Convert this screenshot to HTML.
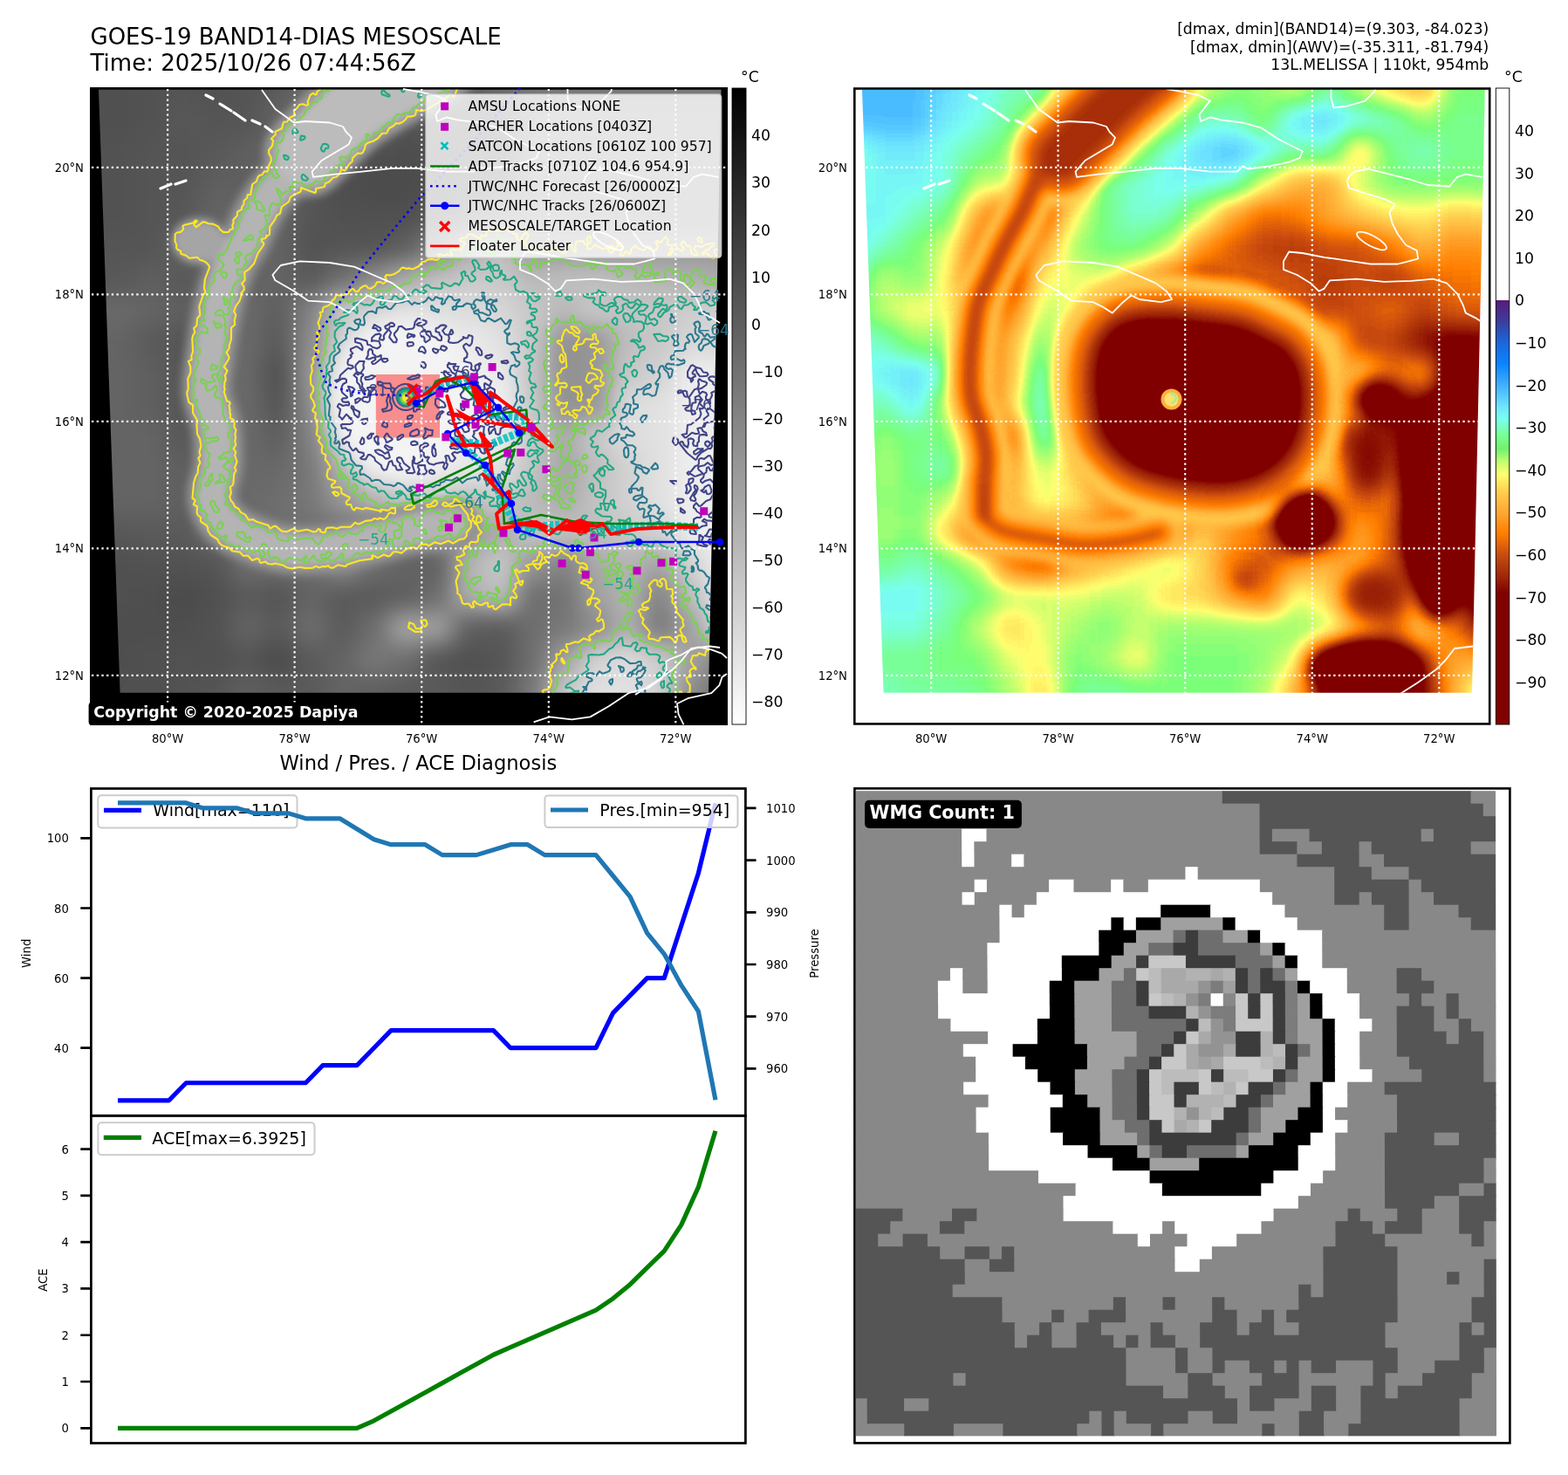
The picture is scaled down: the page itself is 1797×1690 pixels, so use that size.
<!DOCTYPE html><html><head><meta charset="utf-8"><style>html,body{margin:0;padding:0;background:#fff;overflow:hidden}svg{display:block}text{font-family:'DejaVu Sans', 'Liberation Sans', sans-serif}</style></head><body>
<svg xmlns="http://www.w3.org/2000/svg" width="1797" height="1690" viewBox="0 0 1797 1690">
<rect width="1797" height="1690" fill="#fff"/>
<defs><linearGradient id="gGray" x1="0" y1="0" x2="0" y2="1"><stop offset="0" stop-color="#000"/><stop offset="1" stop-color="#fff"/></linearGradient><linearGradient id="gAWV" x1="0" y1="0" x2="0" y2="1"><stop offset="0.0000" stop-color="#ffffff"/><stop offset="0.3333" stop-color="#ffffff"/><stop offset="0.3333" stop-color="#5a1a78"/><stop offset="0.3667" stop-color="#3b3d9e"/><stop offset="0.4000" stop-color="#1b66dc"/><stop offset="0.4333" stop-color="#0a84ff"/><stop offset="0.4667" stop-color="#3fb0ff"/><stop offset="0.5000" stop-color="#6ee4ff"/><stop offset="0.5200" stop-color="#78fff0"/><stop offset="0.5467" stop-color="#78ff90"/><stop offset="0.5667" stop-color="#70f070"/><stop offset="0.5867" stop-color="#c0ff70"/><stop offset="0.6067" stop-color="#ffff70"/><stop offset="0.6333" stop-color="#ffd050"/><stop offset="0.6667" stop-color="#ffa830"/><stop offset="0.7000" stop-color="#ff7e00"/><stop offset="0.7333" stop-color="#c84c10"/><stop offset="0.7667" stop-color="#a02808"/><stop offset="0.7933" stop-color="#800000"/><stop offset="1.0000" stop-color="#800000"/></linearGradient><clipPath id="clipL"><polygon points="113,102.8 826.5,102.8 812,793.8 137.6,793.8"/></clipPath><clipPath id="clipR"><polygon points="988,102.8 1701.8,102.8 1687,793.8 1012.6,793.8"/></clipPath><clipPath id="clipAxL"><rect x="103" y="100" width="731" height="731"/></clipPath><clipPath id="clipW"><rect x="980.7" y="905.6" width="734.3" height="740"/></clipPath><filter id="fL13" x="20" y="20" width="880" height="860" filterUnits="userSpaceOnUse" color-interpolation-filters="sRGB"><feGaussianBlur stdDeviation="13"/></filter><filter id="fL4" x="20" y="20" width="880" height="860" filterUnits="userSpaceOnUse" color-interpolation-filters="sRGB"><feGaussianBlur stdDeviation="5"/></filter><filter id="fL10" x="20" y="20" width="880" height="860" filterUnits="userSpaceOnUse" color-interpolation-filters="sRGB"><feGaussianBlur stdDeviation="12"/></filter><g id="imgL"><g filter="url(#fL13)"><rect x="3.0" y="2.7" width="117.0" height="117.0" fill="rgb(80,80,80)"/><rect x="119.4" y="2.7" width="37.0" height="117.0" fill="rgb(80,80,80)"/><rect x="155.8" y="2.7" width="37.0" height="117.0" fill="rgb(82,82,82)"/><rect x="192.1" y="2.7" width="37.0" height="117.0" fill="rgb(85,85,85)"/><rect x="228.5" y="2.7" width="37.0" height="117.0" fill="rgb(82,82,82)"/><rect x="264.9" y="2.7" width="37.0" height="117.0" fill="rgb(85,85,85)"/><rect x="301.2" y="2.7" width="37.0" height="117.0" fill="rgb(90,90,90)"/><rect x="337.6" y="2.7" width="37.0" height="117.0" fill="rgb(110,110,110)"/><rect x="374.0" y="2.7" width="37.0" height="117.0" fill="rgb(110,110,110)"/><rect x="410.4" y="2.7" width="37.0" height="117.0" fill="rgb(110,110,110)"/><rect x="446.8" y="2.7" width="37.0" height="117.0" fill="rgb(110,110,110)"/><rect x="483.1" y="2.7" width="37.0" height="117.0" fill="rgb(120,120,120)"/><rect x="519.5" y="2.7" width="37.0" height="117.0" fill="rgb(100,100,100)"/><rect x="555.9" y="2.7" width="37.0" height="117.0" fill="rgb(110,110,110)"/><rect x="592.2" y="2.7" width="37.0" height="117.0" fill="rgb(120,120,120)"/><rect x="628.6" y="2.7" width="37.0" height="117.0" fill="rgb(120,120,120)"/><rect x="665.0" y="2.7" width="37.0" height="117.0" fill="rgb(120,120,120)"/><rect x="701.4" y="2.7" width="37.0" height="117.0" fill="rgb(120,120,120)"/><rect x="737.8" y="2.7" width="37.0" height="117.0" fill="rgb(120,120,120)"/><rect x="774.1" y="2.7" width="37.0" height="117.0" fill="rgb(120,120,120)"/><rect x="810.5" y="2.7" width="117.0" height="117.0" fill="rgb(120,120,120)"/><rect x="3.0" y="119.1" width="117.0" height="37.0" fill="rgb(80,80,80)"/><rect x="119.4" y="119.1" width="37.0" height="37.0" fill="rgb(80,80,80)"/><rect x="155.8" y="119.1" width="37.0" height="37.0" fill="rgb(82,82,82)"/><rect x="192.1" y="119.1" width="37.0" height="37.0" fill="rgb(88,88,88)"/><rect x="228.5" y="119.1" width="37.0" height="37.0" fill="rgb(85,85,85)"/><rect x="264.9" y="119.1" width="37.0" height="37.0" fill="rgb(85,85,85)"/><rect x="301.2" y="119.1" width="37.0" height="37.0" fill="rgb(100,100,100)"/><rect x="337.6" y="119.1" width="37.0" height="37.0" fill="rgb(105,105,105)"/><rect x="374.0" y="119.1" width="37.0" height="37.0" fill="rgb(105,105,105)"/><rect x="410.4" y="119.1" width="37.0" height="37.0" fill="rgb(105,105,105)"/><rect x="446.8" y="119.1" width="37.0" height="37.0" fill="rgb(85,85,85)"/><rect x="483.1" y="119.1" width="37.0" height="37.0" fill="rgb(90,90,90)"/><rect x="519.5" y="119.1" width="37.0" height="37.0" fill="rgb(90,90,90)"/><rect x="555.9" y="119.1" width="37.0" height="37.0" fill="rgb(90,90,90)"/><rect x="592.2" y="119.1" width="37.0" height="37.0" fill="rgb(130,130,130)"/><rect x="628.6" y="119.1" width="37.0" height="37.0" fill="rgb(130,130,130)"/><rect x="665.0" y="119.1" width="37.0" height="37.0" fill="rgb(130,130,130)"/><rect x="701.4" y="119.1" width="37.0" height="37.0" fill="rgb(130,130,130)"/><rect x="737.8" y="119.1" width="37.0" height="37.0" fill="rgb(130,130,130)"/><rect x="774.1" y="119.1" width="37.0" height="37.0" fill="rgb(130,130,130)"/><rect x="810.5" y="119.1" width="117.0" height="37.0" fill="rgb(130,130,130)"/><rect x="3.0" y="155.4" width="117.0" height="37.0" fill="rgb(82,82,82)"/><rect x="119.4" y="155.4" width="37.0" height="37.0" fill="rgb(82,82,82)"/><rect x="155.8" y="155.4" width="37.0" height="37.0" fill="rgb(85,85,85)"/><rect x="192.1" y="155.4" width="37.0" height="37.0" fill="rgb(85,85,85)"/><rect x="228.5" y="155.4" width="37.0" height="37.0" fill="rgb(88,88,88)"/><rect x="264.9" y="155.4" width="37.0" height="37.0" fill="rgb(95,95,95)"/><rect x="301.2" y="155.4" width="37.0" height="37.0" fill="rgb(100,100,100)"/><rect x="337.6" y="155.4" width="37.0" height="37.0" fill="rgb(100,100,100)"/><rect x="374.0" y="155.4" width="37.0" height="37.0" fill="rgb(95,95,95)"/><rect x="410.4" y="155.4" width="37.0" height="37.0" fill="rgb(80,80,80)"/><rect x="446.8" y="155.4" width="37.0" height="37.0" fill="rgb(78,78,78)"/><rect x="483.1" y="155.4" width="37.0" height="37.0" fill="rgb(80,80,80)"/><rect x="519.5" y="155.4" width="37.0" height="37.0" fill="rgb(85,85,85)"/><rect x="555.9" y="155.4" width="37.0" height="37.0" fill="rgb(85,85,85)"/><rect x="592.2" y="155.4" width="37.0" height="37.0" fill="rgb(130,130,130)"/><rect x="628.6" y="155.4" width="37.0" height="37.0" fill="rgb(130,130,130)"/><rect x="665.0" y="155.4" width="37.0" height="37.0" fill="rgb(130,130,130)"/><rect x="701.4" y="155.4" width="37.0" height="37.0" fill="rgb(130,130,130)"/><rect x="737.8" y="155.4" width="37.0" height="37.0" fill="rgb(130,130,130)"/><rect x="774.1" y="155.4" width="37.0" height="37.0" fill="rgb(130,130,130)"/><rect x="810.5" y="155.4" width="117.0" height="37.0" fill="rgb(130,130,130)"/><rect x="3.0" y="191.8" width="117.0" height="37.0" fill="rgb(82,82,82)"/><rect x="119.4" y="191.8" width="37.0" height="37.0" fill="rgb(82,82,82)"/><rect x="155.8" y="191.8" width="37.0" height="37.0" fill="rgb(85,85,85)"/><rect x="192.1" y="191.8" width="37.0" height="37.0" fill="rgb(85,85,85)"/><rect x="228.5" y="191.8" width="37.0" height="37.0" fill="rgb(95,95,95)"/><rect x="264.9" y="191.8" width="37.0" height="37.0" fill="rgb(95,95,95)"/><rect x="301.2" y="191.8" width="37.0" height="37.0" fill="rgb(95,95,95)"/><rect x="337.6" y="191.8" width="37.0" height="37.0" fill="rgb(85,85,85)"/><rect x="374.0" y="191.8" width="37.0" height="37.0" fill="rgb(78,78,78)"/><rect x="410.4" y="191.8" width="37.0" height="37.0" fill="rgb(75,75,75)"/><rect x="446.8" y="191.8" width="37.0" height="37.0" fill="rgb(75,75,75)"/><rect x="483.1" y="191.8" width="37.0" height="37.0" fill="rgb(80,80,80)"/><rect x="519.5" y="191.8" width="37.0" height="37.0" fill="rgb(85,85,85)"/><rect x="555.9" y="191.8" width="37.0" height="37.0" fill="rgb(90,90,90)"/><rect x="592.2" y="191.8" width="37.0" height="37.0" fill="rgb(130,130,130)"/><rect x="628.6" y="191.8" width="37.0" height="37.0" fill="rgb(130,130,130)"/><rect x="665.0" y="191.8" width="37.0" height="37.0" fill="rgb(130,130,130)"/><rect x="701.4" y="191.8" width="37.0" height="37.0" fill="rgb(130,130,130)"/><rect x="737.8" y="191.8" width="37.0" height="37.0" fill="rgb(130,130,130)"/><rect x="774.1" y="191.8" width="37.0" height="37.0" fill="rgb(130,130,130)"/><rect x="810.5" y="191.8" width="117.0" height="37.0" fill="rgb(130,130,130)"/><rect x="3.0" y="228.2" width="117.0" height="37.0" fill="rgb(82,82,82)"/><rect x="119.4" y="228.2" width="37.0" height="37.0" fill="rgb(82,82,82)"/><rect x="155.8" y="228.2" width="37.0" height="37.0" fill="rgb(85,85,85)"/><rect x="192.1" y="228.2" width="37.0" height="37.0" fill="rgb(88,88,88)"/><rect x="228.5" y="228.2" width="37.0" height="37.0" fill="rgb(100,100,100)"/><rect x="264.9" y="228.2" width="37.0" height="37.0" fill="rgb(100,100,100)"/><rect x="301.2" y="228.2" width="37.0" height="37.0" fill="rgb(100,100,100)"/><rect x="337.6" y="228.2" width="37.0" height="37.0" fill="rgb(85,85,85)"/><rect x="374.0" y="228.2" width="37.0" height="37.0" fill="rgb(80,80,80)"/><rect x="410.4" y="228.2" width="37.0" height="37.0" fill="rgb(80,80,80)"/><rect x="446.8" y="228.2" width="37.0" height="37.0" fill="rgb(80,80,80)"/><rect x="483.1" y="228.2" width="37.0" height="37.0" fill="rgb(85,85,85)"/><rect x="519.5" y="228.2" width="37.0" height="37.0" fill="rgb(100,100,100)"/><rect x="555.9" y="228.2" width="37.0" height="37.0" fill="rgb(120,120,120)"/><rect x="592.2" y="228.2" width="37.0" height="37.0" fill="rgb(130,130,130)"/><rect x="628.6" y="228.2" width="37.0" height="37.0" fill="rgb(130,130,130)"/><rect x="665.0" y="228.2" width="37.0" height="37.0" fill="rgb(130,130,130)"/><rect x="701.4" y="228.2" width="37.0" height="37.0" fill="rgb(130,130,130)"/><rect x="737.8" y="228.2" width="37.0" height="37.0" fill="rgb(130,130,130)"/><rect x="774.1" y="228.2" width="37.0" height="37.0" fill="rgb(130,130,130)"/><rect x="810.5" y="228.2" width="117.0" height="37.0" fill="rgb(130,130,130)"/><rect x="3.0" y="264.6" width="117.0" height="37.0" fill="rgb(85,85,85)"/><rect x="119.4" y="264.6" width="37.0" height="37.0" fill="rgb(85,85,85)"/><rect x="155.8" y="264.6" width="37.0" height="37.0" fill="rgb(85,85,85)"/><rect x="192.1" y="264.6" width="37.0" height="37.0" fill="rgb(100,100,100)"/><rect x="228.5" y="264.6" width="37.0" height="37.0" fill="rgb(100,100,100)"/><rect x="264.9" y="264.6" width="37.0" height="37.0" fill="rgb(100,100,100)"/><rect x="301.2" y="264.6" width="37.0" height="37.0" fill="rgb(100,100,100)"/><rect x="337.6" y="264.6" width="37.0" height="37.0" fill="rgb(82,82,82)"/><rect x="374.0" y="264.6" width="37.0" height="37.0" fill="rgb(85,85,85)"/><rect x="410.4" y="264.6" width="37.0" height="37.0" fill="rgb(85,85,85)"/><rect x="446.8" y="264.6" width="37.0" height="37.0" fill="rgb(95,95,95)"/><rect x="483.1" y="264.6" width="37.0" height="37.0" fill="rgb(130,130,130)"/><rect x="519.5" y="264.6" width="37.0" height="37.0" fill="rgb(170,170,170)"/><rect x="555.9" y="264.6" width="37.0" height="37.0" fill="rgb(190,190,190)"/><rect x="592.2" y="264.6" width="37.0" height="37.0" fill="rgb(150,150,150)"/><rect x="628.6" y="264.6" width="37.0" height="37.0" fill="rgb(150,150,150)"/><rect x="665.0" y="264.6" width="37.0" height="37.0" fill="rgb(150,150,150)"/><rect x="701.4" y="264.6" width="37.0" height="37.0" fill="rgb(150,150,150)"/><rect x="737.8" y="264.6" width="37.0" height="37.0" fill="rgb(150,150,150)"/><rect x="774.1" y="264.6" width="37.0" height="37.0" fill="rgb(150,150,150)"/><rect x="810.5" y="264.6" width="117.0" height="37.0" fill="rgb(150,150,150)"/><rect x="3.0" y="300.9" width="117.0" height="37.0" fill="rgb(88,88,88)"/><rect x="119.4" y="300.9" width="37.0" height="37.0" fill="rgb(88,88,88)"/><rect x="155.8" y="300.9" width="37.0" height="37.0" fill="rgb(95,95,95)"/><rect x="192.1" y="300.9" width="37.0" height="37.0" fill="rgb(88,88,88)"/><rect x="228.5" y="300.9" width="37.0" height="37.0" fill="rgb(100,100,100)"/><rect x="264.9" y="300.9" width="37.0" height="37.0" fill="rgb(100,100,100)"/><rect x="301.2" y="300.9" width="37.0" height="37.0" fill="rgb(100,100,100)"/><rect x="337.6" y="300.9" width="37.0" height="37.0" fill="rgb(90,90,90)"/><rect x="374.0" y="300.9" width="37.0" height="37.0" fill="rgb(110,110,110)"/><rect x="410.4" y="300.9" width="37.0" height="37.0" fill="rgb(140,140,140)"/><rect x="446.8" y="300.9" width="37.0" height="37.0" fill="rgb(170,170,170)"/><rect x="483.1" y="300.9" width="37.0" height="37.0" fill="rgb(190,190,190)"/><rect x="519.5" y="300.9" width="37.0" height="37.0" fill="rgb(200,200,200)"/><rect x="555.9" y="300.9" width="37.0" height="37.0" fill="rgb(200,200,200)"/><rect x="592.2" y="300.9" width="37.0" height="37.0" fill="rgb(185,185,185)"/><rect x="628.6" y="300.9" width="37.0" height="37.0" fill="rgb(190,190,190)"/><rect x="665.0" y="300.9" width="37.0" height="37.0" fill="rgb(190,190,190)"/><rect x="701.4" y="300.9" width="37.0" height="37.0" fill="rgb(185,185,185)"/><rect x="737.8" y="300.9" width="37.0" height="37.0" fill="rgb(180,180,180)"/><rect x="774.1" y="300.9" width="37.0" height="37.0" fill="rgb(175,175,175)"/><rect x="810.5" y="300.9" width="117.0" height="37.0" fill="rgb(170,170,170)"/><rect x="3.0" y="337.3" width="117.0" height="37.0" fill="rgb(105,105,105)"/><rect x="119.4" y="337.3" width="37.0" height="37.0" fill="rgb(105,105,105)"/><rect x="155.8" y="337.3" width="37.0" height="37.0" fill="rgb(100,100,100)"/><rect x="192.1" y="337.3" width="37.0" height="37.0" fill="rgb(95,95,95)"/><rect x="228.5" y="337.3" width="37.0" height="37.0" fill="rgb(105,105,105)"/><rect x="264.9" y="337.3" width="37.0" height="37.0" fill="rgb(105,105,105)"/><rect x="301.2" y="337.3" width="37.0" height="37.0" fill="rgb(95,95,95)"/><rect x="337.6" y="337.3" width="37.0" height="37.0" fill="rgb(130,130,130)"/><rect x="374.0" y="337.3" width="37.0" height="37.0" fill="rgb(200,200,200)"/><rect x="410.4" y="337.3" width="37.0" height="37.0" fill="rgb(215,215,215)"/><rect x="446.8" y="337.3" width="37.0" height="37.0" fill="rgb(225,225,225)"/><rect x="483.1" y="337.3" width="37.0" height="37.0" fill="rgb(225,225,225)"/><rect x="519.5" y="337.3" width="37.0" height="37.0" fill="rgb(220,220,220)"/><rect x="555.9" y="337.3" width="37.0" height="37.0" fill="rgb(215,215,215)"/><rect x="592.2" y="337.3" width="37.0" height="37.0" fill="rgb(200,200,200)"/><rect x="628.6" y="337.3" width="37.0" height="37.0" fill="rgb(185,185,185)"/><rect x="665.0" y="337.3" width="37.0" height="37.0" fill="rgb(200,200,200)"/><rect x="701.4" y="337.3" width="37.0" height="37.0" fill="rgb(195,195,195)"/><rect x="737.8" y="337.3" width="37.0" height="37.0" fill="rgb(200,200,200)"/><rect x="774.1" y="337.3" width="37.0" height="37.0" fill="rgb(205,205,205)"/><rect x="810.5" y="337.3" width="117.0" height="37.0" fill="rgb(210,210,210)"/><rect x="3.0" y="373.7" width="117.0" height="37.0" fill="rgb(100,100,100)"/><rect x="119.4" y="373.7" width="37.0" height="37.0" fill="rgb(100,100,100)"/><rect x="155.8" y="373.7" width="37.0" height="37.0" fill="rgb(90,90,90)"/><rect x="192.1" y="373.7" width="37.0" height="37.0" fill="rgb(85,85,85)"/><rect x="228.5" y="373.7" width="37.0" height="37.0" fill="rgb(105,105,105)"/><rect x="264.9" y="373.7" width="37.0" height="37.0" fill="rgb(105,105,105)"/><rect x="301.2" y="373.7" width="37.0" height="37.0" fill="rgb(90,90,90)"/><rect x="337.6" y="373.7" width="37.0" height="37.0" fill="rgb(140,140,140)"/><rect x="374.0" y="373.7" width="37.0" height="37.0" fill="rgb(210,210,210)"/><rect x="410.4" y="373.7" width="37.0" height="37.0" fill="rgb(235,235,235)"/><rect x="446.8" y="373.7" width="37.0" height="37.0" fill="rgb(240,240,240)"/><rect x="483.1" y="373.7" width="37.0" height="37.0" fill="rgb(240,240,240)"/><rect x="519.5" y="373.7" width="37.0" height="37.0" fill="rgb(235,235,235)"/><rect x="555.9" y="373.7" width="37.0" height="37.0" fill="rgb(225,225,225)"/><rect x="592.2" y="373.7" width="37.0" height="37.0" fill="rgb(200,200,200)"/><rect x="628.6" y="373.7" width="37.0" height="37.0" fill="rgb(145,145,145)"/><rect x="665.0" y="373.7" width="37.0" height="37.0" fill="rgb(150,150,150)"/><rect x="701.4" y="373.7" width="37.0" height="37.0" fill="rgb(190,190,190)"/><rect x="737.8" y="373.7" width="37.0" height="37.0" fill="rgb(200,200,200)"/><rect x="774.1" y="373.7" width="37.0" height="37.0" fill="rgb(215,215,215)"/><rect x="810.5" y="373.7" width="117.0" height="37.0" fill="rgb(215,215,215)"/><rect x="3.0" y="410.1" width="117.0" height="37.0" fill="rgb(100,100,100)"/><rect x="119.4" y="410.1" width="37.0" height="37.0" fill="rgb(100,100,100)"/><rect x="155.8" y="410.1" width="37.0" height="37.0" fill="rgb(95,95,95)"/><rect x="192.1" y="410.1" width="37.0" height="37.0" fill="rgb(85,85,85)"/><rect x="228.5" y="410.1" width="37.0" height="37.0" fill="rgb(105,105,105)"/><rect x="264.9" y="410.1" width="37.0" height="37.0" fill="rgb(105,105,105)"/><rect x="301.2" y="410.1" width="37.0" height="37.0" fill="rgb(80,80,80)"/><rect x="337.6" y="410.1" width="37.0" height="37.0" fill="rgb(150,150,150)"/><rect x="374.0" y="410.1" width="37.0" height="37.0" fill="rgb(215,215,215)"/><rect x="410.4" y="410.1" width="37.0" height="37.0" fill="rgb(240,240,240)"/><rect x="446.8" y="410.1" width="37.0" height="37.0" fill="rgb(240,240,240)"/><rect x="483.1" y="410.1" width="37.0" height="37.0" fill="rgb(245,245,245)"/><rect x="519.5" y="410.1" width="37.0" height="37.0" fill="rgb(240,240,240)"/><rect x="555.9" y="410.1" width="37.0" height="37.0" fill="rgb(235,235,235)"/><rect x="592.2" y="410.1" width="37.0" height="37.0" fill="rgb(195,195,195)"/><rect x="628.6" y="410.1" width="37.0" height="37.0" fill="rgb(145,145,145)"/><rect x="665.0" y="410.1" width="37.0" height="37.0" fill="rgb(150,150,150)"/><rect x="701.4" y="410.1" width="37.0" height="37.0" fill="rgb(200,200,200)"/><rect x="737.8" y="410.1" width="37.0" height="37.0" fill="rgb(210,210,210)"/><rect x="774.1" y="410.1" width="37.0" height="37.0" fill="rgb(238,238,238)"/><rect x="810.5" y="410.1" width="117.0" height="37.0" fill="rgb(238,238,238)"/><rect x="3.0" y="446.4" width="117.0" height="37.0" fill="rgb(100,100,100)"/><rect x="119.4" y="446.4" width="37.0" height="37.0" fill="rgb(100,100,100)"/><rect x="155.8" y="446.4" width="37.0" height="37.0" fill="rgb(95,95,95)"/><rect x="192.1" y="446.4" width="37.0" height="37.0" fill="rgb(85,85,85)"/><rect x="228.5" y="446.4" width="37.0" height="37.0" fill="rgb(105,105,105)"/><rect x="264.9" y="446.4" width="37.0" height="37.0" fill="rgb(105,105,105)"/><rect x="301.2" y="446.4" width="37.0" height="37.0" fill="rgb(85,85,85)"/><rect x="337.6" y="446.4" width="37.0" height="37.0" fill="rgb(140,140,140)"/><rect x="374.0" y="446.4" width="37.0" height="37.0" fill="rgb(215,215,215)"/><rect x="410.4" y="446.4" width="37.0" height="37.0" fill="rgb(240,240,240)"/><rect x="446.8" y="446.4" width="37.0" height="37.0" fill="rgb(240,240,240)"/><rect x="483.1" y="446.4" width="37.0" height="37.0" fill="rgb(240,240,240)"/><rect x="519.5" y="446.4" width="37.0" height="37.0" fill="rgb(240,240,240)"/><rect x="555.9" y="446.4" width="37.0" height="37.0" fill="rgb(240,240,240)"/><rect x="592.2" y="446.4" width="37.0" height="37.0" fill="rgb(200,200,200)"/><rect x="628.6" y="446.4" width="37.0" height="37.0" fill="rgb(145,145,145)"/><rect x="665.0" y="446.4" width="37.0" height="37.0" fill="rgb(150,150,150)"/><rect x="701.4" y="446.4" width="37.0" height="37.0" fill="rgb(220,220,220)"/><rect x="737.8" y="446.4" width="37.0" height="37.0" fill="rgb(225,225,225)"/><rect x="774.1" y="446.4" width="37.0" height="37.0" fill="rgb(238,238,238)"/><rect x="810.5" y="446.4" width="117.0" height="37.0" fill="rgb(238,238,238)"/><rect x="3.0" y="482.8" width="117.0" height="37.0" fill="rgb(100,100,100)"/><rect x="119.4" y="482.8" width="37.0" height="37.0" fill="rgb(100,100,100)"/><rect x="155.8" y="482.8" width="37.0" height="37.0" fill="rgb(100,100,100)"/><rect x="192.1" y="482.8" width="37.0" height="37.0" fill="rgb(88,88,88)"/><rect x="228.5" y="482.8" width="37.0" height="37.0" fill="rgb(105,105,105)"/><rect x="264.9" y="482.8" width="37.0" height="37.0" fill="rgb(105,105,105)"/><rect x="301.2" y="482.8" width="37.0" height="37.0" fill="rgb(95,95,95)"/><rect x="337.6" y="482.8" width="37.0" height="37.0" fill="rgb(130,130,130)"/><rect x="374.0" y="482.8" width="37.0" height="37.0" fill="rgb(210,210,210)"/><rect x="410.4" y="482.8" width="37.0" height="37.0" fill="rgb(235,235,235)"/><rect x="446.8" y="482.8" width="37.0" height="37.0" fill="rgb(240,240,240)"/><rect x="483.1" y="482.8" width="37.0" height="37.0" fill="rgb(240,240,240)"/><rect x="519.5" y="482.8" width="37.0" height="37.0" fill="rgb(240,240,240)"/><rect x="555.9" y="482.8" width="37.0" height="37.0" fill="rgb(235,235,235)"/><rect x="592.2" y="482.8" width="37.0" height="37.0" fill="rgb(200,200,200)"/><rect x="628.6" y="482.8" width="37.0" height="37.0" fill="rgb(170,170,170)"/><rect x="665.0" y="482.8" width="37.0" height="37.0" fill="rgb(200,200,200)"/><rect x="701.4" y="482.8" width="37.0" height="37.0" fill="rgb(220,220,220)"/><rect x="737.8" y="482.8" width="37.0" height="37.0" fill="rgb(225,225,225)"/><rect x="774.1" y="482.8" width="37.0" height="37.0" fill="rgb(238,238,238)"/><rect x="810.5" y="482.8" width="117.0" height="37.0" fill="rgb(238,238,238)"/><rect x="3.0" y="519.2" width="117.0" height="37.0" fill="rgb(100,100,100)"/><rect x="119.4" y="519.2" width="37.0" height="37.0" fill="rgb(100,100,100)"/><rect x="155.8" y="519.2" width="37.0" height="37.0" fill="rgb(100,100,100)"/><rect x="192.1" y="519.2" width="37.0" height="37.0" fill="rgb(95,95,95)"/><rect x="228.5" y="519.2" width="37.0" height="37.0" fill="rgb(105,105,105)"/><rect x="264.9" y="519.2" width="37.0" height="37.0" fill="rgb(105,105,105)"/><rect x="301.2" y="519.2" width="37.0" height="37.0" fill="rgb(105,105,105)"/><rect x="337.6" y="519.2" width="37.0" height="37.0" fill="rgb(120,120,120)"/><rect x="374.0" y="519.2" width="37.0" height="37.0" fill="rgb(180,180,180)"/><rect x="410.4" y="519.2" width="37.0" height="37.0" fill="rgb(225,225,225)"/><rect x="446.8" y="519.2" width="37.0" height="37.0" fill="rgb(235,235,235)"/><rect x="483.1" y="519.2" width="37.0" height="37.0" fill="rgb(235,235,235)"/><rect x="519.5" y="519.2" width="37.0" height="37.0" fill="rgb(230,230,230)"/><rect x="555.9" y="519.2" width="37.0" height="37.0" fill="rgb(225,225,225)"/><rect x="592.2" y="519.2" width="37.0" height="37.0" fill="rgb(195,195,195)"/><rect x="628.6" y="519.2" width="37.0" height="37.0" fill="rgb(165,165,165)"/><rect x="665.0" y="519.2" width="37.0" height="37.0" fill="rgb(190,190,190)"/><rect x="701.4" y="519.2" width="37.0" height="37.0" fill="rgb(210,210,210)"/><rect x="737.8" y="519.2" width="37.0" height="37.0" fill="rgb(225,225,225)"/><rect x="774.1" y="519.2" width="37.0" height="37.0" fill="rgb(238,238,238)"/><rect x="810.5" y="519.2" width="117.0" height="37.0" fill="rgb(238,238,238)"/><rect x="3.0" y="555.6" width="117.0" height="37.0" fill="rgb(100,100,100)"/><rect x="119.4" y="555.6" width="37.0" height="37.0" fill="rgb(100,100,100)"/><rect x="155.8" y="555.6" width="37.0" height="37.0" fill="rgb(100,100,100)"/><rect x="192.1" y="555.6" width="37.0" height="37.0" fill="rgb(95,95,95)"/><rect x="228.5" y="555.6" width="37.0" height="37.0" fill="rgb(105,105,105)"/><rect x="264.9" y="555.6" width="37.0" height="37.0" fill="rgb(105,105,105)"/><rect x="301.2" y="555.6" width="37.0" height="37.0" fill="rgb(110,110,110)"/><rect x="337.6" y="555.6" width="37.0" height="37.0" fill="rgb(120,120,120)"/><rect x="374.0" y="555.6" width="37.0" height="37.0" fill="rgb(150,150,150)"/><rect x="410.4" y="555.6" width="37.0" height="37.0" fill="rgb(180,180,180)"/><rect x="446.8" y="555.6" width="37.0" height="37.0" fill="rgb(200,200,200)"/><rect x="483.1" y="555.6" width="37.0" height="37.0" fill="rgb(200,200,200)"/><rect x="519.5" y="555.6" width="37.0" height="37.0" fill="rgb(190,190,190)"/><rect x="555.9" y="555.6" width="37.0" height="37.0" fill="rgb(200,200,200)"/><rect x="592.2" y="555.6" width="37.0" height="37.0" fill="rgb(185,185,185)"/><rect x="628.6" y="555.6" width="37.0" height="37.0" fill="rgb(170,170,170)"/><rect x="665.0" y="555.6" width="37.0" height="37.0" fill="rgb(195,195,195)"/><rect x="701.4" y="555.6" width="37.0" height="37.0" fill="rgb(210,210,210)"/><rect x="737.8" y="555.6" width="37.0" height="37.0" fill="rgb(225,225,225)"/><rect x="774.1" y="555.6" width="37.0" height="37.0" fill="rgb(238,238,238)"/><rect x="810.5" y="555.6" width="117.0" height="37.0" fill="rgb(238,238,238)"/><rect x="3.0" y="592.0" width="117.0" height="37.0" fill="rgb(88,88,88)"/><rect x="119.4" y="592.0" width="37.0" height="37.0" fill="rgb(88,88,88)"/><rect x="155.8" y="592.0" width="37.0" height="37.0" fill="rgb(90,90,90)"/><rect x="192.1" y="592.0" width="37.0" height="37.0" fill="rgb(90,90,90)"/><rect x="228.5" y="592.0" width="37.0" height="37.0" fill="rgb(110,110,110)"/><rect x="264.9" y="592.0" width="37.0" height="37.0" fill="rgb(110,110,110)"/><rect x="301.2" y="592.0" width="37.0" height="37.0" fill="rgb(110,110,110)"/><rect x="337.6" y="592.0" width="37.0" height="37.0" fill="rgb(110,110,110)"/><rect x="374.0" y="592.0" width="37.0" height="37.0" fill="rgb(110,110,110)"/><rect x="410.4" y="592.0" width="37.0" height="37.0" fill="rgb(110,110,110)"/><rect x="446.8" y="592.0" width="37.0" height="37.0" fill="rgb(110,110,110)"/><rect x="483.1" y="592.0" width="37.0" height="37.0" fill="rgb(150,150,150)"/><rect x="519.5" y="592.0" width="37.0" height="37.0" fill="rgb(150,150,150)"/><rect x="555.9" y="592.0" width="37.0" height="37.0" fill="rgb(170,170,170)"/><rect x="592.2" y="592.0" width="37.0" height="37.0" fill="rgb(200,200,200)"/><rect x="628.6" y="592.0" width="37.0" height="37.0" fill="rgb(195,195,195)"/><rect x="665.0" y="592.0" width="37.0" height="37.0" fill="rgb(190,190,190)"/><rect x="701.4" y="592.0" width="37.0" height="37.0" fill="rgb(200,200,200)"/><rect x="737.8" y="592.0" width="37.0" height="37.0" fill="rgb(210,210,210)"/><rect x="774.1" y="592.0" width="37.0" height="37.0" fill="rgb(238,238,238)"/><rect x="810.5" y="592.0" width="117.0" height="37.0" fill="rgb(238,238,238)"/><rect x="3.0" y="628.3" width="117.0" height="37.0" fill="rgb(80,80,80)"/><rect x="119.4" y="628.3" width="37.0" height="37.0" fill="rgb(80,80,80)"/><rect x="155.8" y="628.3" width="37.0" height="37.0" fill="rgb(82,82,82)"/><rect x="192.1" y="628.3" width="37.0" height="37.0" fill="rgb(82,82,82)"/><rect x="228.5" y="628.3" width="37.0" height="37.0" fill="rgb(85,85,85)"/><rect x="264.9" y="628.3" width="37.0" height="37.0" fill="rgb(110,110,110)"/><rect x="301.2" y="628.3" width="37.0" height="37.0" fill="rgb(110,110,110)"/><rect x="337.6" y="628.3" width="37.0" height="37.0" fill="rgb(110,110,110)"/><rect x="374.0" y="628.3" width="37.0" height="37.0" fill="rgb(140,140,140)"/><rect x="410.4" y="628.3" width="37.0" height="37.0" fill="rgb(110,110,110)"/><rect x="446.8" y="628.3" width="37.0" height="37.0" fill="rgb(100,100,100)"/><rect x="483.1" y="628.3" width="37.0" height="37.0" fill="rgb(95,95,95)"/><rect x="519.5" y="628.3" width="37.0" height="37.0" fill="rgb(180,180,180)"/><rect x="555.9" y="628.3" width="37.0" height="37.0" fill="rgb(200,200,200)"/><rect x="592.2" y="628.3" width="37.0" height="37.0" fill="rgb(150,150,150)"/><rect x="628.6" y="628.3" width="37.0" height="37.0" fill="rgb(130,130,130)"/><rect x="665.0" y="628.3" width="37.0" height="37.0" fill="rgb(170,170,170)"/><rect x="701.4" y="628.3" width="37.0" height="37.0" fill="rgb(180,180,180)"/><rect x="737.8" y="628.3" width="37.0" height="37.0" fill="rgb(165,165,165)"/><rect x="774.1" y="628.3" width="37.0" height="37.0" fill="rgb(210,210,210)"/><rect x="810.5" y="628.3" width="117.0" height="37.0" fill="rgb(240,240,240)"/><rect x="3.0" y="664.7" width="117.0" height="37.0" fill="rgb(80,80,80)"/><rect x="119.4" y="664.7" width="37.0" height="37.0" fill="rgb(80,80,80)"/><rect x="155.8" y="664.7" width="37.0" height="37.0" fill="rgb(78,78,78)"/><rect x="192.1" y="664.7" width="37.0" height="37.0" fill="rgb(75,75,75)"/><rect x="228.5" y="664.7" width="37.0" height="37.0" fill="rgb(80,80,80)"/><rect x="264.9" y="664.7" width="37.0" height="37.0" fill="rgb(90,90,90)"/><rect x="301.2" y="664.7" width="37.0" height="37.0" fill="rgb(85,85,85)"/><rect x="337.6" y="664.7" width="37.0" height="37.0" fill="rgb(100,100,100)"/><rect x="374.0" y="664.7" width="37.0" height="37.0" fill="rgb(90,90,90)"/><rect x="410.4" y="664.7" width="37.0" height="37.0" fill="rgb(90,90,90)"/><rect x="446.8" y="664.7" width="37.0" height="37.0" fill="rgb(95,95,95)"/><rect x="483.1" y="664.7" width="37.0" height="37.0" fill="rgb(110,110,110)"/><rect x="519.5" y="664.7" width="37.0" height="37.0" fill="rgb(175,175,175)"/><rect x="555.9" y="664.7" width="37.0" height="37.0" fill="rgb(190,190,190)"/><rect x="592.2" y="664.7" width="37.0" height="37.0" fill="rgb(110,110,110)"/><rect x="628.6" y="664.7" width="37.0" height="37.0" fill="rgb(115,115,115)"/><rect x="665.0" y="664.7" width="37.0" height="37.0" fill="rgb(160,160,160)"/><rect x="701.4" y="664.7" width="37.0" height="37.0" fill="rgb(180,180,180)"/><rect x="737.8" y="664.7" width="37.0" height="37.0" fill="rgb(130,130,130)"/><rect x="774.1" y="664.7" width="37.0" height="37.0" fill="rgb(190,190,190)"/><rect x="810.5" y="664.7" width="117.0" height="37.0" fill="rgb(235,235,235)"/><rect x="3.0" y="701.1" width="117.0" height="37.0" fill="rgb(78,78,78)"/><rect x="119.4" y="701.1" width="37.0" height="37.0" fill="rgb(78,78,78)"/><rect x="155.8" y="701.1" width="37.0" height="37.0" fill="rgb(78,78,78)"/><rect x="192.1" y="701.1" width="37.0" height="37.0" fill="rgb(78,78,78)"/><rect x="228.5" y="701.1" width="37.0" height="37.0" fill="rgb(82,82,82)"/><rect x="264.9" y="701.1" width="37.0" height="37.0" fill="rgb(100,100,100)"/><rect x="301.2" y="701.1" width="37.0" height="37.0" fill="rgb(90,90,90)"/><rect x="337.6" y="701.1" width="37.0" height="37.0" fill="rgb(110,110,110)"/><rect x="374.0" y="701.1" width="37.0" height="37.0" fill="rgb(90,90,90)"/><rect x="410.4" y="701.1" width="37.0" height="37.0" fill="rgb(110,110,110)"/><rect x="446.8" y="701.1" width="37.0" height="37.0" fill="rgb(165,165,165)"/><rect x="483.1" y="701.1" width="37.0" height="37.0" fill="rgb(160,160,160)"/><rect x="519.5" y="701.1" width="37.0" height="37.0" fill="rgb(95,95,95)"/><rect x="555.9" y="701.1" width="37.0" height="37.0" fill="rgb(90,90,90)"/><rect x="592.2" y="701.1" width="37.0" height="37.0" fill="rgb(110,110,110)"/><rect x="628.6" y="701.1" width="37.0" height="37.0" fill="rgb(120,120,120)"/><rect x="665.0" y="701.1" width="37.0" height="37.0" fill="rgb(140,140,140)"/><rect x="701.4" y="701.1" width="37.0" height="37.0" fill="rgb(175,175,175)"/><rect x="737.8" y="701.1" width="37.0" height="37.0" fill="rgb(120,120,120)"/><rect x="774.1" y="701.1" width="37.0" height="37.0" fill="rgb(160,160,160)"/><rect x="810.5" y="701.1" width="117.0" height="37.0" fill="rgb(225,225,225)"/><rect x="3.0" y="737.5" width="117.0" height="37.0" fill="rgb(78,78,78)"/><rect x="119.4" y="737.5" width="37.0" height="37.0" fill="rgb(78,78,78)"/><rect x="155.8" y="737.5" width="37.0" height="37.0" fill="rgb(80,80,80)"/><rect x="192.1" y="737.5" width="37.0" height="37.0" fill="rgb(82,82,82)"/><rect x="228.5" y="737.5" width="37.0" height="37.0" fill="rgb(80,80,80)"/><rect x="264.9" y="737.5" width="37.0" height="37.0" fill="rgb(85,85,85)"/><rect x="301.2" y="737.5" width="37.0" height="37.0" fill="rgb(75,75,75)"/><rect x="337.6" y="737.5" width="37.0" height="37.0" fill="rgb(90,90,90)"/><rect x="374.0" y="737.5" width="37.0" height="37.0" fill="rgb(100,100,100)"/><rect x="410.4" y="737.5" width="37.0" height="37.0" fill="rgb(120,120,120)"/><rect x="446.8" y="737.5" width="37.0" height="37.0" fill="rgb(110,110,110)"/><rect x="483.1" y="737.5" width="37.0" height="37.0" fill="rgb(85,85,85)"/><rect x="519.5" y="737.5" width="37.0" height="37.0" fill="rgb(80,80,80)"/><rect x="555.9" y="737.5" width="37.0" height="37.0" fill="rgb(85,85,85)"/><rect x="592.2" y="737.5" width="37.0" height="37.0" fill="rgb(110,110,110)"/><rect x="628.6" y="737.5" width="37.0" height="37.0" fill="rgb(160,160,160)"/><rect x="665.0" y="737.5" width="37.0" height="37.0" fill="rgb(210,210,210)"/><rect x="701.4" y="737.5" width="37.0" height="37.0" fill="rgb(220,220,220)"/><rect x="737.8" y="737.5" width="37.0" height="37.0" fill="rgb(205,205,205)"/><rect x="774.1" y="737.5" width="37.0" height="37.0" fill="rgb(160,160,160)"/><rect x="810.5" y="737.5" width="117.0" height="37.0" fill="rgb(130,130,130)"/><rect x="3.0" y="773.8" width="117.0" height="37.0" fill="rgb(80,80,80)"/><rect x="119.4" y="773.8" width="37.0" height="37.0" fill="rgb(80,80,80)"/><rect x="155.8" y="773.8" width="37.0" height="37.0" fill="rgb(80,80,80)"/><rect x="192.1" y="773.8" width="37.0" height="37.0" fill="rgb(82,82,82)"/><rect x="228.5" y="773.8" width="37.0" height="37.0" fill="rgb(85,85,85)"/><rect x="264.9" y="773.8" width="37.0" height="37.0" fill="rgb(95,95,95)"/><rect x="301.2" y="773.8" width="37.0" height="37.0" fill="rgb(90,90,90)"/><rect x="337.6" y="773.8" width="37.0" height="37.0" fill="rgb(90,90,90)"/><rect x="374.0" y="773.8" width="37.0" height="37.0" fill="rgb(100,100,100)"/><rect x="410.4" y="773.8" width="37.0" height="37.0" fill="rgb(95,95,95)"/><rect x="446.8" y="773.8" width="37.0" height="37.0" fill="rgb(90,90,90)"/><rect x="483.1" y="773.8" width="37.0" height="37.0" fill="rgb(90,90,90)"/><rect x="519.5" y="773.8" width="37.0" height="37.0" fill="rgb(85,85,85)"/><rect x="555.9" y="773.8" width="37.0" height="37.0" fill="rgb(90,90,90)"/><rect x="592.2" y="773.8" width="37.0" height="37.0" fill="rgb(120,120,120)"/><rect x="628.6" y="773.8" width="37.0" height="37.0" fill="rgb(200,200,200)"/><rect x="665.0" y="773.8" width="37.0" height="37.0" fill="rgb(225,225,225)"/><rect x="701.4" y="773.8" width="37.0" height="37.0" fill="rgb(225,225,225)"/><rect x="737.8" y="773.8" width="37.0" height="37.0" fill="rgb(210,210,210)"/><rect x="774.1" y="773.8" width="37.0" height="37.0" fill="rgb(140,140,140)"/><rect x="810.5" y="773.8" width="117.0" height="37.0" fill="rgb(110,110,110)"/><rect x="3.0" y="810.2" width="117.0" height="117.0" fill="rgb(80,80,80)"/><rect x="119.4" y="810.2" width="37.0" height="117.0" fill="rgb(80,80,80)"/><rect x="155.8" y="810.2" width="37.0" height="117.0" fill="rgb(80,80,80)"/><rect x="192.1" y="810.2" width="37.0" height="117.0" fill="rgb(82,82,82)"/><rect x="228.5" y="810.2" width="37.0" height="117.0" fill="rgb(85,85,85)"/><rect x="264.9" y="810.2" width="37.0" height="117.0" fill="rgb(95,95,95)"/><rect x="301.2" y="810.2" width="37.0" height="117.0" fill="rgb(90,90,90)"/><rect x="337.6" y="810.2" width="37.0" height="117.0" fill="rgb(90,90,90)"/><rect x="374.0" y="810.2" width="37.0" height="117.0" fill="rgb(100,100,100)"/><rect x="410.4" y="810.2" width="37.0" height="117.0" fill="rgb(95,95,95)"/><rect x="446.8" y="810.2" width="37.0" height="117.0" fill="rgb(90,90,90)"/><rect x="483.1" y="810.2" width="37.0" height="117.0" fill="rgb(90,90,90)"/><rect x="519.5" y="810.2" width="37.0" height="117.0" fill="rgb(85,85,85)"/><rect x="555.9" y="810.2" width="37.0" height="117.0" fill="rgb(90,90,90)"/><rect x="592.2" y="810.2" width="37.0" height="117.0" fill="rgb(120,120,120)"/><rect x="628.6" y="810.2" width="37.0" height="117.0" fill="rgb(200,200,200)"/><rect x="665.0" y="810.2" width="37.0" height="117.0" fill="rgb(225,225,225)"/><rect x="701.4" y="810.2" width="37.0" height="117.0" fill="rgb(225,225,225)"/><rect x="737.8" y="810.2" width="37.0" height="117.0" fill="rgb(210,210,210)"/><rect x="774.1" y="810.2" width="37.0" height="117.0" fill="rgb(140,140,140)"/><rect x="810.5" y="810.2" width="117.0" height="117.0" fill="rgb(110,110,110)"/></g><g filter="url(#fL4)" fill="none" stroke-linecap="round" stroke-linejoin="round"><path d="M455.0 85.0 C447.5 91.2 422.8 111.2 410.0 122.0 C397.2 132.8 387.7 141.0 378.0 150.0 C368.3 159.0 360.0 167.7 352.0 176.0 C344.0 184.3 337.3 191.8 330.0 200.0 C322.7 208.2 314.2 216.7 308.0 225.0 C301.8 233.3 297.3 241.7 293.0 250.0 C288.7 258.3 286.2 267.0 282.0 275.0 C277.8 283.0 272.3 288.8 268.0 298.0 C263.7 307.2 259.3 319.2 256.0 330.0 C252.7 340.8 250.5 350.3 248.0 363.0 C245.5 375.7 242.8 391.5 241.0 406.0 C239.2 420.5 235.8 436.3 237.0 450.0 C238.2 463.7 245.8 474.2 248.0 488.0 C250.2 501.8 250.8 519.0 250.0 533.0 C249.2 547.0 241.0 560.3 243.0 572.0 C245.0 583.7 252.5 594.7 262.0 603.0 C271.5 611.3 287.3 617.5 300.0 622.0 C312.7 626.5 324.7 629.0 338.0 630.0 C351.3 631.0 367.5 629.3 380.0 628.0 C392.5 626.7 397.3 625.5 413.0 622.0 C428.7 618.5 456.2 610.7 474.0 607.0 C491.8 603.3 512.3 601.2 520.0 600.0" stroke="rgb(140,140,140)" stroke-width="58"/><path d="M500.0 70.0 C492.5 74.2 470.0 86.3 455.0 95.0 C440.0 103.7 422.8 112.8 410.0 122.0 C397.2 131.2 387.7 141.0 378.0 150.0 C368.3 159.0 356.3 171.7 352.0 176.0" stroke="rgb(150,150,150)" stroke-width="100"/><path d="M455.0 85.0 C447.5 91.2 422.8 111.2 410.0 122.0 C397.2 132.8 387.7 141.0 378.0 150.0 C368.3 159.0 360.0 167.7 352.0 176.0 C344.0 184.3 337.3 191.8 330.0 200.0 C322.7 208.2 314.2 216.7 308.0 225.0 C301.8 233.3 297.3 241.7 293.0 250.0 C288.7 258.3 286.2 267.0 282.0 275.0 C277.8 283.0 272.3 288.8 268.0 298.0 C263.7 307.2 259.3 319.2 256.0 330.0 C252.7 340.8 250.5 350.3 248.0 363.0 C245.5 375.7 242.8 391.5 241.0 406.0 C239.2 420.5 235.8 436.3 237.0 450.0 C238.2 463.7 245.8 474.2 248.0 488.0 C250.2 501.8 250.8 519.0 250.0 533.0 C249.2 547.0 241.0 560.3 243.0 572.0 C245.0 583.7 252.5 594.7 262.0 603.0 C271.5 611.3 287.3 617.5 300.0 622.0 C312.7 626.5 324.7 629.0 338.0 630.0 C351.3 631.0 367.5 629.3 380.0 628.0 C392.5 626.7 397.3 625.5 413.0 622.0 C428.7 618.5 456.2 610.7 474.0 607.0 C491.8 603.3 512.3 601.2 520.0 600.0" stroke="rgb(180,180,180)" stroke-width="38"/><path d="M500.0 70.0 C492.5 74.2 470.0 86.3 455.0 95.0 C440.0 103.7 422.8 112.8 410.0 122.0 C397.2 131.2 387.7 141.0 378.0 150.0 C368.3 159.0 356.3 171.7 352.0 176.0" stroke="rgb(188,188,188)" stroke-width="75"/><ellipse cx="228" cy="276" rx="31" ry="26" fill="rgb(165,165,165)"/></g><g filter="url(#fL10)"><ellipse cx="458" cy="458" rx="82" ry="88" fill="rgb(243,243,243)"/></g></g><filter id="fAWVc" x="900" y="40" width="880" height="860" filterUnits="userSpaceOnUse" color-interpolation-filters="sRGB"><feComponentTransfer><feFuncR type="table" tableValues="0.502 0.502 0.502 0.502 0.502 0.502 0.502 0.502 0.502 0.502 0.502 0.502 0.502 0.502 0.502 0.502 0.502 0.502 0.502 0.502 0.502 0.502 0.502 0.502 0.502 0.502 0.502 0.502 0.502 0.502 0.502 0.502 0.502 0.502 0.502 0.502 0.502 0.502 0.502 0.502 0.502 0.502 0.502 0.502 0.502 0.502 0.502 0.502 0.502 0.502 0.502 0.502 0.502 0.507 0.526 0.544 0.563 0.581 0.600 0.618 0.638 0.659 0.679 0.700 0.721 0.742 0.762 0.783 0.804 0.827 0.850 0.873 0.896 0.919 0.942 0.965 0.988 1.000 1.000 1.000 1.000 1.000 1.000 1.000 1.000 1.000 1.000 1.000 1.000 1.000 1.000 1.000 1.000 1.000 1.000 1.000 1.000 1.000 1.000 1.000 1.000 0.965 0.915 0.865 0.815 0.765 0.722 0.682 0.643 0.604 0.565 0.525 0.486 0.478 0.478 0.478 0.478 0.478 0.478 0.478 0.478 0.478 0.478 0.473 0.464 0.454 0.445 0.436 0.421 0.399 0.377 0.355 0.334 0.312 0.290 0.269 0.247 0.223 0.198 0.174 0.149 0.125 0.100 0.076 0.051 0.043 0.051 0.059 0.067 0.075 0.082 0.090 0.098 0.106 0.121 0.135 0.150 0.165 0.180 0.194 0.209 0.224 0.239 0.253 0.267 0.281 0.296 0.310 0.324 0.339 0.353 1.000 1.000 1.000 1.000 1.000 1.000 1.000 1.000 1.000 1.000 1.000 1.000 1.000 1.000 1.000 1.000 1.000 1.000 1.000 1.000 1.000 1.000 1.000 1.000 1.000 1.000 1.000 1.000 1.000 1.000 1.000 1.000 1.000 1.000 1.000 1.000 1.000 1.000 1.000 1.000 1.000 1.000 1.000 1.000 1.000 1.000 1.000 1.000 1.000 1.000 1.000 1.000 1.000 1.000 1.000 1.000 1.000 1.000 1.000 1.000 1.000 1.000 1.000 1.000 1.000 1.000 1.000 1.000 1.000 1.000 1.000 1.000 1.000 1.000 1.000 1.000 1.000 1.000 1.000 1.000 1.000 1.000 1.000 1.000 1.000"/><feFuncG type="table" tableValues="0.000 0.000 0.000 0.000 0.000 0.000 0.000 0.000 0.000 0.000 0.000 0.000 0.000 0.000 0.000 0.000 0.000 0.000 0.000 0.000 0.000 0.000 0.000 0.000 0.000 0.000 0.000 0.000 0.000 0.000 0.000 0.000 0.000 0.000 0.000 0.000 0.000 0.000 0.000 0.000 0.000 0.000 0.000 0.000 0.000 0.000 0.000 0.000 0.000 0.000 0.000 0.000 0.000 0.007 0.030 0.053 0.076 0.099 0.122 0.145 0.166 0.183 0.201 0.218 0.236 0.253 0.271 0.288 0.306 0.328 0.350 0.372 0.394 0.417 0.439 0.461 0.483 0.504 0.523 0.543 0.562 0.581 0.601 0.620 0.639 0.659 0.678 0.698 0.717 0.736 0.756 0.775 0.794 0.814 0.837 0.862 0.888 0.914 0.940 0.966 0.992 1.000 1.000 1.000 1.000 1.000 1.000 1.000 1.000 1.000 1.000 1.000 1.000 1.000 1.000 1.000 1.000 1.000 1.000 1.000 1.000 1.000 1.000 0.988 0.967 0.946 0.925 0.904 0.882 0.858 0.834 0.810 0.786 0.762 0.738 0.714 0.690 0.670 0.650 0.629 0.609 0.589 0.568 0.548 0.528 0.511 0.497 0.483 0.469 0.455 0.442 0.428 0.414 0.400 0.381 0.362 0.343 0.324 0.305 0.287 0.268 0.249 0.231 0.215 0.199 0.183 0.167 0.150 0.134 0.118 0.102 1.000 1.000 1.000 1.000 1.000 1.000 1.000 1.000 1.000 1.000 1.000 1.000 1.000 1.000 1.000 1.000 1.000 1.000 1.000 1.000 1.000 1.000 1.000 1.000 1.000 1.000 1.000 1.000 1.000 1.000 1.000 1.000 1.000 1.000 1.000 1.000 1.000 1.000 1.000 1.000 1.000 1.000 1.000 1.000 1.000 1.000 1.000 1.000 1.000 1.000 1.000 1.000 1.000 1.000 1.000 1.000 1.000 1.000 1.000 1.000 1.000 1.000 1.000 1.000 1.000 1.000 1.000 1.000 1.000 1.000 1.000 1.000 1.000 1.000 1.000 1.000 1.000 1.000 1.000 1.000 1.000 1.000 1.000 1.000 1.000"/><feFuncB type="table" tableValues="0.000 0.000 0.000 0.000 0.000 0.000 0.000 0.000 0.000 0.000 0.000 0.000 0.000 0.000 0.000 0.000 0.000 0.000 0.000 0.000 0.000 0.000 0.000 0.000 0.000 0.000 0.000 0.000 0.000 0.000 0.000 0.000 0.000 0.000 0.000 0.000 0.000 0.000 0.000 0.000 0.000 0.000 0.000 0.000 0.000 0.000 0.000 0.000 0.000 0.000 0.000 0.000 0.000 0.001 0.006 0.011 0.015 0.020 0.024 0.029 0.033 0.036 0.038 0.041 0.044 0.047 0.049 0.052 0.055 0.048 0.042 0.036 0.029 0.023 0.016 0.010 0.003 0.011 0.033 0.055 0.078 0.100 0.122 0.144 0.166 0.188 0.204 0.220 0.235 0.251 0.267 0.282 0.298 0.314 0.330 0.348 0.365 0.382 0.399 0.417 0.434 0.438 0.437 0.435 0.434 0.432 0.436 0.442 0.449 0.456 0.463 0.470 0.477 0.511 0.552 0.593 0.633 0.674 0.721 0.771 0.821 0.871 0.921 0.948 0.960 0.971 0.983 0.994 1.000 1.000 1.000 1.000 1.000 1.000 1.000 1.000 1.000 1.000 1.000 1.000 1.000 1.000 1.000 1.000 1.000 0.992 0.976 0.960 0.943 0.927 0.911 0.895 0.879 0.863 0.834 0.806 0.777 0.748 0.720 0.691 0.663 0.634 0.611 0.593 0.576 0.558 0.541 0.523 0.506 0.488 0.471 1.000 1.000 1.000 1.000 1.000 1.000 1.000 1.000 1.000 1.000 1.000 1.000 1.000 1.000 1.000 1.000 1.000 1.000 1.000 1.000 1.000 1.000 1.000 1.000 1.000 1.000 1.000 1.000 1.000 1.000 1.000 1.000 1.000 1.000 1.000 1.000 1.000 1.000 1.000 1.000 1.000 1.000 1.000 1.000 1.000 1.000 1.000 1.000 1.000 1.000 1.000 1.000 1.000 1.000 1.000 1.000 1.000 1.000 1.000 1.000 1.000 1.000 1.000 1.000 1.000 1.000 1.000 1.000 1.000 1.000 1.000 1.000 1.000 1.000 1.000 1.000 1.000 1.000 1.000 1.000 1.000 1.000 1.000 1.000 1.000"/></feComponentTransfer></filter><filter id="fB14" x="900" y="40" width="880" height="860" filterUnits="userSpaceOnUse" color-interpolation-filters="sRGB"><feGaussianBlur stdDeviation="14"/></filter><filter id="fB10" x="900" y="40" width="880" height="860" filterUnits="userSpaceOnUse" color-interpolation-filters="sRGB"><feGaussianBlur stdDeviation="11"/></filter><filter id="fB5" x="900" y="40" width="880" height="860" filterUnits="userSpaceOnUse" color-interpolation-filters="sRGB"><feGaussianBlur stdDeviation="6"/></filter><g id="imgR"><g filter="url(#fAWVc)"><g filter="url(#fB14)"><rect x="878.0" y="2.7" width="117.0" height="117.0" fill="rgb(134,134,134)"/><rect x="994.4" y="2.7" width="37.0" height="117.0" fill="rgb(134,134,134)"/><rect x="1030.8" y="2.7" width="37.0" height="117.0" fill="rgb(134,134,134)"/><rect x="1067.1" y="2.7" width="37.0" height="117.0" fill="rgb(129,129,129)"/><rect x="1103.5" y="2.7" width="37.0" height="117.0" fill="rgb(124,124,124)"/><rect x="1139.9" y="2.7" width="37.0" height="117.0" fill="rgb(119,119,119)"/><rect x="1176.2" y="2.7" width="37.0" height="117.0" fill="rgb(119,119,119)"/><rect x="1212.6" y="2.7" width="37.0" height="117.0" fill="rgb(85,85,85)"/><rect x="1249.0" y="2.7" width="37.0" height="117.0" fill="rgb(65,65,65)"/><rect x="1285.4" y="2.7" width="37.0" height="117.0" fill="rgb(68,68,68)"/><rect x="1321.8" y="2.7" width="37.0" height="117.0" fill="rgb(82,82,82)"/><rect x="1358.1" y="2.7" width="37.0" height="117.0" fill="rgb(102,102,102)"/><rect x="1394.5" y="2.7" width="37.0" height="117.0" fill="rgb(110,110,110)"/><rect x="1430.9" y="2.7" width="37.0" height="117.0" fill="rgb(110,110,110)"/><rect x="1467.2" y="2.7" width="37.0" height="117.0" fill="rgb(102,102,102)"/><rect x="1503.6" y="2.7" width="37.0" height="117.0" fill="rgb(116,116,116)"/><rect x="1540.0" y="2.7" width="37.0" height="117.0" fill="rgb(105,105,105)"/><rect x="1576.4" y="2.7" width="37.0" height="117.0" fill="rgb(94,94,94)"/><rect x="1612.8" y="2.7" width="37.0" height="117.0" fill="rgb(88,88,88)"/><rect x="1649.1" y="2.7" width="37.0" height="117.0" fill="rgb(112,112,112)"/><rect x="1685.5" y="2.7" width="117.0" height="117.0" fill="rgb(112,112,112)"/><rect x="878.0" y="119.1" width="117.0" height="37.0" fill="rgb(134,134,134)"/><rect x="994.4" y="119.1" width="37.0" height="37.0" fill="rgb(134,134,134)"/><rect x="1030.8" y="119.1" width="37.0" height="37.0" fill="rgb(134,134,134)"/><rect x="1067.1" y="119.1" width="37.0" height="37.0" fill="rgb(126,126,126)"/><rect x="1103.5" y="119.1" width="37.0" height="37.0" fill="rgb(122,122,122)"/><rect x="1139.9" y="119.1" width="37.0" height="37.0" fill="rgb(116,116,116)"/><rect x="1176.2" y="119.1" width="37.0" height="37.0" fill="rgb(102,102,102)"/><rect x="1212.6" y="119.1" width="37.0" height="37.0" fill="rgb(60,60,60)"/><rect x="1249.0" y="119.1" width="37.0" height="37.0" fill="rgb(65,65,65)"/><rect x="1285.4" y="119.1" width="37.0" height="37.0" fill="rgb(85,85,85)"/><rect x="1321.8" y="119.1" width="37.0" height="37.0" fill="rgb(105,105,105)"/><rect x="1358.1" y="119.1" width="37.0" height="37.0" fill="rgb(119,119,119)"/><rect x="1394.5" y="119.1" width="37.0" height="37.0" fill="rgb(119,119,119)"/><rect x="1430.9" y="119.1" width="37.0" height="37.0" fill="rgb(110,110,110)"/><rect x="1467.2" y="119.1" width="37.0" height="37.0" fill="rgb(128,128,128)"/><rect x="1503.6" y="119.1" width="37.0" height="37.0" fill="rgb(129,129,129)"/><rect x="1540.0" y="119.1" width="37.0" height="37.0" fill="rgb(124,124,124)"/><rect x="1576.4" y="119.1" width="37.0" height="37.0" fill="rgb(119,119,119)"/><rect x="1612.8" y="119.1" width="37.0" height="37.0" fill="rgb(109,109,109)"/><rect x="1649.1" y="119.1" width="37.0" height="37.0" fill="rgb(114,114,114)"/><rect x="1685.5" y="119.1" width="117.0" height="37.0" fill="rgb(114,114,114)"/><rect x="878.0" y="155.4" width="117.0" height="37.0" fill="rgb(119,119,119)"/><rect x="994.4" y="155.4" width="37.0" height="37.0" fill="rgb(126,126,126)"/><rect x="1030.8" y="155.4" width="37.0" height="37.0" fill="rgb(126,126,126)"/><rect x="1067.1" y="155.4" width="37.0" height="37.0" fill="rgb(121,121,121)"/><rect x="1103.5" y="155.4" width="37.0" height="37.0" fill="rgb(116,116,116)"/><rect x="1139.9" y="155.4" width="37.0" height="37.0" fill="rgb(109,109,109)"/><rect x="1176.2" y="155.4" width="37.0" height="37.0" fill="rgb(76,76,76)"/><rect x="1212.6" y="155.4" width="37.0" height="37.0" fill="rgb(65,65,65)"/><rect x="1249.0" y="155.4" width="37.0" height="37.0" fill="rgb(82,82,82)"/><rect x="1285.4" y="155.4" width="37.0" height="37.0" fill="rgb(109,109,109)"/><rect x="1321.8" y="155.4" width="37.0" height="37.0" fill="rgb(122,122,122)"/><rect x="1358.1" y="155.4" width="37.0" height="37.0" fill="rgb(129,129,129)"/><rect x="1394.5" y="155.4" width="37.0" height="37.0" fill="rgb(133,133,133)"/><rect x="1430.9" y="155.4" width="37.0" height="37.0" fill="rgb(126,126,126)"/><rect x="1467.2" y="155.4" width="37.0" height="37.0" fill="rgb(116,116,116)"/><rect x="1503.6" y="155.4" width="37.0" height="37.0" fill="rgb(119,119,119)"/><rect x="1540.0" y="155.4" width="37.0" height="37.0" fill="rgb(94,94,94)"/><rect x="1576.4" y="155.4" width="37.0" height="37.0" fill="rgb(114,114,114)"/><rect x="1612.8" y="155.4" width="37.0" height="37.0" fill="rgb(119,119,119)"/><rect x="1649.1" y="155.4" width="37.0" height="37.0" fill="rgb(114,114,114)"/><rect x="1685.5" y="155.4" width="117.0" height="37.0" fill="rgb(114,114,114)"/><rect x="878.0" y="191.8" width="117.0" height="37.0" fill="rgb(122,122,122)"/><rect x="994.4" y="191.8" width="37.0" height="37.0" fill="rgb(124,124,124)"/><rect x="1030.8" y="191.8" width="37.0" height="37.0" fill="rgb(124,124,124)"/><rect x="1067.1" y="191.8" width="37.0" height="37.0" fill="rgb(122,122,122)"/><rect x="1103.5" y="191.8" width="37.0" height="37.0" fill="rgb(105,105,105)"/><rect x="1139.9" y="191.8" width="37.0" height="37.0" fill="rgb(105,105,105)"/><rect x="1176.2" y="191.8" width="37.0" height="37.0" fill="rgb(63,63,63)"/><rect x="1212.6" y="191.8" width="37.0" height="37.0" fill="rgb(85,85,85)"/><rect x="1249.0" y="191.8" width="37.0" height="37.0" fill="rgb(116,116,116)"/><rect x="1285.4" y="191.8" width="37.0" height="37.0" fill="rgb(121,121,121)"/><rect x="1321.8" y="191.8" width="37.0" height="37.0" fill="rgb(124,124,124)"/><rect x="1358.1" y="191.8" width="37.0" height="37.0" fill="rgb(124,124,124)"/><rect x="1394.5" y="191.8" width="37.0" height="37.0" fill="rgb(121,121,121)"/><rect x="1430.9" y="191.8" width="37.0" height="37.0" fill="rgb(102,102,102)"/><rect x="1467.2" y="191.8" width="37.0" height="37.0" fill="rgb(88,88,88)"/><rect x="1503.6" y="191.8" width="37.0" height="37.0" fill="rgb(85,85,85)"/><rect x="1540.0" y="191.8" width="37.0" height="37.0" fill="rgb(105,105,105)"/><rect x="1576.4" y="191.8" width="37.0" height="37.0" fill="rgb(112,112,112)"/><rect x="1612.8" y="191.8" width="37.0" height="37.0" fill="rgb(112,112,112)"/><rect x="1649.1" y="191.8" width="37.0" height="37.0" fill="rgb(112,112,112)"/><rect x="1685.5" y="191.8" width="117.0" height="37.0" fill="rgb(112,112,112)"/><rect x="878.0" y="228.2" width="117.0" height="37.0" fill="rgb(124,124,124)"/><rect x="994.4" y="228.2" width="37.0" height="37.0" fill="rgb(124,124,124)"/><rect x="1030.8" y="228.2" width="37.0" height="37.0" fill="rgb(119,119,119)"/><rect x="1067.1" y="228.2" width="37.0" height="37.0" fill="rgb(114,114,114)"/><rect x="1103.5" y="228.2" width="37.0" height="37.0" fill="rgb(85,85,85)"/><rect x="1139.9" y="228.2" width="37.0" height="37.0" fill="rgb(68,68,68)"/><rect x="1176.2" y="228.2" width="37.0" height="37.0" fill="rgb(68,68,68)"/><rect x="1212.6" y="228.2" width="37.0" height="37.0" fill="rgb(99,99,99)"/><rect x="1249.0" y="228.2" width="37.0" height="37.0" fill="rgb(114,114,114)"/><rect x="1285.4" y="228.2" width="37.0" height="37.0" fill="rgb(121,121,121)"/><rect x="1321.8" y="228.2" width="37.0" height="37.0" fill="rgb(119,119,119)"/><rect x="1358.1" y="228.2" width="37.0" height="37.0" fill="rgb(105,105,105)"/><rect x="1394.5" y="228.2" width="37.0" height="37.0" fill="rgb(85,85,85)"/><rect x="1430.9" y="228.2" width="37.0" height="37.0" fill="rgb(73,73,73)"/><rect x="1467.2" y="228.2" width="37.0" height="37.0" fill="rgb(76,76,76)"/><rect x="1503.6" y="228.2" width="37.0" height="37.0" fill="rgb(85,85,85)"/><rect x="1540.0" y="228.2" width="37.0" height="37.0" fill="rgb(92,92,92)"/><rect x="1576.4" y="228.2" width="37.0" height="37.0" fill="rgb(97,97,97)"/><rect x="1612.8" y="228.2" width="37.0" height="37.0" fill="rgb(99,99,99)"/><rect x="1649.1" y="228.2" width="37.0" height="37.0" fill="rgb(92,92,92)"/><rect x="1685.5" y="228.2" width="117.0" height="37.0" fill="rgb(95,95,95)"/><rect x="878.0" y="264.6" width="117.0" height="37.0" fill="rgb(126,126,126)"/><rect x="994.4" y="264.6" width="37.0" height="37.0" fill="rgb(119,119,119)"/><rect x="1030.8" y="264.6" width="37.0" height="37.0" fill="rgb(112,112,112)"/><rect x="1067.1" y="264.6" width="37.0" height="37.0" fill="rgb(102,102,102)"/><rect x="1103.5" y="264.6" width="37.0" height="37.0" fill="rgb(76,76,76)"/><rect x="1139.9" y="264.6" width="37.0" height="37.0" fill="rgb(65,65,65)"/><rect x="1176.2" y="264.6" width="37.0" height="37.0" fill="rgb(85,85,85)"/><rect x="1212.6" y="264.6" width="37.0" height="37.0" fill="rgb(107,107,107)"/><rect x="1249.0" y="264.6" width="37.0" height="37.0" fill="rgb(114,114,114)"/><rect x="1285.4" y="264.6" width="37.0" height="37.0" fill="rgb(114,114,114)"/><rect x="1321.8" y="264.6" width="37.0" height="37.0" fill="rgb(105,105,105)"/><rect x="1358.1" y="264.6" width="37.0" height="37.0" fill="rgb(82,82,82)"/><rect x="1394.5" y="264.6" width="37.0" height="37.0" fill="rgb(71,71,71)"/><rect x="1430.9" y="264.6" width="37.0" height="37.0" fill="rgb(65,65,65)"/><rect x="1467.2" y="264.6" width="37.0" height="37.0" fill="rgb(63,63,63)"/><rect x="1503.6" y="264.6" width="37.0" height="37.0" fill="rgb(68,68,68)"/><rect x="1540.0" y="264.6" width="37.0" height="37.0" fill="rgb(68,68,68)"/><rect x="1576.4" y="264.6" width="37.0" height="37.0" fill="rgb(76,76,76)"/><rect x="1612.8" y="264.6" width="37.0" height="37.0" fill="rgb(88,88,88)"/><rect x="1649.1" y="264.6" width="37.0" height="37.0" fill="rgb(80,80,80)"/><rect x="1685.5" y="264.6" width="117.0" height="37.0" fill="rgb(82,82,82)"/><rect x="878.0" y="300.9" width="117.0" height="37.0" fill="rgb(122,122,122)"/><rect x="994.4" y="300.9" width="37.0" height="37.0" fill="rgb(105,105,105)"/><rect x="1030.8" y="300.9" width="37.0" height="37.0" fill="rgb(112,112,112)"/><rect x="1067.1" y="300.9" width="37.0" height="37.0" fill="rgb(99,99,99)"/><rect x="1103.5" y="300.9" width="37.0" height="37.0" fill="rgb(71,71,71)"/><rect x="1139.9" y="300.9" width="37.0" height="37.0" fill="rgb(58,58,58)"/><rect x="1176.2" y="300.9" width="37.0" height="37.0" fill="rgb(99,99,99)"/><rect x="1212.6" y="300.9" width="37.0" height="37.0" fill="rgb(102,102,102)"/><rect x="1249.0" y="300.9" width="37.0" height="37.0" fill="rgb(102,102,102)"/><rect x="1285.4" y="300.9" width="37.0" height="37.0" fill="rgb(90,90,90)"/><rect x="1321.8" y="300.9" width="37.0" height="37.0" fill="rgb(75,75,75)"/><rect x="1358.1" y="300.9" width="37.0" height="37.0" fill="rgb(65,65,65)"/><rect x="1394.5" y="300.9" width="37.0" height="37.0" fill="rgb(71,71,71)"/><rect x="1430.9" y="300.9" width="37.0" height="37.0" fill="rgb(71,71,71)"/><rect x="1467.2" y="300.9" width="37.0" height="37.0" fill="rgb(68,68,68)"/><rect x="1503.6" y="300.9" width="37.0" height="37.0" fill="rgb(63,63,63)"/><rect x="1540.0" y="300.9" width="37.0" height="37.0" fill="rgb(68,68,68)"/><rect x="1576.4" y="300.9" width="37.0" height="37.0" fill="rgb(63,63,63)"/><rect x="1612.8" y="300.9" width="37.0" height="37.0" fill="rgb(71,71,71)"/><rect x="1649.1" y="300.9" width="37.0" height="37.0" fill="rgb(75,75,75)"/><rect x="1685.5" y="300.9" width="117.0" height="37.0" fill="rgb(76,76,76)"/><rect x="878.0" y="337.3" width="117.0" height="37.0" fill="rgb(116,116,116)"/><rect x="994.4" y="337.3" width="37.0" height="37.0" fill="rgb(105,105,105)"/><rect x="1030.8" y="337.3" width="37.0" height="37.0" fill="rgb(99,99,99)"/><rect x="1067.1" y="337.3" width="37.0" height="37.0" fill="rgb(102,102,102)"/><rect x="1103.5" y="337.3" width="37.0" height="37.0" fill="rgb(76,76,76)"/><rect x="1139.9" y="337.3" width="37.0" height="37.0" fill="rgb(76,76,76)"/><rect x="1176.2" y="337.3" width="37.0" height="37.0" fill="rgb(105,105,105)"/><rect x="1212.6" y="337.3" width="37.0" height="37.0" fill="rgb(102,102,102)"/><rect x="1249.0" y="337.3" width="37.0" height="37.0" fill="rgb(85,85,85)"/><rect x="1285.4" y="337.3" width="37.0" height="37.0" fill="rgb(73,73,73)"/><rect x="1321.8" y="337.3" width="37.0" height="37.0" fill="rgb(65,65,65)"/><rect x="1358.1" y="337.3" width="37.0" height="37.0" fill="rgb(60,60,60)"/><rect x="1394.5" y="337.3" width="37.0" height="37.0" fill="rgb(68,68,68)"/><rect x="1430.9" y="337.3" width="37.0" height="37.0" fill="rgb(71,71,71)"/><rect x="1467.2" y="337.3" width="37.0" height="37.0" fill="rgb(73,73,73)"/><rect x="1503.6" y="337.3" width="37.0" height="37.0" fill="rgb(65,65,65)"/><rect x="1540.0" y="337.3" width="37.0" height="37.0" fill="rgb(68,68,68)"/><rect x="1576.4" y="337.3" width="37.0" height="37.0" fill="rgb(73,73,73)"/><rect x="1612.8" y="337.3" width="37.0" height="37.0" fill="rgb(65,65,65)"/><rect x="1649.1" y="337.3" width="37.0" height="37.0" fill="rgb(71,71,71)"/><rect x="1685.5" y="337.3" width="117.0" height="37.0" fill="rgb(71,71,71)"/><rect x="878.0" y="373.7" width="117.0" height="37.0" fill="rgb(122,122,122)"/><rect x="994.4" y="373.7" width="37.0" height="37.0" fill="rgb(119,119,119)"/><rect x="1030.8" y="373.7" width="37.0" height="37.0" fill="rgb(109,109,109)"/><rect x="1067.1" y="373.7" width="37.0" height="37.0" fill="rgb(109,109,109)"/><rect x="1103.5" y="373.7" width="37.0" height="37.0" fill="rgb(71,71,71)"/><rect x="1139.9" y="373.7" width="37.0" height="37.0" fill="rgb(88,88,88)"/><rect x="1176.2" y="373.7" width="37.0" height="37.0" fill="rgb(112,112,112)"/><rect x="1212.6" y="373.7" width="37.0" height="37.0" fill="rgb(95,95,95)"/><rect x="1249.0" y="373.7" width="37.0" height="37.0" fill="rgb(71,71,71)"/><rect x="1285.4" y="373.7" width="37.0" height="37.0" fill="rgb(48,48,48)"/><rect x="1321.8" y="373.7" width="37.0" height="37.0" fill="rgb(42,42,42)"/><rect x="1358.1" y="373.7" width="37.0" height="37.0" fill="rgb(48,48,48)"/><rect x="1394.5" y="373.7" width="37.0" height="37.0" fill="rgb(54,54,54)"/><rect x="1430.9" y="373.7" width="37.0" height="37.0" fill="rgb(60,60,60)"/><rect x="1467.2" y="373.7" width="37.0" height="37.0" fill="rgb(68,68,68)"/><rect x="1503.6" y="373.7" width="37.0" height="37.0" fill="rgb(99,99,99)"/><rect x="1540.0" y="373.7" width="37.0" height="37.0" fill="rgb(65,65,65)"/><rect x="1576.4" y="373.7" width="37.0" height="37.0" fill="rgb(65,65,65)"/><rect x="1612.8" y="373.7" width="37.0" height="37.0" fill="rgb(54,54,54)"/><rect x="1649.1" y="373.7" width="37.0" height="37.0" fill="rgb(48,48,48)"/><rect x="1685.5" y="373.7" width="117.0" height="37.0" fill="rgb(51,51,51)"/><rect x="878.0" y="410.1" width="117.0" height="37.0" fill="rgb(119,119,119)"/><rect x="994.4" y="410.1" width="37.0" height="37.0" fill="rgb(126,126,126)"/><rect x="1030.8" y="410.1" width="37.0" height="37.0" fill="rgb(129,129,129)"/><rect x="1067.1" y="410.1" width="37.0" height="37.0" fill="rgb(119,119,119)"/><rect x="1103.5" y="410.1" width="37.0" height="37.0" fill="rgb(76,76,76)"/><rect x="1139.9" y="410.1" width="37.0" height="37.0" fill="rgb(88,88,88)"/><rect x="1176.2" y="410.1" width="37.0" height="37.0" fill="rgb(122,122,122)"/><rect x="1212.6" y="410.1" width="37.0" height="37.0" fill="rgb(90,90,90)"/><rect x="1249.0" y="410.1" width="37.0" height="37.0" fill="rgb(65,65,65)"/><rect x="1285.4" y="410.1" width="37.0" height="37.0" fill="rgb(34,34,34)"/><rect x="1321.8" y="410.1" width="37.0" height="37.0" fill="rgb(34,34,34)"/><rect x="1358.1" y="410.1" width="37.0" height="37.0" fill="rgb(34,34,34)"/><rect x="1394.5" y="410.1" width="37.0" height="37.0" fill="rgb(37,37,37)"/><rect x="1430.9" y="410.1" width="37.0" height="37.0" fill="rgb(51,51,51)"/><rect x="1467.2" y="410.1" width="37.0" height="37.0" fill="rgb(63,63,63)"/><rect x="1503.6" y="410.1" width="37.0" height="37.0" fill="rgb(82,82,82)"/><rect x="1540.0" y="410.1" width="37.0" height="37.0" fill="rgb(94,94,94)"/><rect x="1576.4" y="410.1" width="37.0" height="37.0" fill="rgb(75,75,75)"/><rect x="1612.8" y="410.1" width="37.0" height="37.0" fill="rgb(82,82,82)"/><rect x="1649.1" y="410.1" width="37.0" height="37.0" fill="rgb(37,37,37)"/><rect x="1685.5" y="410.1" width="117.0" height="37.0" fill="rgb(34,34,34)"/><rect x="878.0" y="446.4" width="117.0" height="37.0" fill="rgb(122,122,122)"/><rect x="994.4" y="446.4" width="37.0" height="37.0" fill="rgb(117,117,117)"/><rect x="1030.8" y="446.4" width="37.0" height="37.0" fill="rgb(126,126,126)"/><rect x="1067.1" y="446.4" width="37.0" height="37.0" fill="rgb(105,105,105)"/><rect x="1103.5" y="446.4" width="37.0" height="37.0" fill="rgb(65,65,65)"/><rect x="1139.9" y="446.4" width="37.0" height="37.0" fill="rgb(94,94,94)"/><rect x="1176.2" y="446.4" width="37.0" height="37.0" fill="rgb(124,124,124)"/><rect x="1212.6" y="446.4" width="37.0" height="37.0" fill="rgb(90,90,90)"/><rect x="1249.0" y="446.4" width="37.0" height="37.0" fill="rgb(58,58,58)"/><rect x="1285.4" y="446.4" width="37.0" height="37.0" fill="rgb(34,34,34)"/><rect x="1321.8" y="446.4" width="37.0" height="37.0" fill="rgb(42,42,42)"/><rect x="1358.1" y="446.4" width="37.0" height="37.0" fill="rgb(34,34,34)"/><rect x="1394.5" y="446.4" width="37.0" height="37.0" fill="rgb(34,34,34)"/><rect x="1430.9" y="446.4" width="37.0" height="37.0" fill="rgb(34,34,34)"/><rect x="1467.2" y="446.4" width="37.0" height="37.0" fill="rgb(58,58,58)"/><rect x="1503.6" y="446.4" width="37.0" height="37.0" fill="rgb(75,75,75)"/><rect x="1540.0" y="446.4" width="37.0" height="37.0" fill="rgb(94,94,94)"/><rect x="1576.4" y="446.4" width="37.0" height="37.0" fill="rgb(51,51,51)"/><rect x="1612.8" y="446.4" width="37.0" height="37.0" fill="rgb(48,48,48)"/><rect x="1649.1" y="446.4" width="37.0" height="37.0" fill="rgb(34,34,34)"/><rect x="1685.5" y="446.4" width="117.0" height="37.0" fill="rgb(34,34,34)"/><rect x="878.0" y="482.8" width="117.0" height="37.0" fill="rgb(119,119,119)"/><rect x="994.4" y="482.8" width="37.0" height="37.0" fill="rgb(109,109,109)"/><rect x="1030.8" y="482.8" width="37.0" height="37.0" fill="rgb(114,114,114)"/><rect x="1067.1" y="482.8" width="37.0" height="37.0" fill="rgb(112,112,112)"/><rect x="1103.5" y="482.8" width="37.0" height="37.0" fill="rgb(88,88,88)"/><rect x="1139.9" y="482.8" width="37.0" height="37.0" fill="rgb(71,71,71)"/><rect x="1176.2" y="482.8" width="37.0" height="37.0" fill="rgb(122,122,122)"/><rect x="1212.6" y="482.8" width="37.0" height="37.0" fill="rgb(94,94,94)"/><rect x="1249.0" y="482.8" width="37.0" height="37.0" fill="rgb(65,65,65)"/><rect x="1285.4" y="482.8" width="37.0" height="37.0" fill="rgb(34,34,34)"/><rect x="1321.8" y="482.8" width="37.0" height="37.0" fill="rgb(34,34,34)"/><rect x="1358.1" y="482.8" width="37.0" height="37.0" fill="rgb(34,34,34)"/><rect x="1394.5" y="482.8" width="37.0" height="37.0" fill="rgb(34,34,34)"/><rect x="1430.9" y="482.8" width="37.0" height="37.0" fill="rgb(48,48,48)"/><rect x="1467.2" y="482.8" width="37.0" height="37.0" fill="rgb(60,60,60)"/><rect x="1503.6" y="482.8" width="37.0" height="37.0" fill="rgb(71,71,71)"/><rect x="1540.0" y="482.8" width="37.0" height="37.0" fill="rgb(58,58,58)"/><rect x="1576.4" y="482.8" width="37.0" height="37.0" fill="rgb(58,58,58)"/><rect x="1612.8" y="482.8" width="37.0" height="37.0" fill="rgb(37,37,37)"/><rect x="1649.1" y="482.8" width="37.0" height="37.0" fill="rgb(34,34,34)"/><rect x="1685.5" y="482.8" width="117.0" height="37.0" fill="rgb(34,34,34)"/><rect x="878.0" y="519.2" width="117.0" height="37.0" fill="rgb(119,119,119)"/><rect x="994.4" y="519.2" width="37.0" height="37.0" fill="rgb(107,107,107)"/><rect x="1030.8" y="519.2" width="37.0" height="37.0" fill="rgb(114,114,114)"/><rect x="1067.1" y="519.2" width="37.0" height="37.0" fill="rgb(119,119,119)"/><rect x="1103.5" y="519.2" width="37.0" height="37.0" fill="rgb(95,95,95)"/><rect x="1139.9" y="519.2" width="37.0" height="37.0" fill="rgb(85,85,85)"/><rect x="1176.2" y="519.2" width="37.0" height="37.0" fill="rgb(105,105,105)"/><rect x="1212.6" y="519.2" width="37.0" height="37.0" fill="rgb(94,94,94)"/><rect x="1249.0" y="519.2" width="37.0" height="37.0" fill="rgb(75,75,75)"/><rect x="1285.4" y="519.2" width="37.0" height="37.0" fill="rgb(58,58,58)"/><rect x="1321.8" y="519.2" width="37.0" height="37.0" fill="rgb(42,42,42)"/><rect x="1358.1" y="519.2" width="37.0" height="37.0" fill="rgb(37,37,37)"/><rect x="1394.5" y="519.2" width="37.0" height="37.0" fill="rgb(48,48,48)"/><rect x="1430.9" y="519.2" width="37.0" height="37.0" fill="rgb(54,54,54)"/><rect x="1467.2" y="519.2" width="37.0" height="37.0" fill="rgb(82,82,82)"/><rect x="1503.6" y="519.2" width="37.0" height="37.0" fill="rgb(94,94,94)"/><rect x="1540.0" y="519.2" width="37.0" height="37.0" fill="rgb(61,61,61)"/><rect x="1576.4" y="519.2" width="37.0" height="37.0" fill="rgb(65,65,65)"/><rect x="1612.8" y="519.2" width="37.0" height="37.0" fill="rgb(41,41,41)"/><rect x="1649.1" y="519.2" width="37.0" height="37.0" fill="rgb(34,34,34)"/><rect x="1685.5" y="519.2" width="117.0" height="37.0" fill="rgb(34,34,34)"/><rect x="878.0" y="555.6" width="117.0" height="37.0" fill="rgb(119,119,119)"/><rect x="994.4" y="555.6" width="37.0" height="37.0" fill="rgb(109,109,109)"/><rect x="1030.8" y="555.6" width="37.0" height="37.0" fill="rgb(112,112,112)"/><rect x="1067.1" y="555.6" width="37.0" height="37.0" fill="rgb(105,105,105)"/><rect x="1103.5" y="555.6" width="37.0" height="37.0" fill="rgb(88,88,88)"/><rect x="1139.9" y="555.6" width="37.0" height="37.0" fill="rgb(88,88,88)"/><rect x="1176.2" y="555.6" width="37.0" height="37.0" fill="rgb(102,102,102)"/><rect x="1212.6" y="555.6" width="37.0" height="37.0" fill="rgb(97,97,97)"/><rect x="1249.0" y="555.6" width="37.0" height="37.0" fill="rgb(85,85,85)"/><rect x="1285.4" y="555.6" width="37.0" height="37.0" fill="rgb(73,73,73)"/><rect x="1321.8" y="555.6" width="37.0" height="37.0" fill="rgb(71,71,71)"/><rect x="1358.1" y="555.6" width="37.0" height="37.0" fill="rgb(68,68,68)"/><rect x="1394.5" y="555.6" width="37.0" height="37.0" fill="rgb(76,76,76)"/><rect x="1430.9" y="555.6" width="37.0" height="37.0" fill="rgb(71,71,71)"/><rect x="1467.2" y="555.6" width="37.0" height="37.0" fill="rgb(68,68,68)"/><rect x="1503.6" y="555.6" width="37.0" height="37.0" fill="rgb(85,85,85)"/><rect x="1540.0" y="555.6" width="37.0" height="37.0" fill="rgb(71,71,71)"/><rect x="1576.4" y="555.6" width="37.0" height="37.0" fill="rgb(75,75,75)"/><rect x="1612.8" y="555.6" width="37.0" height="37.0" fill="rgb(60,60,60)"/><rect x="1649.1" y="555.6" width="37.0" height="37.0" fill="rgb(37,37,37)"/><rect x="1685.5" y="555.6" width="117.0" height="37.0" fill="rgb(34,34,34)"/><rect x="878.0" y="592.0" width="117.0" height="37.0" fill="rgb(110,110,110)"/><rect x="994.4" y="592.0" width="37.0" height="37.0" fill="rgb(107,107,107)"/><rect x="1030.8" y="592.0" width="37.0" height="37.0" fill="rgb(112,112,112)"/><rect x="1067.1" y="592.0" width="37.0" height="37.0" fill="rgb(94,94,94)"/><rect x="1103.5" y="592.0" width="37.0" height="37.0" fill="rgb(71,71,71)"/><rect x="1139.9" y="592.0" width="37.0" height="37.0" fill="rgb(85,85,85)"/><rect x="1176.2" y="592.0" width="37.0" height="37.0" fill="rgb(82,82,82)"/><rect x="1212.6" y="592.0" width="37.0" height="37.0" fill="rgb(85,85,85)"/><rect x="1249.0" y="592.0" width="37.0" height="37.0" fill="rgb(76,76,76)"/><rect x="1285.4" y="592.0" width="37.0" height="37.0" fill="rgb(71,71,71)"/><rect x="1321.8" y="592.0" width="37.0" height="37.0" fill="rgb(76,76,76)"/><rect x="1358.1" y="592.0" width="37.0" height="37.0" fill="rgb(94,94,94)"/><rect x="1394.5" y="592.0" width="37.0" height="37.0" fill="rgb(82,82,82)"/><rect x="1430.9" y="592.0" width="37.0" height="37.0" fill="rgb(76,76,76)"/><rect x="1467.2" y="592.0" width="37.0" height="37.0" fill="rgb(42,42,42)"/><rect x="1503.6" y="592.0" width="37.0" height="37.0" fill="rgb(60,60,60)"/><rect x="1540.0" y="592.0" width="37.0" height="37.0" fill="rgb(85,85,85)"/><rect x="1576.4" y="592.0" width="37.0" height="37.0" fill="rgb(71,71,71)"/><rect x="1612.8" y="592.0" width="37.0" height="37.0" fill="rgb(54,54,54)"/><rect x="1649.1" y="592.0" width="37.0" height="37.0" fill="rgb(37,37,37)"/><rect x="1685.5" y="592.0" width="117.0" height="37.0" fill="rgb(34,34,34)"/><rect x="878.0" y="628.3" width="117.0" height="37.0" fill="rgb(116,116,116)"/><rect x="994.4" y="628.3" width="37.0" height="37.0" fill="rgb(114,114,114)"/><rect x="1030.8" y="628.3" width="37.0" height="37.0" fill="rgb(119,119,119)"/><rect x="1067.1" y="628.3" width="37.0" height="37.0" fill="rgb(114,114,114)"/><rect x="1103.5" y="628.3" width="37.0" height="37.0" fill="rgb(105,105,105)"/><rect x="1139.9" y="628.3" width="37.0" height="37.0" fill="rgb(76,76,76)"/><rect x="1176.2" y="628.3" width="37.0" height="37.0" fill="rgb(68,68,68)"/><rect x="1212.6" y="628.3" width="37.0" height="37.0" fill="rgb(85,85,85)"/><rect x="1249.0" y="628.3" width="37.0" height="37.0" fill="rgb(92,92,92)"/><rect x="1285.4" y="628.3" width="37.0" height="37.0" fill="rgb(99,99,99)"/><rect x="1321.8" y="628.3" width="37.0" height="37.0" fill="rgb(105,105,105)"/><rect x="1358.1" y="628.3" width="37.0" height="37.0" fill="rgb(95,95,95)"/><rect x="1394.5" y="628.3" width="37.0" height="37.0" fill="rgb(76,76,76)"/><rect x="1430.9" y="628.3" width="37.0" height="37.0" fill="rgb(68,68,68)"/><rect x="1467.2" y="628.3" width="37.0" height="37.0" fill="rgb(82,82,82)"/><rect x="1503.6" y="628.3" width="37.0" height="37.0" fill="rgb(88,88,88)"/><rect x="1540.0" y="628.3" width="37.0" height="37.0" fill="rgb(85,85,85)"/><rect x="1576.4" y="628.3" width="37.0" height="37.0" fill="rgb(68,68,68)"/><rect x="1612.8" y="628.3" width="37.0" height="37.0" fill="rgb(68,68,68)"/><rect x="1649.1" y="628.3" width="37.0" height="37.0" fill="rgb(41,41,41)"/><rect x="1685.5" y="628.3" width="117.0" height="37.0" fill="rgb(34,34,34)"/><rect x="878.0" y="664.7" width="117.0" height="37.0" fill="rgb(122,122,122)"/><rect x="994.4" y="664.7" width="37.0" height="37.0" fill="rgb(124,124,124)"/><rect x="1030.8" y="664.7" width="37.0" height="37.0" fill="rgb(124,124,124)"/><rect x="1067.1" y="664.7" width="37.0" height="37.0" fill="rgb(119,119,119)"/><rect x="1103.5" y="664.7" width="37.0" height="37.0" fill="rgb(114,114,114)"/><rect x="1139.9" y="664.7" width="37.0" height="37.0" fill="rgb(105,105,105)"/><rect x="1176.2" y="664.7" width="37.0" height="37.0" fill="rgb(105,105,105)"/><rect x="1212.6" y="664.7" width="37.0" height="37.0" fill="rgb(102,102,102)"/><rect x="1249.0" y="664.7" width="37.0" height="37.0" fill="rgb(105,105,105)"/><rect x="1285.4" y="664.7" width="37.0" height="37.0" fill="rgb(105,105,105)"/><rect x="1321.8" y="664.7" width="37.0" height="37.0" fill="rgb(95,95,95)"/><rect x="1358.1" y="664.7" width="37.0" height="37.0" fill="rgb(94,94,94)"/><rect x="1394.5" y="664.7" width="37.0" height="37.0" fill="rgb(85,85,85)"/><rect x="1430.9" y="664.7" width="37.0" height="37.0" fill="rgb(75,75,75)"/><rect x="1467.2" y="664.7" width="37.0" height="37.0" fill="rgb(102,102,102)"/><rect x="1503.6" y="664.7" width="37.0" height="37.0" fill="rgb(95,95,95)"/><rect x="1540.0" y="664.7" width="37.0" height="37.0" fill="rgb(68,68,68)"/><rect x="1576.4" y="664.7" width="37.0" height="37.0" fill="rgb(58,58,58)"/><rect x="1612.8" y="664.7" width="37.0" height="37.0" fill="rgb(88,88,88)"/><rect x="1649.1" y="664.7" width="37.0" height="37.0" fill="rgb(58,58,58)"/><rect x="1685.5" y="664.7" width="117.0" height="37.0" fill="rgb(41,41,41)"/><rect x="878.0" y="701.1" width="117.0" height="37.0" fill="rgb(122,122,122)"/><rect x="994.4" y="701.1" width="37.0" height="37.0" fill="rgb(121,121,121)"/><rect x="1030.8" y="701.1" width="37.0" height="37.0" fill="rgb(121,121,121)"/><rect x="1067.1" y="701.1" width="37.0" height="37.0" fill="rgb(116,116,116)"/><rect x="1103.5" y="701.1" width="37.0" height="37.0" fill="rgb(105,105,105)"/><rect x="1139.9" y="701.1" width="37.0" height="37.0" fill="rgb(94,94,94)"/><rect x="1176.2" y="701.1" width="37.0" height="37.0" fill="rgb(102,102,102)"/><rect x="1212.6" y="701.1" width="37.0" height="37.0" fill="rgb(107,107,107)"/><rect x="1249.0" y="701.1" width="37.0" height="37.0" fill="rgb(112,112,112)"/><rect x="1285.4" y="701.1" width="37.0" height="37.0" fill="rgb(105,105,105)"/><rect x="1321.8" y="701.1" width="37.0" height="37.0" fill="rgb(109,109,109)"/><rect x="1358.1" y="701.1" width="37.0" height="37.0" fill="rgb(109,109,109)"/><rect x="1394.5" y="701.1" width="37.0" height="37.0" fill="rgb(109,109,109)"/><rect x="1430.9" y="701.1" width="37.0" height="37.0" fill="rgb(109,109,109)"/><rect x="1467.2" y="701.1" width="37.0" height="37.0" fill="rgb(109,109,109)"/><rect x="1503.6" y="701.1" width="37.0" height="37.0" fill="rgb(105,105,105)"/><rect x="1540.0" y="701.1" width="37.0" height="37.0" fill="rgb(85,85,85)"/><rect x="1576.4" y="701.1" width="37.0" height="37.0" fill="rgb(71,71,71)"/><rect x="1612.8" y="701.1" width="37.0" height="37.0" fill="rgb(94,94,94)"/><rect x="1649.1" y="701.1" width="37.0" height="37.0" fill="rgb(76,76,76)"/><rect x="1685.5" y="701.1" width="117.0" height="37.0" fill="rgb(51,51,51)"/><rect x="878.0" y="737.5" width="117.0" height="37.0" fill="rgb(119,119,119)"/><rect x="994.4" y="737.5" width="37.0" height="37.0" fill="rgb(114,114,114)"/><rect x="1030.8" y="737.5" width="37.0" height="37.0" fill="rgb(114,114,114)"/><rect x="1067.1" y="737.5" width="37.0" height="37.0" fill="rgb(112,112,112)"/><rect x="1103.5" y="737.5" width="37.0" height="37.0" fill="rgb(112,112,112)"/><rect x="1139.9" y="737.5" width="37.0" height="37.0" fill="rgb(102,102,102)"/><rect x="1176.2" y="737.5" width="37.0" height="37.0" fill="rgb(99,99,99)"/><rect x="1212.6" y="737.5" width="37.0" height="37.0" fill="rgb(112,112,112)"/><rect x="1249.0" y="737.5" width="37.0" height="37.0" fill="rgb(107,107,107)"/><rect x="1285.4" y="737.5" width="37.0" height="37.0" fill="rgb(99,99,99)"/><rect x="1321.8" y="737.5" width="37.0" height="37.0" fill="rgb(112,112,112)"/><rect x="1358.1" y="737.5" width="37.0" height="37.0" fill="rgb(112,112,112)"/><rect x="1394.5" y="737.5" width="37.0" height="37.0" fill="rgb(112,112,112)"/><rect x="1430.9" y="737.5" width="37.0" height="37.0" fill="rgb(109,109,109)"/><rect x="1467.2" y="737.5" width="37.0" height="37.0" fill="rgb(102,102,102)"/><rect x="1503.6" y="737.5" width="37.0" height="37.0" fill="rgb(65,65,65)"/><rect x="1540.0" y="737.5" width="37.0" height="37.0" fill="rgb(48,48,48)"/><rect x="1576.4" y="737.5" width="37.0" height="37.0" fill="rgb(54,54,54)"/><rect x="1612.8" y="737.5" width="37.0" height="37.0" fill="rgb(68,68,68)"/><rect x="1649.1" y="737.5" width="37.0" height="37.0" fill="rgb(85,85,85)"/><rect x="1685.5" y="737.5" width="117.0" height="37.0" fill="rgb(85,85,85)"/><rect x="878.0" y="773.8" width="117.0" height="37.0" fill="rgb(119,119,119)"/><rect x="994.4" y="773.8" width="37.0" height="37.0" fill="rgb(119,119,119)"/><rect x="1030.8" y="773.8" width="37.0" height="37.0" fill="rgb(116,116,116)"/><rect x="1067.1" y="773.8" width="37.0" height="37.0" fill="rgb(116,116,116)"/><rect x="1103.5" y="773.8" width="37.0" height="37.0" fill="rgb(114,114,114)"/><rect x="1139.9" y="773.8" width="37.0" height="37.0" fill="rgb(107,107,107)"/><rect x="1176.2" y="773.8" width="37.0" height="37.0" fill="rgb(95,95,95)"/><rect x="1212.6" y="773.8" width="37.0" height="37.0" fill="rgb(114,114,114)"/><rect x="1249.0" y="773.8" width="37.0" height="37.0" fill="rgb(117,117,117)"/><rect x="1285.4" y="773.8" width="37.0" height="37.0" fill="rgb(114,114,114)"/><rect x="1321.8" y="773.8" width="37.0" height="37.0" fill="rgb(112,112,112)"/><rect x="1358.1" y="773.8" width="37.0" height="37.0" fill="rgb(112,112,112)"/><rect x="1394.5" y="773.8" width="37.0" height="37.0" fill="rgb(112,112,112)"/><rect x="1430.9" y="773.8" width="37.0" height="37.0" fill="rgb(107,107,107)"/><rect x="1467.2" y="773.8" width="37.0" height="37.0" fill="rgb(88,88,88)"/><rect x="1503.6" y="773.8" width="37.0" height="37.0" fill="rgb(48,48,48)"/><rect x="1540.0" y="773.8" width="37.0" height="37.0" fill="rgb(42,42,42)"/><rect x="1576.4" y="773.8" width="37.0" height="37.0" fill="rgb(41,41,41)"/><rect x="1612.8" y="773.8" width="37.0" height="37.0" fill="rgb(51,51,51)"/><rect x="1649.1" y="773.8" width="37.0" height="37.0" fill="rgb(88,88,88)"/><rect x="1685.5" y="773.8" width="117.0" height="37.0" fill="rgb(110,110,110)"/><rect x="878.0" y="810.2" width="117.0" height="117.0" fill="rgb(119,119,119)"/><rect x="994.4" y="810.2" width="37.0" height="117.0" fill="rgb(119,119,119)"/><rect x="1030.8" y="810.2" width="37.0" height="117.0" fill="rgb(116,116,116)"/><rect x="1067.1" y="810.2" width="37.0" height="117.0" fill="rgb(116,116,116)"/><rect x="1103.5" y="810.2" width="37.0" height="117.0" fill="rgb(114,114,114)"/><rect x="1139.9" y="810.2" width="37.0" height="117.0" fill="rgb(107,107,107)"/><rect x="1176.2" y="810.2" width="37.0" height="117.0" fill="rgb(95,95,95)"/><rect x="1212.6" y="810.2" width="37.0" height="117.0" fill="rgb(114,114,114)"/><rect x="1249.0" y="810.2" width="37.0" height="117.0" fill="rgb(117,117,117)"/><rect x="1285.4" y="810.2" width="37.0" height="117.0" fill="rgb(114,114,114)"/><rect x="1321.8" y="810.2" width="37.0" height="117.0" fill="rgb(112,112,112)"/><rect x="1358.1" y="810.2" width="37.0" height="117.0" fill="rgb(112,112,112)"/><rect x="1394.5" y="810.2" width="37.0" height="117.0" fill="rgb(112,112,112)"/><rect x="1430.9" y="810.2" width="37.0" height="117.0" fill="rgb(107,107,107)"/><rect x="1467.2" y="810.2" width="37.0" height="117.0" fill="rgb(88,88,88)"/><rect x="1503.6" y="810.2" width="37.0" height="117.0" fill="rgb(48,48,48)"/><rect x="1540.0" y="810.2" width="37.0" height="117.0" fill="rgb(42,42,42)"/><rect x="1576.4" y="810.2" width="37.0" height="117.0" fill="rgb(41,41,41)"/><rect x="1612.8" y="810.2" width="37.0" height="117.0" fill="rgb(51,51,51)"/><rect x="1649.1" y="810.2" width="37.0" height="117.0" fill="rgb(88,88,88)"/><rect x="1685.5" y="810.2" width="117.0" height="117.0" fill="rgb(110,110,110)"/></g><g filter="url(#fB5)" fill="none" stroke-linecap="round" stroke-linejoin="round"><path d="M1300.0 90.0 C1289.3 100.5 1253.3 136.0 1236.0 153.0 C1218.7 170.0 1206.7 177.2 1196.0 192.0 C1185.3 206.8 1179.2 227.8 1172.0 242.0 C1164.8 256.2 1159.0 265.2 1153.0 277.0 C1147.0 288.8 1141.3 301.2 1136.0 313.0 C1130.7 324.8 1124.5 336.2 1121.0 348.0 C1117.5 359.8 1116.5 372.0 1115.0 384.0 C1113.5 396.0 1112.3 408.2 1112.0 420.0 C1111.7 431.8 1111.0 443.3 1113.0 455.0 C1115.0 466.7 1121.2 478.8 1124.0 490.0 C1126.8 501.2 1129.3 510.7 1130.0 522.0 C1130.7 533.3 1128.3 546.7 1128.0 558.0 C1127.7 569.3 1128.0 584.7 1128.0 590.0" stroke="rgb(95,95,95)" stroke-width="54"/><path d="M1128.0 558.0 C1128.0 563.3 1124.3 581.7 1128.0 590.0 C1131.7 598.3 1138.0 603.3 1150.0 608.0 C1162.0 612.7 1185.0 615.3 1200.0 618.0 C1215.0 620.7 1225.0 623.7 1240.0 624.0 C1255.0 624.3 1275.0 622.3 1290.0 620.0 C1305.0 617.7 1323.3 611.7 1330.0 610.0" stroke="rgb(92,92,92)" stroke-width="50"/><path d="M1320.0 80.0 C1314.2 85.0 1296.7 99.2 1285.0 110.0 C1273.3 120.8 1261.7 133.3 1250.0 145.0 C1238.3 156.7 1220.8 174.2 1215.0 180.0" stroke="rgb(94,94,94)" stroke-width="110"/><path d="M1300.0 90.0 C1289.3 100.5 1253.3 136.0 1236.0 153.0 C1218.7 170.0 1206.7 177.2 1196.0 192.0 C1185.3 206.8 1179.2 227.8 1172.0 242.0 C1164.8 256.2 1159.0 265.2 1153.0 277.0 C1147.0 288.8 1141.3 301.2 1136.0 313.0 C1130.7 324.8 1124.5 336.2 1121.0 348.0 C1117.5 359.8 1116.5 372.0 1115.0 384.0 C1113.5 396.0 1112.3 408.2 1112.0 420.0 C1111.7 431.8 1111.0 443.3 1113.0 455.0 C1115.0 466.7 1121.2 478.8 1124.0 490.0 C1126.8 501.2 1129.3 510.7 1130.0 522.0 C1130.7 533.3 1128.3 546.7 1128.0 558.0 C1127.7 569.3 1128.0 584.7 1128.0 590.0" stroke="rgb(78,78,78)" stroke-width="34"/><path d="M1128.0 558.0 C1128.0 563.3 1124.3 581.7 1128.0 590.0 C1131.7 598.3 1138.0 603.3 1150.0 608.0 C1162.0 612.7 1185.0 615.3 1200.0 618.0 C1215.0 620.7 1225.0 623.7 1240.0 624.0 C1255.0 624.3 1275.0 622.3 1290.0 620.0 C1305.0 617.7 1323.3 611.7 1330.0 610.0" stroke="rgb(78,78,78)" stroke-width="30"/><path d="M1320.0 80.0 C1314.2 85.0 1296.7 99.2 1285.0 110.0 C1273.3 120.8 1261.7 133.3 1250.0 145.0 C1238.3 156.7 1220.8 174.2 1215.0 180.0" stroke="rgb(71,71,71)" stroke-width="85"/><path d="M1300.0 90.0 C1289.3 100.5 1253.3 136.0 1236.0 153.0 C1218.7 170.0 1206.7 177.2 1196.0 192.0 C1185.3 206.8 1179.2 227.8 1172.0 242.0 C1164.8 256.2 1159.0 265.2 1153.0 277.0 C1147.0 288.8 1141.3 301.2 1136.0 313.0 C1130.7 324.8 1124.5 336.2 1121.0 348.0 C1117.5 359.8 1116.5 372.0 1115.0 384.0 C1113.5 396.0 1112.3 408.2 1112.0 420.0 C1111.7 431.8 1111.0 443.3 1113.0 455.0 C1115.0 466.7 1121.2 478.8 1124.0 490.0 C1126.8 501.2 1129.3 510.7 1130.0 522.0 C1130.7 533.3 1128.3 546.7 1128.0 558.0 C1127.7 569.3 1128.0 584.7 1128.0 590.0" stroke="rgb(65,65,65)" stroke-width="16"/><path d="M1128.0 558.0 C1128.0 563.3 1124.3 581.7 1128.0 590.0 C1131.7 598.3 1138.0 603.3 1150.0 608.0 C1162.0 612.7 1185.0 615.3 1200.0 618.0 C1215.0 620.7 1225.0 623.7 1240.0 624.0 C1255.0 624.3 1275.0 622.3 1290.0 620.0 C1305.0 617.7 1323.3 611.7 1330.0 610.0" stroke="rgb(63,63,63)" stroke-width="7"/><path d="M1320.0 80.0 C1314.2 85.0 1296.7 99.2 1285.0 110.0 C1273.3 120.8 1261.7 133.3 1250.0 145.0 C1238.3 156.7 1220.8 174.2 1215.0 180.0" stroke="rgb(61,61,61)" stroke-width="50"/><path d="M1253.0 440.0 C1252.7 425.0 1254.3 410.8 1258.0 400.0 C1261.7 389.2 1268.0 381.0 1275.0 375.0 C1282.0 369.0 1289.2 366.2 1300.0 364.0 C1310.8 361.8 1326.7 361.7 1340.0 362.0 C1353.3 362.3 1366.7 364.3 1380.0 366.0 C1393.3 367.7 1408.0 368.7 1420.0 372.0 C1432.0 375.3 1442.8 381.3 1452.0 386.0 C1461.2 390.7 1468.7 393.5 1475.0 400.0 C1481.3 406.5 1486.8 415.0 1490.0 425.0 C1493.2 435.0 1494.5 447.5 1494.0 460.0 C1493.5 472.5 1491.0 488.7 1487.0 500.0 C1483.0 511.3 1477.8 520.0 1470.0 528.0 C1462.2 536.0 1451.7 543.3 1440.0 548.0 C1428.3 552.7 1413.3 555.2 1400.0 556.0 C1386.7 556.8 1371.7 554.5 1360.0 553.0 C1348.3 551.5 1340.0 549.8 1330.0 547.0 C1320.0 544.2 1309.2 541.3 1300.0 536.0 C1290.8 530.7 1281.7 522.7 1275.0 515.0 C1268.3 507.3 1263.7 502.5 1260.0 490.0 C1256.3 477.5 1253.3 455.0 1253.0 440.0Z" stroke="rgb(92,92,92)" stroke-width="96" fill="rgb(92,92,92)"/><path d="M1253.0 440.0 C1252.7 425.0 1254.3 410.8 1258.0 400.0 C1261.7 389.2 1268.0 381.0 1275.0 375.0 C1282.0 369.0 1289.2 366.2 1300.0 364.0 C1310.8 361.8 1326.7 361.7 1340.0 362.0 C1353.3 362.3 1366.7 364.3 1380.0 366.0 C1393.3 367.7 1408.0 368.7 1420.0 372.0 C1432.0 375.3 1442.8 381.3 1452.0 386.0 C1461.2 390.7 1468.7 393.5 1475.0 400.0 C1481.3 406.5 1486.8 415.0 1490.0 425.0 C1493.2 435.0 1494.5 447.5 1494.0 460.0 C1493.5 472.5 1491.0 488.7 1487.0 500.0 C1483.0 511.3 1477.8 520.0 1470.0 528.0 C1462.2 536.0 1451.7 543.3 1440.0 548.0 C1428.3 552.7 1413.3 555.2 1400.0 556.0 C1386.7 556.8 1371.7 554.5 1360.0 553.0 C1348.3 551.5 1340.0 549.8 1330.0 547.0 C1320.0 544.2 1309.2 541.3 1300.0 536.0 C1290.8 530.7 1281.7 522.7 1275.0 515.0 C1268.3 507.3 1263.7 502.5 1260.0 490.0 C1256.3 477.5 1253.3 455.0 1253.0 440.0Z" stroke="rgb(73,73,73)" stroke-width="56" fill="rgb(73,73,73)"/><path d="M1253.0 440.0 C1252.7 425.0 1254.3 410.8 1258.0 400.0 C1261.7 389.2 1268.0 381.0 1275.0 375.0 C1282.0 369.0 1289.2 366.2 1300.0 364.0 C1310.8 361.8 1326.7 361.7 1340.0 362.0 C1353.3 362.3 1366.7 364.3 1380.0 366.0 C1393.3 367.7 1408.0 368.7 1420.0 372.0 C1432.0 375.3 1442.8 381.3 1452.0 386.0 C1461.2 390.7 1468.7 393.5 1475.0 400.0 C1481.3 406.5 1486.8 415.0 1490.0 425.0 C1493.2 435.0 1494.5 447.5 1494.0 460.0 C1493.5 472.5 1491.0 488.7 1487.0 500.0 C1483.0 511.3 1477.8 520.0 1470.0 528.0 C1462.2 536.0 1451.7 543.3 1440.0 548.0 C1428.3 552.7 1413.3 555.2 1400.0 556.0 C1386.7 556.8 1371.7 554.5 1360.0 553.0 C1348.3 551.5 1340.0 549.8 1330.0 547.0 C1320.0 544.2 1309.2 541.3 1300.0 536.0 C1290.8 530.7 1281.7 522.7 1275.0 515.0 C1268.3 507.3 1263.7 502.5 1260.0 490.0 C1256.3 477.5 1253.3 455.0 1253.0 440.0Z" stroke="rgb(58,58,58)" stroke-width="18" fill="rgb(31,31,31)"/></g><g filter="url(#fB10)"><ellipse cx="1497" cy="594" rx="32" ry="30" fill="rgb(31,31,31)"/><ellipse cx="1577" cy="458" rx="26" ry="24" fill="rgb(41,41,41)"/><ellipse cx="1568" cy="525" rx="18" ry="38" fill="rgb(54,54,54)"/><ellipse cx="1572" cy="680" rx="28" ry="26" fill="rgb(58,58,58)"/><ellipse cx="1425" cy="665" rx="8" ry="8" fill="rgb(34,34,34)"/><ellipse cx="1648" cy="590" rx="38" ry="120" fill="rgb(34,34,34)"/><ellipse cx="1565" cy="765" rx="66" ry="28" fill="rgb(34,34,34)"/></g></g></g><g id="imgW"><rect x="975" y="900" width="745" height="750" fill="#fff"/><rect x="973.56" y="906.20" width="428.17" height="15.5" fill="#888888"/><rect x="1400.73" y="906.20" width="285.78" height="15.5" fill="#555555"/><rect x="1685.51" y="906.20" width="28.48" height="15.5" fill="#888888"/><rect x="973.69" y="920.70" width="470.82" height="15.5" fill="#888888"/><rect x="1443.51" y="920.70" width="257.27" height="15.5" fill="#555555"/><rect x="1699.78" y="920.70" width="14.24" height="15.5" fill="#888888"/><rect x="973.81" y="935.20" width="470.76" height="15.5" fill="#888888"/><rect x="1443.57" y="935.20" width="270.47" height="15.5" fill="#555555"/><rect x="973.93" y="949.70" width="129.10" height="15.5" fill="#888888"/><rect x="1102.03" y="949.70" width="29.47" height="15.5" fill="#ffffff"/><rect x="1130.50" y="949.70" width="314.13" height="15.5" fill="#888888"/><rect x="1443.63" y="949.70" width="15.23" height="15.5" fill="#555555"/><rect x="1457.86" y="949.70" width="43.70" height="15.5" fill="#888888"/><rect x="1500.56" y="949.70" width="129.10" height="15.5" fill="#555555"/><rect x="1628.66" y="949.70" width="15.23" height="15.5" fill="#888888"/><rect x="1642.89" y="949.70" width="71.17" height="15.5" fill="#555555"/><rect x="974.06" y="964.20" width="129.08" height="15.5" fill="#888888"/><rect x="1102.14" y="964.20" width="15.23" height="15.5" fill="#ffffff"/><rect x="1116.37" y="964.20" width="328.32" height="15.5" fill="#888888"/><rect x="1443.68" y="964.20" width="43.69" height="15.5" fill="#555555"/><rect x="1486.38" y="964.20" width="29.46" height="15.5" fill="#888888"/><rect x="1514.84" y="964.20" width="43.69" height="15.5" fill="#555555"/><rect x="1557.53" y="964.20" width="15.23" height="15.5" fill="#888888"/><rect x="1571.77" y="964.20" width="114.85" height="15.5" fill="#555555"/><rect x="1685.61" y="964.20" width="28.46" height="15.5" fill="#888888"/><rect x="974.18" y="978.70" width="129.06" height="15.5" fill="#888888"/><rect x="1102.24" y="978.70" width="15.23" height="15.5" fill="#ffffff"/><rect x="1116.47" y="978.70" width="43.69" height="15.5" fill="#888888"/><rect x="1159.16" y="978.70" width="15.23" height="15.5" fill="#ffffff"/><rect x="1173.39" y="978.70" width="314.04" height="15.5" fill="#888888"/><rect x="1486.43" y="978.70" width="72.15" height="15.5" fill="#555555"/><rect x="1557.58" y="978.70" width="29.46" height="15.5" fill="#888888"/><rect x="1586.04" y="978.70" width="128.06" height="15.5" fill="#555555"/><rect x="974.30" y="993.20" width="385.14" height="15.5" fill="#888888"/><rect x="1358.44" y="993.20" width="15.23" height="15.5" fill="#ffffff"/><rect x="1372.67" y="993.20" width="157.50" height="15.5" fill="#888888"/><rect x="1529.17" y="993.20" width="43.68" height="15.5" fill="#555555"/><rect x="1571.85" y="993.20" width="43.68" height="15.5" fill="#888888"/><rect x="1614.53" y="993.20" width="99.59" height="15.5" fill="#555555"/><rect x="974.43" y="1007.70" width="143.25" height="15.5" fill="#888888"/><rect x="1116.68" y="1007.70" width="15.23" height="15.5" fill="#ffffff"/><rect x="1130.90" y="1007.70" width="72.13" height="15.5" fill="#888888"/><rect x="1202.03" y="1007.70" width="29.45" height="15.5" fill="#ffffff"/><rect x="1230.48" y="1007.70" width="43.68" height="15.5" fill="#888888"/><rect x="1273.16" y="1007.70" width="15.23" height="15.5" fill="#ffffff"/><rect x="1287.38" y="1007.70" width="29.45" height="15.5" fill="#888888"/><rect x="1315.83" y="1007.70" width="129.03" height="15.5" fill="#ffffff"/><rect x="1443.86" y="1007.70" width="86.35" height="15.5" fill="#888888"/><rect x="1529.21" y="1007.70" width="86.35" height="15.5" fill="#555555"/><rect x="1614.56" y="1007.70" width="15.23" height="15.5" fill="#888888"/><rect x="1628.79" y="1007.70" width="85.35" height="15.5" fill="#555555"/><rect x="974.55" y="1022.20" width="129.01" height="15.5" fill="#888888"/><rect x="1102.56" y="1022.20" width="15.22" height="15.5" fill="#ffffff"/><rect x="1116.78" y="1022.20" width="72.12" height="15.5" fill="#888888"/><rect x="1187.90" y="1022.20" width="271.24" height="15.5" fill="#ffffff"/><rect x="1458.14" y="1022.20" width="72.12" height="15.5" fill="#888888"/><rect x="1529.26" y="1022.20" width="29.45" height="15.5" fill="#555555"/><rect x="1557.71" y="1022.20" width="15.22" height="15.5" fill="#888888"/><rect x="1571.93" y="1022.20" width="43.67" height="15.5" fill="#555555"/><rect x="1614.60" y="1022.20" width="29.45" height="15.5" fill="#888888"/><rect x="1643.05" y="1022.20" width="71.12" height="15.5" fill="#555555"/><rect x="974.67" y="1036.70" width="171.66" height="15.5" fill="#888888"/><rect x="1145.33" y="1036.70" width="15.22" height="15.5" fill="#ffffff"/><rect x="1159.55" y="1036.70" width="15.22" height="15.5" fill="#888888"/><rect x="1173.77" y="1036.70" width="157.44" height="15.5" fill="#ffffff"/><rect x="1330.21" y="1036.70" width="57.89" height="15.5" fill="#000000"/><rect x="1387.09" y="1036.70" width="86.33" height="15.5" fill="#ffffff"/><rect x="1472.42" y="1036.70" width="114.77" height="15.5" fill="#888888"/><rect x="1586.19" y="1036.70" width="29.44" height="15.5" fill="#555555"/><rect x="1614.64" y="1036.70" width="57.89" height="15.5" fill="#888888"/><rect x="1671.52" y="1036.70" width="42.66" height="15.5" fill="#555555"/><rect x="974.80" y="1051.20" width="171.63" height="15.5" fill="#888888"/><rect x="1145.43" y="1051.20" width="128.97" height="15.5" fill="#ffffff"/><rect x="1273.40" y="1051.20" width="15.22" height="15.5" fill="#000000"/><rect x="1287.62" y="1051.20" width="15.22" height="15.5" fill="#ffffff"/><rect x="1301.84" y="1051.20" width="29.44" height="15.5" fill="#000000"/><rect x="1330.28" y="1051.20" width="72.10" height="15.5" fill="#a0a0a0"/><rect x="1401.38" y="1051.20" width="15.22" height="15.5" fill="#000000"/><rect x="1415.60" y="1051.20" width="72.10" height="15.5" fill="#ffffff"/><rect x="1486.70" y="1051.20" width="100.54" height="15.5" fill="#888888"/><rect x="1586.23" y="1051.20" width="29.44" height="15.5" fill="#555555"/><rect x="1614.67" y="1051.20" width="72.10" height="15.5" fill="#888888"/><rect x="1685.77" y="1051.20" width="28.44" height="15.5" fill="#555555"/><rect x="974.92" y="1065.70" width="171.61" height="15.5" fill="#888888"/><rect x="1145.53" y="1065.70" width="114.74" height="15.5" fill="#ffffff"/><rect x="1259.27" y="1065.70" width="43.65" height="15.5" fill="#000000"/><rect x="1301.92" y="1065.70" width="43.65" height="15.5" fill="#a0a0a0"/><rect x="1344.57" y="1065.70" width="15.22" height="15.5" fill="#6e6e6e"/><rect x="1358.79" y="1065.70" width="15.22" height="15.5" fill="#3c3c3c"/><rect x="1373.01" y="1065.70" width="29.43" height="15.5" fill="#6e6e6e"/><rect x="1401.44" y="1065.70" width="29.43" height="15.5" fill="#a0a0a0"/><rect x="1429.88" y="1065.70" width="15.22" height="15.5" fill="#000000"/><rect x="1444.10" y="1065.70" width="72.09" height="15.5" fill="#ffffff"/><rect x="1515.18" y="1065.70" width="199.04" height="15.5" fill="#888888"/><rect x="975.04" y="1080.20" width="157.37" height="15.5" fill="#888888"/><rect x="1131.41" y="1080.20" width="128.94" height="15.5" fill="#ffffff"/><rect x="1259.35" y="1080.20" width="29.43" height="15.5" fill="#000000"/><rect x="1287.78" y="1080.20" width="29.43" height="15.5" fill="#a0a0a0"/><rect x="1316.22" y="1080.20" width="29.43" height="15.5" fill="#6e6e6e"/><rect x="1344.65" y="1080.20" width="29.43" height="15.5" fill="#3c3c3c"/><rect x="1373.08" y="1080.20" width="72.08" height="15.5" fill="#6e6e6e"/><rect x="1444.16" y="1080.20" width="15.22" height="15.5" fill="#a0a0a0"/><rect x="1458.37" y="1080.20" width="15.22" height="15.5" fill="#000000"/><rect x="1472.59" y="1080.20" width="43.65" height="15.5" fill="#ffffff"/><rect x="1515.23" y="1080.20" width="199.02" height="15.5" fill="#888888"/><rect x="975.17" y="1094.70" width="157.35" height="15.5" fill="#888888"/><rect x="1131.52" y="1094.70" width="86.28" height="15.5" fill="#ffffff"/><rect x="1216.80" y="1094.70" width="57.85" height="15.5" fill="#000000"/><rect x="1273.65" y="1094.70" width="29.43" height="15.5" fill="#a0a0a0"/><rect x="1302.08" y="1094.70" width="15.21" height="15.5" fill="#3c3c3c"/><rect x="1316.29" y="1094.70" width="43.64" height="15.5" fill="#c8c8c8"/><rect x="1358.93" y="1094.70" width="57.85" height="15.5" fill="#3c3c3c"/><rect x="1415.79" y="1094.70" width="43.64" height="15.5" fill="#6e6e6e"/><rect x="1458.43" y="1094.70" width="15.21" height="15.5" fill="#a0a0a0"/><rect x="1472.64" y="1094.70" width="15.21" height="15.5" fill="#000000"/><rect x="1486.85" y="1094.70" width="29.43" height="15.5" fill="#ffffff"/><rect x="1515.28" y="1094.70" width="198.99" height="15.5" fill="#888888"/><rect x="975.29" y="1109.20" width="114.69" height="15.5" fill="#888888"/><rect x="1088.98" y="1109.20" width="15.21" height="15.5" fill="#ffffff"/><rect x="1103.20" y="1109.20" width="29.42" height="15.5" fill="#888888"/><rect x="1131.62" y="1109.20" width="86.27" height="15.5" fill="#ffffff"/><rect x="1216.89" y="1109.20" width="43.63" height="15.5" fill="#000000"/><rect x="1259.52" y="1109.20" width="29.42" height="15.5" fill="#a0a0a0"/><rect x="1287.95" y="1109.20" width="15.21" height="15.5" fill="#6e6e6e"/><rect x="1302.16" y="1109.20" width="15.21" height="15.5" fill="#c8c8c8"/><rect x="1316.37" y="1109.20" width="15.21" height="15.5" fill="#bcbcbc"/><rect x="1330.58" y="1109.20" width="29.42" height="15.5" fill="#a9a9a9"/><rect x="1359.00" y="1109.20" width="29.42" height="15.5" fill="#b2b2b2"/><rect x="1387.43" y="1109.20" width="15.21" height="15.5" fill="#a9a9a9"/><rect x="1401.64" y="1109.20" width="15.21" height="15.5" fill="#b2b2b2"/><rect x="1415.85" y="1109.20" width="15.21" height="15.5" fill="#3c3c3c"/><rect x="1430.06" y="1109.20" width="15.21" height="15.5" fill="#6e6e6e"/><rect x="1444.27" y="1109.20" width="15.21" height="15.5" fill="#3c3c3c"/><rect x="1458.48" y="1109.20" width="15.21" height="15.5" fill="#6e6e6e"/><rect x="1472.70" y="1109.20" width="15.21" height="15.5" fill="#a0a0a0"/><rect x="1486.91" y="1109.20" width="57.85" height="15.5" fill="#ffffff"/><rect x="1543.75" y="1109.20" width="57.85" height="15.5" fill="#888888"/><rect x="1600.60" y="1109.20" width="29.42" height="15.5" fill="#555555"/><rect x="1629.02" y="1109.20" width="85.27" height="15.5" fill="#888888"/><rect x="975.41" y="1123.70" width="100.47" height="15.5" fill="#888888"/><rect x="1074.88" y="1123.70" width="29.42" height="15.5" fill="#ffffff"/><rect x="1103.30" y="1123.70" width="29.42" height="15.5" fill="#888888"/><rect x="1131.72" y="1123.70" width="72.05" height="15.5" fill="#ffffff"/><rect x="1202.77" y="1123.70" width="29.42" height="15.5" fill="#000000"/><rect x="1231.19" y="1123.70" width="43.63" height="15.5" fill="#a0a0a0"/><rect x="1273.82" y="1123.70" width="29.42" height="15.5" fill="#6e6e6e"/><rect x="1302.24" y="1123.70" width="15.21" height="15.5" fill="#3c3c3c"/><rect x="1316.45" y="1123.70" width="15.21" height="15.5" fill="#bcbcbc"/><rect x="1330.65" y="1123.70" width="43.63" height="15.5" fill="#a9a9a9"/><rect x="1373.28" y="1123.70" width="15.21" height="15.5" fill="#939393"/><rect x="1387.49" y="1123.70" width="15.21" height="15.5" fill="#7c7c7c"/><rect x="1401.70" y="1123.70" width="15.21" height="15.5" fill="#a0a0a0"/><rect x="1415.91" y="1123.70" width="15.21" height="15.5" fill="#3c3c3c"/><rect x="1430.12" y="1123.70" width="15.21" height="15.5" fill="#6e6e6e"/><rect x="1444.33" y="1123.70" width="29.42" height="15.5" fill="#3c3c3c"/><rect x="1472.75" y="1123.70" width="15.21" height="15.5" fill="#7c7c7c"/><rect x="1486.96" y="1123.70" width="15.21" height="15.5" fill="#000000"/><rect x="1501.17" y="1123.70" width="43.63" height="15.5" fill="#ffffff"/><rect x="1543.80" y="1123.70" width="57.84" height="15.5" fill="#888888"/><rect x="1600.64" y="1123.70" width="43.63" height="15.5" fill="#555555"/><rect x="1643.27" y="1123.70" width="71.05" height="15.5" fill="#888888"/><rect x="975.54" y="1138.20" width="100.45" height="15.5" fill="#888888"/><rect x="1074.99" y="1138.20" width="128.87" height="15.5" fill="#ffffff"/><rect x="1202.86" y="1138.20" width="29.42" height="15.5" fill="#000000"/><rect x="1231.28" y="1138.20" width="43.62" height="15.5" fill="#a0a0a0"/><rect x="1273.90" y="1138.20" width="29.42" height="15.5" fill="#6e6e6e"/><rect x="1302.31" y="1138.20" width="15.21" height="15.5" fill="#3c3c3c"/><rect x="1316.52" y="1138.20" width="15.21" height="15.5" fill="#c8c8c8"/><rect x="1330.73" y="1138.20" width="15.21" height="15.5" fill="#bcbcbc"/><rect x="1344.94" y="1138.20" width="15.21" height="15.5" fill="#b2b2b2"/><rect x="1359.14" y="1138.20" width="15.21" height="15.5" fill="#939393"/><rect x="1373.35" y="1138.20" width="15.21" height="15.5" fill="#7c7c7c"/><rect x="1387.56" y="1138.20" width="15.21" height="15.5" fill="#ffffff"/><rect x="1401.77" y="1138.20" width="15.21" height="15.5" fill="#888888"/><rect x="1415.98" y="1138.20" width="15.21" height="15.5" fill="#c8c8c8"/><rect x="1430.18" y="1138.20" width="15.21" height="15.5" fill="#3c3c3c"/><rect x="1444.39" y="1138.20" width="15.21" height="15.5" fill="#c8c8c8"/><rect x="1458.60" y="1138.20" width="15.21" height="15.5" fill="#3c3c3c"/><rect x="1472.81" y="1138.20" width="15.21" height="15.5" fill="#7c7c7c"/><rect x="1487.01" y="1138.20" width="15.21" height="15.5" fill="#a0a0a0"/><rect x="1501.22" y="1138.20" width="15.21" height="15.5" fill="#000000"/><rect x="1515.43" y="1138.20" width="43.62" height="15.5" fill="#ffffff"/><rect x="1558.05" y="1138.20" width="57.83" height="15.5" fill="#888888"/><rect x="1614.88" y="1138.20" width="15.21" height="15.5" fill="#555555"/><rect x="1629.09" y="1138.20" width="29.42" height="15.5" fill="#888888"/><rect x="1657.51" y="1138.20" width="15.21" height="15.5" fill="#555555"/><rect x="1671.71" y="1138.20" width="42.62" height="15.5" fill="#888888"/><rect x="975.66" y="1152.70" width="100.44" height="15.5" fill="#888888"/><rect x="1075.10" y="1152.70" width="128.85" height="15.5" fill="#ffffff"/><rect x="1202.95" y="1152.70" width="29.41" height="15.5" fill="#000000"/><rect x="1231.36" y="1152.70" width="43.62" height="15.5" fill="#a0a0a0"/><rect x="1273.98" y="1152.70" width="43.62" height="15.5" fill="#6e6e6e"/><rect x="1316.60" y="1152.70" width="43.62" height="15.5" fill="#3c3c3c"/><rect x="1359.22" y="1152.70" width="15.21" height="15.5" fill="#b2b2b2"/><rect x="1373.42" y="1152.70" width="15.21" height="15.5" fill="#939393"/><rect x="1387.63" y="1152.70" width="29.41" height="15.5" fill="#7c7c7c"/><rect x="1416.04" y="1152.70" width="15.21" height="15.5" fill="#c8c8c8"/><rect x="1430.24" y="1152.70" width="15.21" height="15.5" fill="#3c3c3c"/><rect x="1444.45" y="1152.70" width="15.21" height="15.5" fill="#c8c8c8"/><rect x="1458.66" y="1152.70" width="15.21" height="15.5" fill="#3c3c3c"/><rect x="1472.86" y="1152.70" width="15.21" height="15.5" fill="#7c7c7c"/><rect x="1487.07" y="1152.70" width="15.21" height="15.5" fill="#a0a0a0"/><rect x="1501.27" y="1152.70" width="15.21" height="15.5" fill="#000000"/><rect x="1515.48" y="1152.70" width="43.62" height="15.5" fill="#ffffff"/><rect x="1558.09" y="1152.70" width="43.62" height="15.5" fill="#888888"/><rect x="1600.71" y="1152.70" width="43.62" height="15.5" fill="#555555"/><rect x="1643.33" y="1152.70" width="15.21" height="15.5" fill="#888888"/><rect x="1657.53" y="1152.70" width="15.21" height="15.5" fill="#555555"/><rect x="1671.74" y="1152.70" width="42.62" height="15.5" fill="#888888"/><rect x="975.79" y="1167.20" width="114.63" height="15.5" fill="#888888"/><rect x="1089.42" y="1167.20" width="100.43" height="15.5" fill="#ffffff"/><rect x="1188.84" y="1167.20" width="43.61" height="15.5" fill="#000000"/><rect x="1231.45" y="1167.20" width="43.61" height="15.5" fill="#a0a0a0"/><rect x="1274.06" y="1167.20" width="86.22" height="15.5" fill="#6e6e6e"/><rect x="1359.29" y="1167.20" width="15.20" height="15.5" fill="#3c3c3c"/><rect x="1373.49" y="1167.20" width="15.20" height="15.5" fill="#bcbcbc"/><rect x="1387.69" y="1167.20" width="15.20" height="15.5" fill="#939393"/><rect x="1401.90" y="1167.20" width="15.20" height="15.5" fill="#7c7c7c"/><rect x="1416.10" y="1167.20" width="43.61" height="15.5" fill="#c8c8c8"/><rect x="1458.71" y="1167.20" width="15.20" height="15.5" fill="#3c3c3c"/><rect x="1472.92" y="1167.20" width="15.20" height="15.5" fill="#7c7c7c"/><rect x="1487.12" y="1167.20" width="29.41" height="15.5" fill="#a0a0a0"/><rect x="1515.53" y="1167.20" width="15.20" height="15.5" fill="#000000"/><rect x="1529.73" y="1167.20" width="43.61" height="15.5" fill="#ffffff"/><rect x="1572.34" y="1167.20" width="29.41" height="15.5" fill="#888888"/><rect x="1600.75" y="1167.20" width="43.61" height="15.5" fill="#555555"/><rect x="1643.36" y="1167.20" width="29.41" height="15.5" fill="#888888"/><rect x="1671.77" y="1167.20" width="15.20" height="15.5" fill="#555555"/><rect x="1685.97" y="1167.20" width="28.41" height="15.5" fill="#888888"/><rect x="975.91" y="1181.70" width="157.22" height="15.5" fill="#888888"/><rect x="1132.13" y="1181.70" width="57.81" height="15.5" fill="#ffffff"/><rect x="1188.94" y="1181.70" width="43.61" height="15.5" fill="#000000"/><rect x="1231.54" y="1181.70" width="72.01" height="15.5" fill="#a0a0a0"/><rect x="1302.55" y="1181.70" width="43.61" height="15.5" fill="#6e6e6e"/><rect x="1345.15" y="1181.70" width="15.20" height="15.5" fill="#3c3c3c"/><rect x="1359.36" y="1181.70" width="15.20" height="15.5" fill="#c8c8c8"/><rect x="1373.56" y="1181.70" width="15.20" height="15.5" fill="#a9a9a9"/><rect x="1387.76" y="1181.70" width="29.40" height="15.5" fill="#939393"/><rect x="1416.16" y="1181.70" width="29.40" height="15.5" fill="#3c3c3c"/><rect x="1444.57" y="1181.70" width="15.20" height="15.5" fill="#b2b2b2"/><rect x="1458.77" y="1181.70" width="15.20" height="15.5" fill="#3c3c3c"/><rect x="1472.97" y="1181.70" width="15.20" height="15.5" fill="#7c7c7c"/><rect x="1487.17" y="1181.70" width="29.40" height="15.5" fill="#a0a0a0"/><rect x="1515.58" y="1181.70" width="15.20" height="15.5" fill="#000000"/><rect x="1529.78" y="1181.70" width="29.40" height="15.5" fill="#ffffff"/><rect x="1558.18" y="1181.70" width="43.61" height="15.5" fill="#888888"/><rect x="1600.79" y="1181.70" width="57.81" height="15.5" fill="#555555"/><rect x="1657.59" y="1181.70" width="15.20" height="15.5" fill="#888888"/><rect x="1671.80" y="1181.70" width="29.40" height="15.5" fill="#555555"/><rect x="1700.20" y="1181.70" width="14.20" height="15.5" fill="#888888"/><rect x="976.03" y="1196.20" width="128.80" height="15.5" fill="#888888"/><rect x="1103.83" y="1196.20" width="57.80" height="15.5" fill="#ffffff"/><rect x="1160.63" y="1196.20" width="86.20" height="15.5" fill="#000000"/><rect x="1245.83" y="1196.20" width="57.80" height="15.5" fill="#a0a0a0"/><rect x="1302.63" y="1196.20" width="29.40" height="15.5" fill="#6e6e6e"/><rect x="1331.03" y="1196.20" width="15.20" height="15.5" fill="#3c3c3c"/><rect x="1345.23" y="1196.20" width="15.20" height="15.5" fill="#c8c8c8"/><rect x="1359.43" y="1196.20" width="15.20" height="15.5" fill="#a9a9a9"/><rect x="1373.63" y="1196.20" width="29.40" height="15.5" fill="#939393"/><rect x="1402.03" y="1196.20" width="15.20" height="15.5" fill="#a9a9a9"/><rect x="1416.23" y="1196.20" width="29.40" height="15.5" fill="#3c3c3c"/><rect x="1444.63" y="1196.20" width="15.20" height="15.5" fill="#b2b2b2"/><rect x="1458.83" y="1196.20" width="15.20" height="15.5" fill="#bcbcbc"/><rect x="1473.03" y="1196.20" width="15.20" height="15.5" fill="#3c3c3c"/><rect x="1487.23" y="1196.20" width="15.20" height="15.5" fill="#6e6e6e"/><rect x="1501.43" y="1196.20" width="15.20" height="15.5" fill="#a0a0a0"/><rect x="1515.62" y="1196.20" width="15.20" height="15.5" fill="#000000"/><rect x="1529.82" y="1196.20" width="29.40" height="15.5" fill="#ffffff"/><rect x="1558.22" y="1196.20" width="43.60" height="15.5" fill="#888888"/><rect x="1600.82" y="1196.20" width="100.40" height="15.5" fill="#555555"/><rect x="1700.22" y="1196.20" width="14.20" height="15.5" fill="#888888"/><rect x="976.16" y="1210.70" width="142.98" height="15.5" fill="#888888"/><rect x="1118.13" y="1210.70" width="57.79" height="15.5" fill="#ffffff"/><rect x="1174.93" y="1210.70" width="71.99" height="15.5" fill="#000000"/><rect x="1245.91" y="1210.70" width="43.59" height="15.5" fill="#a0a0a0"/><rect x="1288.51" y="1210.70" width="29.40" height="15.5" fill="#6e6e6e"/><rect x="1316.90" y="1210.70" width="15.20" height="15.5" fill="#3c3c3c"/><rect x="1331.10" y="1210.70" width="29.40" height="15.5" fill="#c8c8c8"/><rect x="1359.50" y="1210.70" width="15.20" height="15.5" fill="#a9a9a9"/><rect x="1373.70" y="1210.70" width="15.20" height="15.5" fill="#a0a0a0"/><rect x="1387.89" y="1210.70" width="15.20" height="15.5" fill="#a9a9a9"/><rect x="1402.09" y="1210.70" width="43.59" height="15.5" fill="#c8c8c8"/><rect x="1444.68" y="1210.70" width="15.20" height="15.5" fill="#bcbcbc"/><rect x="1458.88" y="1210.70" width="15.20" height="15.5" fill="#b2b2b2"/><rect x="1473.08" y="1210.70" width="15.20" height="15.5" fill="#3c3c3c"/><rect x="1487.28" y="1210.70" width="29.40" height="15.5" fill="#a0a0a0"/><rect x="1515.67" y="1210.70" width="15.20" height="15.5" fill="#000000"/><rect x="1529.87" y="1210.70" width="29.40" height="15.5" fill="#ffffff"/><rect x="1558.27" y="1210.70" width="57.79" height="15.5" fill="#888888"/><rect x="1615.06" y="1210.70" width="86.19" height="15.5" fill="#555555"/><rect x="1700.25" y="1210.70" width="14.20" height="15.5" fill="#888888"/><rect x="976.28" y="1225.20" width="142.96" height="15.5" fill="#888888"/><rect x="1118.24" y="1225.20" width="71.98" height="15.5" fill="#ffffff"/><rect x="1189.22" y="1225.20" width="43.59" height="15.5" fill="#000000"/><rect x="1231.81" y="1225.20" width="43.59" height="15.5" fill="#a0a0a0"/><rect x="1274.39" y="1225.20" width="29.39" height="15.5" fill="#6e6e6e"/><rect x="1302.78" y="1225.20" width="15.20" height="15.5" fill="#3c3c3c"/><rect x="1316.98" y="1225.20" width="15.20" height="15.5" fill="#c8c8c8"/><rect x="1331.18" y="1225.20" width="43.59" height="15.5" fill="#bcbcbc"/><rect x="1373.76" y="1225.20" width="15.20" height="15.5" fill="#c8c8c8"/><rect x="1387.96" y="1225.20" width="15.20" height="15.5" fill="#3c3c3c"/><rect x="1402.16" y="1225.20" width="29.39" height="15.5" fill="#bcbcbc"/><rect x="1430.55" y="1225.20" width="29.39" height="15.5" fill="#c8c8c8"/><rect x="1458.94" y="1225.20" width="15.20" height="15.5" fill="#3c3c3c"/><rect x="1473.14" y="1225.20" width="15.20" height="15.5" fill="#6e6e6e"/><rect x="1487.33" y="1225.20" width="29.39" height="15.5" fill="#a0a0a0"/><rect x="1515.72" y="1225.20" width="15.20" height="15.5" fill="#000000"/><rect x="1529.92" y="1225.20" width="43.59" height="15.5" fill="#ffffff"/><rect x="1572.51" y="1225.20" width="57.78" height="15.5" fill="#888888"/><rect x="1629.29" y="1225.20" width="71.98" height="15.5" fill="#555555"/><rect x="1700.27" y="1225.20" width="14.20" height="15.5" fill="#888888"/><rect x="976.40" y="1239.70" width="128.75" height="15.5" fill="#888888"/><rect x="1104.15" y="1239.70" width="100.36" height="15.5" fill="#ffffff"/><rect x="1203.51" y="1239.70" width="29.39" height="15.5" fill="#000000"/><rect x="1231.89" y="1239.70" width="43.58" height="15.5" fill="#a0a0a0"/><rect x="1274.48" y="1239.70" width="29.39" height="15.5" fill="#6e6e6e"/><rect x="1302.86" y="1239.70" width="15.19" height="15.5" fill="#3c3c3c"/><rect x="1317.06" y="1239.70" width="15.19" height="15.5" fill="#c8c8c8"/><rect x="1331.25" y="1239.70" width="15.19" height="15.5" fill="#bcbcbc"/><rect x="1345.44" y="1239.70" width="29.39" height="15.5" fill="#3c3c3c"/><rect x="1373.83" y="1239.70" width="15.19" height="15.5" fill="#c8c8c8"/><rect x="1388.03" y="1239.70" width="15.19" height="15.5" fill="#bcbcbc"/><rect x="1402.22" y="1239.70" width="15.19" height="15.5" fill="#b2b2b2"/><rect x="1416.41" y="1239.70" width="15.19" height="15.5" fill="#c8c8c8"/><rect x="1430.61" y="1239.70" width="29.39" height="15.5" fill="#3c3c3c"/><rect x="1459.00" y="1239.70" width="15.19" height="15.5" fill="#6e6e6e"/><rect x="1473.19" y="1239.70" width="29.39" height="15.5" fill="#a0a0a0"/><rect x="1501.58" y="1239.70" width="15.19" height="15.5" fill="#000000"/><rect x="1515.77" y="1239.70" width="29.39" height="15.5" fill="#ffffff"/><rect x="1544.16" y="1239.70" width="43.58" height="15.5" fill="#888888"/><rect x="1586.74" y="1239.70" width="127.75" height="15.5" fill="#555555"/><rect x="976.53" y="1254.20" width="157.11" height="15.5" fill="#888888"/><rect x="1132.64" y="1254.20" width="86.15" height="15.5" fill="#ffffff"/><rect x="1217.79" y="1254.20" width="29.38" height="15.5" fill="#000000"/><rect x="1246.17" y="1254.20" width="29.38" height="15.5" fill="#a0a0a0"/><rect x="1274.56" y="1254.20" width="29.38" height="15.5" fill="#6e6e6e"/><rect x="1302.94" y="1254.20" width="15.19" height="15.5" fill="#3c3c3c"/><rect x="1317.13" y="1254.20" width="29.38" height="15.5" fill="#c8c8c8"/><rect x="1345.52" y="1254.20" width="15.19" height="15.5" fill="#3c3c3c"/><rect x="1359.71" y="1254.20" width="43.58" height="15.5" fill="#b2b2b2"/><rect x="1402.29" y="1254.20" width="15.19" height="15.5" fill="#bcbcbc"/><rect x="1416.48" y="1254.20" width="29.38" height="15.5" fill="#3c3c3c"/><rect x="1444.86" y="1254.20" width="15.19" height="15.5" fill="#6e6e6e"/><rect x="1459.05" y="1254.20" width="43.58" height="15.5" fill="#a0a0a0"/><rect x="1501.63" y="1254.20" width="15.19" height="15.5" fill="#000000"/><rect x="1515.82" y="1254.20" width="29.38" height="15.5" fill="#ffffff"/><rect x="1544.20" y="1254.20" width="57.77" height="15.5" fill="#888888"/><rect x="1600.97" y="1254.20" width="113.54" height="15.5" fill="#555555"/><rect x="976.65" y="1268.70" width="142.90" height="15.5" fill="#888888"/><rect x="1118.55" y="1268.70" width="86.14" height="15.5" fill="#ffffff"/><rect x="1203.69" y="1268.70" width="57.76" height="15.5" fill="#000000"/><rect x="1260.45" y="1268.70" width="15.19" height="15.5" fill="#a0a0a0"/><rect x="1274.64" y="1268.70" width="29.38" height="15.5" fill="#6e6e6e"/><rect x="1303.02" y="1268.70" width="15.19" height="15.5" fill="#3c3c3c"/><rect x="1317.21" y="1268.70" width="29.38" height="15.5" fill="#c8c8c8"/><rect x="1345.59" y="1268.70" width="15.19" height="15.5" fill="#b2b2b2"/><rect x="1359.78" y="1268.70" width="15.19" height="15.5" fill="#939393"/><rect x="1373.97" y="1268.70" width="15.19" height="15.5" fill="#b2b2b2"/><rect x="1388.16" y="1268.70" width="15.19" height="15.5" fill="#bcbcbc"/><rect x="1402.35" y="1268.70" width="29.38" height="15.5" fill="#3c3c3c"/><rect x="1430.73" y="1268.70" width="15.19" height="15.5" fill="#6e6e6e"/><rect x="1444.92" y="1268.70" width="43.57" height="15.5" fill="#a0a0a0"/><rect x="1487.49" y="1268.70" width="29.38" height="15.5" fill="#000000"/><rect x="1515.87" y="1268.70" width="15.19" height="15.5" fill="#ffffff"/><rect x="1530.06" y="1268.70" width="71.95" height="15.5" fill="#888888"/><rect x="1601.01" y="1268.70" width="113.52" height="15.5" fill="#555555"/><rect x="976.77" y="1283.20" width="142.88" height="15.5" fill="#888888"/><rect x="1118.65" y="1283.20" width="86.13" height="15.5" fill="#ffffff"/><rect x="1203.78" y="1283.20" width="57.75" height="15.5" fill="#000000"/><rect x="1260.53" y="1283.20" width="29.38" height="15.5" fill="#a0a0a0"/><rect x="1288.91" y="1283.20" width="29.38" height="15.5" fill="#6e6e6e"/><rect x="1317.29" y="1283.20" width="15.19" height="15.5" fill="#3c3c3c"/><rect x="1331.47" y="1283.20" width="15.19" height="15.5" fill="#c8c8c8"/><rect x="1345.66" y="1283.20" width="15.19" height="15.5" fill="#a9a9a9"/><rect x="1359.85" y="1283.20" width="15.19" height="15.5" fill="#b2b2b2"/><rect x="1374.04" y="1283.20" width="15.19" height="15.5" fill="#c8c8c8"/><rect x="1388.23" y="1283.20" width="43.56" height="15.5" fill="#3c3c3c"/><rect x="1430.79" y="1283.20" width="15.19" height="15.5" fill="#6e6e6e"/><rect x="1444.98" y="1283.20" width="29.38" height="15.5" fill="#a0a0a0"/><rect x="1473.35" y="1283.20" width="43.56" height="15.5" fill="#000000"/><rect x="1515.92" y="1283.20" width="29.38" height="15.5" fill="#ffffff"/><rect x="1544.30" y="1283.20" width="57.75" height="15.5" fill="#888888"/><rect x="1601.05" y="1283.20" width="113.50" height="15.5" fill="#555555"/><rect x="976.90" y="1297.70" width="157.05" height="15.5" fill="#888888"/><rect x="1132.94" y="1297.70" width="86.12" height="15.5" fill="#ffffff"/><rect x="1218.06" y="1297.70" width="43.56" height="15.5" fill="#000000"/><rect x="1260.62" y="1297.70" width="43.56" height="15.5" fill="#a0a0a0"/><rect x="1303.18" y="1297.70" width="15.19" height="15.5" fill="#6e6e6e"/><rect x="1317.36" y="1297.70" width="100.30" height="15.5" fill="#3c3c3c"/><rect x="1416.67" y="1297.70" width="15.19" height="15.5" fill="#6e6e6e"/><rect x="1430.85" y="1297.70" width="29.37" height="15.5" fill="#a0a0a0"/><rect x="1459.22" y="1297.70" width="43.56" height="15.5" fill="#000000"/><rect x="1501.78" y="1297.70" width="29.37" height="15.5" fill="#ffffff"/><rect x="1530.15" y="1297.70" width="57.74" height="15.5" fill="#888888"/><rect x="1586.90" y="1297.70" width="57.74" height="15.5" fill="#555555"/><rect x="1643.64" y="1297.70" width="29.37" height="15.5" fill="#888888"/><rect x="1672.01" y="1297.70" width="42.56" height="15.5" fill="#555555"/><rect x="977.02" y="1312.20" width="157.03" height="15.5" fill="#888888"/><rect x="1133.05" y="1312.20" width="114.47" height="15.5" fill="#ffffff"/><rect x="1246.52" y="1312.20" width="57.74" height="15.5" fill="#000000"/><rect x="1303.26" y="1312.20" width="15.18" height="15.5" fill="#a0a0a0"/><rect x="1317.44" y="1312.20" width="15.18" height="15.5" fill="#6e6e6e"/><rect x="1331.62" y="1312.20" width="29.37" height="15.5" fill="#3c3c3c"/><rect x="1359.99" y="1312.20" width="57.74" height="15.5" fill="#6e6e6e"/><rect x="1416.73" y="1312.20" width="15.18" height="15.5" fill="#a0a0a0"/><rect x="1430.91" y="1312.20" width="57.74" height="15.5" fill="#000000"/><rect x="1487.65" y="1312.20" width="43.55" height="15.5" fill="#ffffff"/><rect x="1530.20" y="1312.20" width="57.74" height="15.5" fill="#888888"/><rect x="1586.94" y="1312.20" width="127.66" height="15.5" fill="#555555"/><rect x="977.14" y="1326.70" width="157.00" height="15.5" fill="#888888"/><rect x="1133.15" y="1326.70" width="142.82" height="15.5" fill="#ffffff"/><rect x="1274.97" y="1326.70" width="43.55" height="15.5" fill="#000000"/><rect x="1317.52" y="1326.70" width="57.73" height="15.5" fill="#a0a0a0"/><rect x="1374.24" y="1326.70" width="114.46" height="15.5" fill="#000000"/><rect x="1487.70" y="1326.70" width="43.55" height="15.5" fill="#ffffff"/><rect x="1530.25" y="1326.70" width="57.73" height="15.5" fill="#888888"/><rect x="1586.98" y="1326.70" width="114.46" height="15.5" fill="#555555"/><rect x="1700.43" y="1326.70" width="14.18" height="15.5" fill="#888888"/><rect x="977.27" y="1341.20" width="213.70" height="15.5" fill="#888888"/><rect x="1189.97" y="1341.20" width="128.62" height="15.5" fill="#ffffff"/><rect x="1317.59" y="1341.20" width="142.80" height="15.5" fill="#000000"/><rect x="1459.39" y="1341.20" width="57.72" height="15.5" fill="#ffffff"/><rect x="1516.12" y="1341.20" width="71.90" height="15.5" fill="#888888"/><rect x="1587.02" y="1341.20" width="114.44" height="15.5" fill="#555555"/><rect x="1700.46" y="1341.20" width="14.18" height="15.5" fill="#888888"/><rect x="977.39" y="1355.70" width="256.21" height="15.5" fill="#888888"/><rect x="1232.60" y="1355.70" width="100.25" height="15.5" fill="#ffffff"/><rect x="1331.85" y="1355.70" width="114.43" height="15.5" fill="#000000"/><rect x="1445.27" y="1355.70" width="57.71" height="15.5" fill="#ffffff"/><rect x="1501.99" y="1355.70" width="86.07" height="15.5" fill="#888888"/><rect x="1587.06" y="1355.70" width="86.07" height="15.5" fill="#555555"/><rect x="1672.12" y="1355.70" width="29.36" height="15.5" fill="#888888"/><rect x="1700.48" y="1355.70" width="14.18" height="15.5" fill="#555555"/><rect x="977.51" y="1370.20" width="242.00" height="15.5" fill="#888888"/><rect x="1218.51" y="1370.20" width="270.35" height="15.5" fill="#ffffff"/><rect x="1487.86" y="1370.20" width="100.23" height="15.5" fill="#888888"/><rect x="1587.09" y="1370.20" width="57.71" height="15.5" fill="#555555"/><rect x="1643.80" y="1370.20" width="29.35" height="15.5" fill="#888888"/><rect x="1672.15" y="1370.20" width="42.53" height="15.5" fill="#555555"/><rect x="977.64" y="1384.70" width="57.70" height="15.5" fill="#555555"/><rect x="1034.34" y="1384.70" width="57.70" height="15.5" fill="#888888"/><rect x="1091.03" y="1384.70" width="29.35" height="15.5" fill="#555555"/><rect x="1119.38" y="1384.70" width="100.22" height="15.5" fill="#888888"/><rect x="1218.60" y="1384.70" width="241.96" height="15.5" fill="#ffffff"/><rect x="1459.56" y="1384.70" width="86.05" height="15.5" fill="#888888"/><rect x="1544.61" y="1384.70" width="15.17" height="15.5" fill="#555555"/><rect x="1558.79" y="1384.70" width="43.52" height="15.5" fill="#888888"/><rect x="1601.31" y="1384.70" width="29.35" height="15.5" fill="#555555"/><rect x="1629.66" y="1384.70" width="43.52" height="15.5" fill="#888888"/><rect x="1672.18" y="1384.70" width="42.52" height="15.5" fill="#555555"/><rect x="977.76" y="1399.20" width="43.52" height="15.5" fill="#555555"/><rect x="1020.28" y="1399.20" width="57.69" height="15.5" fill="#888888"/><rect x="1076.97" y="1399.20" width="29.34" height="15.5" fill="#555555"/><rect x="1105.31" y="1399.20" width="171.07" height="15.5" fill="#888888"/><rect x="1275.38" y="1399.20" width="57.69" height="15.5" fill="#ffffff"/><rect x="1332.07" y="1399.20" width="15.17" height="15.5" fill="#888888"/><rect x="1346.24" y="1399.20" width="100.21" height="15.5" fill="#ffffff"/><rect x="1445.45" y="1399.20" width="86.03" height="15.5" fill="#888888"/><rect x="1530.48" y="1399.20" width="43.52" height="15.5" fill="#555555"/><rect x="1573.00" y="1399.20" width="15.17" height="15.5" fill="#888888"/><rect x="1587.17" y="1399.20" width="43.52" height="15.5" fill="#555555"/><rect x="1629.69" y="1399.20" width="43.52" height="15.5" fill="#888888"/><rect x="1672.21" y="1399.20" width="29.34" height="15.5" fill="#555555"/><rect x="1700.55" y="1399.20" width="14.17" height="15.5" fill="#888888"/><rect x="977.89" y="1413.70" width="29.34" height="15.5" fill="#555555"/><rect x="1006.23" y="1413.70" width="29.34" height="15.5" fill="#888888"/><rect x="1034.57" y="1413.70" width="29.34" height="15.5" fill="#555555"/><rect x="1062.91" y="1413.70" width="241.90" height="15.5" fill="#888888"/><rect x="1303.80" y="1413.70" width="15.17" height="15.5" fill="#ffffff"/><rect x="1317.97" y="1413.70" width="43.51" height="15.5" fill="#888888"/><rect x="1360.49" y="1413.70" width="57.68" height="15.5" fill="#ffffff"/><rect x="1417.17" y="1413.70" width="114.36" height="15.5" fill="#888888"/><rect x="1530.53" y="1413.70" width="57.68" height="15.5" fill="#555555"/><rect x="1587.21" y="1413.70" width="100.19" height="15.5" fill="#888888"/><rect x="1686.40" y="1413.70" width="15.17" height="15.5" fill="#555555"/><rect x="1700.58" y="1413.70" width="14.17" height="15.5" fill="#888888"/><rect x="978.01" y="1428.20" width="100.18" height="15.5" fill="#555555"/><rect x="1077.19" y="1428.20" width="29.34" height="15.5" fill="#888888"/><rect x="1105.52" y="1428.20" width="29.34" height="15.5" fill="#555555"/><rect x="1133.86" y="1428.20" width="15.17" height="15.5" fill="#888888"/><rect x="1148.03" y="1428.20" width="15.17" height="15.5" fill="#555555"/><rect x="1162.20" y="1428.20" width="185.19" height="15.5" fill="#888888"/><rect x="1346.39" y="1428.20" width="43.51" height="15.5" fill="#ffffff"/><rect x="1388.89" y="1428.20" width="128.52" height="15.5" fill="#888888"/><rect x="1516.41" y="1428.20" width="86.01" height="15.5" fill="#555555"/><rect x="1601.42" y="1428.20" width="113.35" height="15.5" fill="#888888"/><rect x="978.13" y="1442.70" width="128.50" height="15.5" fill="#555555"/><rect x="1105.63" y="1442.70" width="29.33" height="15.5" fill="#888888"/><rect x="1133.96" y="1442.70" width="29.33" height="15.5" fill="#555555"/><rect x="1162.30" y="1442.70" width="185.16" height="15.5" fill="#888888"/><rect x="1346.46" y="1442.70" width="29.33" height="15.5" fill="#ffffff"/><rect x="1374.79" y="1442.70" width="142.66" height="15.5" fill="#888888"/><rect x="1516.46" y="1442.70" width="86.00" height="15.5" fill="#555555"/><rect x="1601.46" y="1442.70" width="100.17" height="15.5" fill="#888888"/><rect x="1700.62" y="1442.70" width="14.17" height="15.5" fill="#555555"/><rect x="978.26" y="1457.20" width="128.48" height="15.5" fill="#555555"/><rect x="1105.74" y="1457.20" width="411.77" height="15.5" fill="#888888"/><rect x="1516.51" y="1457.20" width="85.99" height="15.5" fill="#555555"/><rect x="1601.49" y="1457.20" width="57.66" height="15.5" fill="#888888"/><rect x="1658.15" y="1457.20" width="15.16" height="15.5" fill="#555555"/><rect x="1672.32" y="1457.20" width="29.33" height="15.5" fill="#888888"/><rect x="1700.65" y="1457.20" width="14.16" height="15.5" fill="#555555"/><rect x="978.38" y="1471.70" width="114.30" height="15.5" fill="#555555"/><rect x="1091.68" y="1471.70" width="397.55" height="15.5" fill="#888888"/><rect x="1488.23" y="1471.70" width="15.16" height="15.5" fill="#555555"/><rect x="1502.39" y="1471.70" width="15.16" height="15.5" fill="#888888"/><rect x="1516.56" y="1471.70" width="85.98" height="15.5" fill="#555555"/><rect x="1601.53" y="1471.70" width="100.14" height="15.5" fill="#888888"/><rect x="1700.67" y="1471.70" width="14.16" height="15.5" fill="#555555"/><rect x="978.50" y="1486.20" width="170.93" height="15.5" fill="#555555"/><rect x="1148.43" y="1486.20" width="128.45" height="15.5" fill="#888888"/><rect x="1275.88" y="1486.20" width="15.16" height="15.5" fill="#555555"/><rect x="1290.04" y="1486.20" width="43.48" height="15.5" fill="#888888"/><rect x="1332.52" y="1486.20" width="15.16" height="15.5" fill="#555555"/><rect x="1346.68" y="1486.20" width="43.48" height="15.5" fill="#888888"/><rect x="1389.16" y="1486.20" width="15.16" height="15.5" fill="#555555"/><rect x="1403.32" y="1486.20" width="85.96" height="15.5" fill="#888888"/><rect x="1488.28" y="1486.20" width="114.28" height="15.5" fill="#555555"/><rect x="1601.57" y="1486.20" width="85.96" height="15.5" fill="#888888"/><rect x="1686.53" y="1486.20" width="28.32" height="15.5" fill="#555555"/><rect x="978.63" y="1500.70" width="170.90" height="15.5" fill="#555555"/><rect x="1148.53" y="1500.70" width="57.63" height="15.5" fill="#888888"/><rect x="1205.16" y="1500.70" width="15.16" height="15.5" fill="#555555"/><rect x="1219.32" y="1500.70" width="29.32" height="15.5" fill="#888888"/><rect x="1247.64" y="1500.70" width="43.48" height="15.5" fill="#555555"/><rect x="1290.12" y="1500.70" width="100.11" height="15.5" fill="#888888"/><rect x="1389.23" y="1500.70" width="29.32" height="15.5" fill="#555555"/><rect x="1417.54" y="1500.70" width="29.32" height="15.5" fill="#888888"/><rect x="1445.86" y="1500.70" width="15.16" height="15.5" fill="#555555"/><rect x="1460.02" y="1500.70" width="15.16" height="15.5" fill="#888888"/><rect x="1474.18" y="1500.70" width="128.43" height="15.5" fill="#555555"/><rect x="1601.61" y="1500.70" width="85.95" height="15.5" fill="#888888"/><rect x="1686.56" y="1500.70" width="28.32" height="15.5" fill="#555555"/><rect x="978.75" y="1515.20" width="185.04" height="15.5" fill="#555555"/><rect x="1162.79" y="1515.20" width="29.31" height="15.5" fill="#888888"/><rect x="1191.10" y="1515.20" width="15.16" height="15.5" fill="#555555"/><rect x="1205.26" y="1515.20" width="29.31" height="15.5" fill="#888888"/><rect x="1233.57" y="1515.20" width="29.31" height="15.5" fill="#555555"/><rect x="1261.88" y="1515.20" width="57.63" height="15.5" fill="#888888"/><rect x="1318.51" y="1515.20" width="15.16" height="15.5" fill="#555555"/><rect x="1332.67" y="1515.20" width="43.47" height="15.5" fill="#888888"/><rect x="1375.14" y="1515.20" width="43.47" height="15.5" fill="#555555"/><rect x="1417.61" y="1515.20" width="15.16" height="15.5" fill="#888888"/><rect x="1431.76" y="1515.20" width="29.31" height="15.5" fill="#555555"/><rect x="1460.08" y="1515.20" width="29.31" height="15.5" fill="#888888"/><rect x="1488.39" y="1515.20" width="100.10" height="15.5" fill="#555555"/><rect x="1587.49" y="1515.20" width="85.94" height="15.5" fill="#888888"/><rect x="1672.43" y="1515.20" width="15.16" height="15.5" fill="#555555"/><rect x="1686.58" y="1515.20" width="15.16" height="15.5" fill="#888888"/><rect x="1700.74" y="1515.20" width="14.16" height="15.5" fill="#555555"/><rect x="978.87" y="1529.70" width="185.01" height="15.5" fill="#555555"/><rect x="1162.88" y="1529.70" width="15.15" height="15.5" fill="#888888"/><rect x="1177.04" y="1529.70" width="29.31" height="15.5" fill="#555555"/><rect x="1205.35" y="1529.70" width="29.31" height="15.5" fill="#888888"/><rect x="1233.66" y="1529.70" width="43.46" height="15.5" fill="#555555"/><rect x="1276.12" y="1529.70" width="15.15" height="15.5" fill="#888888"/><rect x="1290.28" y="1529.70" width="15.15" height="15.5" fill="#555555"/><rect x="1304.43" y="1529.70" width="15.15" height="15.5" fill="#888888"/><rect x="1318.59" y="1529.70" width="29.31" height="15.5" fill="#555555"/><rect x="1346.90" y="1529.70" width="29.31" height="15.5" fill="#888888"/><rect x="1375.21" y="1529.70" width="213.32" height="15.5" fill="#555555"/><rect x="1587.53" y="1529.70" width="85.93" height="15.5" fill="#888888"/><rect x="1672.45" y="1529.70" width="42.46" height="15.5" fill="#555555"/><rect x="979.00" y="1544.20" width="312.36" height="15.5" fill="#555555"/><rect x="1290.36" y="1544.20" width="57.61" height="15.5" fill="#888888"/><rect x="1346.97" y="1544.20" width="15.15" height="15.5" fill="#555555"/><rect x="1361.12" y="1544.20" width="29.31" height="15.5" fill="#888888"/><rect x="1389.43" y="1544.20" width="213.29" height="15.5" fill="#555555"/><rect x="1601.72" y="1544.20" width="71.76" height="15.5" fill="#888888"/><rect x="1672.48" y="1544.20" width="29.31" height="15.5" fill="#555555"/><rect x="1700.79" y="1544.20" width="14.15" height="15.5" fill="#888888"/><rect x="979.12" y="1558.70" width="312.32" height="15.5" fill="#555555"/><rect x="1290.44" y="1558.70" width="57.60" height="15.5" fill="#888888"/><rect x="1347.04" y="1558.70" width="15.15" height="15.5" fill="#555555"/><rect x="1361.19" y="1558.70" width="29.30" height="15.5" fill="#888888"/><rect x="1389.49" y="1558.70" width="15.15" height="15.5" fill="#555555"/><rect x="1403.64" y="1558.70" width="29.30" height="15.5" fill="#888888"/><rect x="1431.95" y="1558.70" width="29.30" height="15.5" fill="#555555"/><rect x="1460.25" y="1558.70" width="15.15" height="15.5" fill="#888888"/><rect x="1474.40" y="1558.70" width="15.15" height="15.5" fill="#555555"/><rect x="1488.55" y="1558.70" width="15.15" height="15.5" fill="#888888"/><rect x="1502.70" y="1558.70" width="29.30" height="15.5" fill="#555555"/><rect x="1531.00" y="1558.70" width="43.45" height="15.5" fill="#888888"/><rect x="1573.45" y="1558.70" width="29.30" height="15.5" fill="#555555"/><rect x="1601.76" y="1558.70" width="43.45" height="15.5" fill="#888888"/><rect x="1644.21" y="1558.70" width="57.60" height="15.5" fill="#555555"/><rect x="1700.81" y="1558.70" width="14.15" height="15.5" fill="#888888"/><rect x="979.24" y="1573.20" width="114.19" height="15.5" fill="#555555"/><rect x="1092.43" y="1573.20" width="15.15" height="15.5" fill="#888888"/><rect x="1106.58" y="1573.20" width="184.93" height="15.5" fill="#555555"/><rect x="1290.52" y="1573.20" width="71.74" height="15.5" fill="#888888"/><rect x="1361.26" y="1573.20" width="29.30" height="15.5" fill="#555555"/><rect x="1389.56" y="1573.20" width="57.60" height="15.5" fill="#888888"/><rect x="1446.16" y="1573.20" width="43.45" height="15.5" fill="#555555"/><rect x="1488.60" y="1573.20" width="85.89" height="15.5" fill="#888888"/><rect x="1573.49" y="1573.20" width="15.15" height="15.5" fill="#555555"/><rect x="1587.64" y="1573.20" width="43.45" height="15.5" fill="#888888"/><rect x="1630.09" y="1573.20" width="57.60" height="15.5" fill="#555555"/><rect x="1686.69" y="1573.20" width="28.30" height="15.5" fill="#888888"/><rect x="979.37" y="1587.70" width="354.67" height="15.5" fill="#555555"/><rect x="1333.04" y="1587.70" width="29.29" height="15.5" fill="#888888"/><rect x="1361.33" y="1587.70" width="43.44" height="15.5" fill="#555555"/><rect x="1403.77" y="1587.70" width="29.29" height="15.5" fill="#888888"/><rect x="1432.07" y="1587.70" width="57.59" height="15.5" fill="#555555"/><rect x="1488.65" y="1587.70" width="15.15" height="15.5" fill="#888888"/><rect x="1502.80" y="1587.70" width="29.29" height="15.5" fill="#555555"/><rect x="1531.10" y="1587.70" width="29.29" height="15.5" fill="#888888"/><rect x="1559.39" y="1587.70" width="29.29" height="15.5" fill="#555555"/><rect x="1587.68" y="1587.70" width="15.15" height="15.5" fill="#888888"/><rect x="1601.83" y="1587.70" width="85.88" height="15.5" fill="#555555"/><rect x="1686.71" y="1587.70" width="28.29" height="15.5" fill="#888888"/><rect x="979.49" y="1602.20" width="15.14" height="15.5" fill="#888888"/><rect x="993.64" y="1602.20" width="43.43" height="15.5" fill="#555555"/><rect x="1036.07" y="1602.20" width="29.29" height="15.5" fill="#888888"/><rect x="1064.36" y="1602.20" width="354.62" height="15.5" fill="#555555"/><rect x="1417.98" y="1602.20" width="15.14" height="15.5" fill="#888888"/><rect x="1432.13" y="1602.20" width="29.29" height="15.5" fill="#555555"/><rect x="1460.42" y="1602.20" width="43.43" height="15.5" fill="#888888"/><rect x="1502.85" y="1602.20" width="29.29" height="15.5" fill="#555555"/><rect x="1531.14" y="1602.20" width="29.29" height="15.5" fill="#888888"/><rect x="1559.43" y="1602.20" width="114.16" height="15.5" fill="#555555"/><rect x="1672.59" y="1602.20" width="42.43" height="15.5" fill="#888888"/><rect x="979.61" y="1616.70" width="15.14" height="15.5" fill="#888888"/><rect x="993.76" y="1616.70" width="255.57" height="15.5" fill="#555555"/><rect x="1248.33" y="1616.70" width="15.14" height="15.5" fill="#888888"/><rect x="1262.47" y="1616.70" width="15.14" height="15.5" fill="#555555"/><rect x="1276.62" y="1616.70" width="15.14" height="15.5" fill="#888888"/><rect x="1290.76" y="1616.70" width="71.71" height="15.5" fill="#555555"/><rect x="1361.47" y="1616.70" width="29.29" height="15.5" fill="#888888"/><rect x="1389.76" y="1616.70" width="29.29" height="15.5" fill="#555555"/><rect x="1418.05" y="1616.70" width="71.71" height="15.5" fill="#888888"/><rect x="1488.76" y="1616.70" width="29.29" height="15.5" fill="#555555"/><rect x="1517.05" y="1616.70" width="43.43" height="15.5" fill="#888888"/><rect x="1559.48" y="1616.70" width="114.14" height="15.5" fill="#555555"/><rect x="1672.62" y="1616.70" width="42.43" height="15.5" fill="#888888"/><rect x="979.74" y="1631.20" width="57.56" height="14.5" fill="#888888"/><rect x="1036.30" y="1631.20" width="57.56" height="14.5" fill="#555555"/><rect x="1092.87" y="1631.20" width="57.56" height="14.5" fill="#888888"/><rect x="1149.43" y="1631.20" width="85.85" height="14.5" fill="#555555"/><rect x="1234.28" y="1631.20" width="29.28" height="14.5" fill="#888888"/><rect x="1262.56" y="1631.20" width="15.14" height="14.5" fill="#555555"/><rect x="1276.70" y="1631.20" width="43.42" height="14.5" fill="#888888"/><rect x="1319.12" y="1631.20" width="15.14" height="14.5" fill="#555555"/><rect x="1333.26" y="1631.20" width="114.13" height="14.5" fill="#888888"/><rect x="1446.39" y="1631.20" width="15.14" height="14.5" fill="#555555"/><rect x="1460.53" y="1631.20" width="29.28" height="14.5" fill="#888888"/><rect x="1488.81" y="1631.20" width="29.28" height="14.5" fill="#555555"/><rect x="1517.10" y="1631.20" width="29.28" height="14.5" fill="#888888"/><rect x="1545.38" y="1631.20" width="128.27" height="14.5" fill="#555555"/><rect x="1672.65" y="1631.20" width="42.42" height="14.5" fill="#888888"/></g></defs>
<text x="103.50" y="50.90" font-size="26" text-anchor="start" font-weight="normal" fill="#000" >GOES-19 BAND14-DIAS MESOSCALE</text>
<text x="103.50" y="80.90" font-size="26" text-anchor="start" font-weight="normal" fill="#000" >Time: 2025/10/26 07:44:56Z</text>
<text x="1706.30" y="38.60" font-size="17.3" text-anchor="end" font-weight="normal" fill="#000" >[dmax, dmin](BAND14)=(9.303, -84.023)</text>
<text x="1706.30" y="59.80" font-size="17.3" text-anchor="end" font-weight="normal" fill="#000" >[dmax, dmin](AWV)=(-35.311, -81.794)</text>
<text x="1706.30" y="80.30" font-size="17.3" text-anchor="end" font-weight="normal" fill="#000" >13L.MELISSA | 110kt, 954mb</text>
<rect x="103" y="100" width="731" height="731" fill="#000"/>
<g clip-path="url(#clipL)">
<use href="#imgL"/>
</g>
<rect x="430.8" y="429" width="73.2" height="72.5" fill="#ff0000" fill-opacity="0.42"/><g clip-path="url(#clipL)"><path d="M624.4 801.0 624.6 797.0 621.7 792.0 623.0 790.6 628.0 789.8 630.2 787.0 632.2 780.0 630.7 777.0 629.7 771.0 631.0 768.8 630.9 766.0 633.3 764.0 633.0 762.3 632.0 762.8 631.5 762.0 637.2 757.0 637.9 754.0 637.3 750.0 638.0 749.1 640.0 750.3 642.0 748.7 643.0 745.6 646.0 744.4 649.0 747.2 650.5 747.0 650.0 742.0 648.8 741.0 649.3 738.0 653.0 737.8 659.0 735.5 663.0 735.9 669.0 731.4 676.0 734.1 676.7 733.0 675.0 730.0 676.1 728.0 680.5 726.0 683.0 723.0 685.0 722.7 686.0 723.7 691.8 720.0 692.1 716.0 690.7 710.0 689.0 709.6 686.0 711.7 685.0 711.6 684.2 710.0 684.1 709.0 686.7 707.0 688.2 701.0 687.7 699.0 681.8 694.0 682.8 692.0 687.0 689.5 687.1 688.0 683.0 685.3 678.0 685.8 677.3 685.0 680.2 679.0 680.1 676.0 674.3 673.0 674.0 670.6 665.8 668.0 669.0 664.9 676.0 667.8 678.6 664.0 674.0 661.1 672.0 658.4 663.5 656.0 665.0 649.7 666.0 649.1 672.0 652.5 672.9 652.0 672.5 649.0 671.6 647.0 669.0 645.5 667.0 645.1 665.0 645.9 661.0 643.6 659.9 642.0 660.2 638.0 659.0 636.5 657.0 637.0 655.0 641.2 652.2 637.0 646.0 633.9 643.0 630.5 640.0 635.0 638.0 636.5 636.0 636.9 632.0 635.3 630.0 638.5 624.3 638.0 623.9 640.0 627.0 643.7 623.0 645.0 620.0 647.2 618.3 651.0 616.0 652.4 611.7 647.0 613.0 646.0 618.0 646.8 621.2 641.0 621.7 635.0 618.0 632.2 618.2 636.0 616.2 638.0 615.3 642.0 611.2 643.0 610.2 646.0 602.7 648.0 606.0 651.0 605.8 654.0 599.0 654.0 595.0 656.0 592.0 652.4 590.0 653.6 594.8 666.0 598.0 666.4 599.0 665.2 599.4 666.0 598.0 670.3 597.0 670.6 594.0 667.1 590.3 669.0 591.3 673.0 588.1 677.0 591.7 682.0 592.2 684.0 591.0 685.5 587.0 684.0 585.0 685.0 585.0 693.6 583.0 692.5 576.0 692.2 568.0 698.3 565.6 697.0 565.0 693.9 561.0 695.4 559.4 695.0 559.0 690.8 556.0 690.8 552.6 693.0 550.0 693.1 546.0 691.3 544.0 688.9 543.0 689.0 541.8 691.0 543.2 695.0 541.0 696.2 537.0 691.5 532.0 692.2 530.0 691.0 527.3 682.0 524.3 680.0 524.4 676.0 522.5 666.0 526.5 656.0 521.9 650.0 523.0 648.5 529.8 647.0 527.0 642.2 524.0 641.4 523.4 638.0 527.0 637.8 532.3 635.0 530.8 631.0 533.0 626.5 534.0 625.5 537.0 627.0 538.0 626.2 537.9 623.0 540.0 620.7 545.0 621.3 547.4 620.0 548.2 617.0 547.8 614.0 552.0 610.0 548.7 606.0 547.0 601.5 545.8 601.0 546.9 599.0 551.0 597.9 552.2 596.0 550.3 592.0 548.0 590.6 546.7 592.0 545.2 600.0 544.1 600.0 543.1 597.0 541.1 596.0 543.2 592.0 540.2 589.0 541.3 585.0 539.9 582.0 536.0 578.8 528.0 576.3 523.0 572.1 521.0 571.8 519.5 576.0 514.0 578.2 511.0 575.8 509.0 575.5 506.8 578.0 510.0 580.1 514.0 579.3 517.0 580.6 527.0 578.0 536.2 590.0 537.0 595.0 539.9 598.0 539.6 604.0 534.7 610.0 534.7 614.0 532.0 617.1 526.0 618.3 519.0 622.6 514.0 619.5 505.0 623.3 498.0 621.3 491.0 625.6 489.0 623.6 483.0 623.8 480.8 625.0 478.0 629.0 474.0 627.2 471.0 627.3 465.7 629.0 460.0 633.7 455.0 632.2 451.0 632.3 447.0 636.7 445.0 637.4 440.0 635.5 433.0 639.1 427.0 636.3 426.1 637.0 427.0 640.1 412.0 642.2 398.0 646.8 396.0 649.0 387.0 647.3 382.0 650.4 380.0 650.7 378.0 650.0 376.0 647.9 374.0 649.1 369.0 649.1 366.0 650.4 362.0 648.7 358.0 650.7 350.0 650.9 343.0 649.8 335.0 651.4 329.0 650.3 325.0 647.8 315.0 645.4 312.0 646.5 307.1 646.0 304.0 643.4 299.0 645.0 297.7 644.0 297.2 641.0 295.0 639.8 289.0 642.0 284.0 636.5 280.0 636.9 278.0 636.2 275.0 632.6 266.0 631.2 263.0 627.7 254.6 625.0 251.2 622.0 249.4 618.0 241.6 613.0 238.3 608.0 238.3 605.0 236.8 602.0 230.6 598.0 229.7 596.0 230.3 593.0 226.4 590.0 225.7 587.0 226.0 580.2 221.8 578.0 223.7 574.0 223.0 572.3 220.5 571.0 222.1 553.0 224.2 546.0 226.7 542.0 227.1 535.0 229.4 530.0 227.3 525.0 229.7 522.0 228.4 518.0 230.4 511.0 229.1 503.0 226.0 497.0 225.5 486.0 226.2 482.0 221.0 472.7 221.1 464.0 216.4 461.0 214.4 452.0 214.4 449.0 215.8 446.0 215.3 434.0 218.4 427.0 218.3 420.0 216.0 414.0 219.7 412.0 219.3 408.0 221.1 403.0 220.3 388.0 221.3 384.0 223.4 381.0 222.2 376.0 225.4 373.0 226.0 365.0 229.3 361.0 228.3 351.0 232.8 338.0 235.4 335.0 234.0 330.0 234.9 320.0 240.2 306.0 239.0 303.5 236.0 300.6 232.0 298.4 229.4 298.0 226.0 294.8 217.0 295.7 213.0 292.5 207.6 291.0 207.0 287.5 203.5 286.0 202.1 284.0 202.4 281.0 200.5 276.0 200.8 268.0 203.0 266.5 207.0 265.9 209.1 264.0 210.2 262.0 209.4 259.0 210.7 258.0 221.0 255.5 224.0 252.5 225.6 253.0 225.5 254.0 222.7 256.0 222.5 258.0 225.0 260.3 232.0 254.6 234.0 254.2 239.0 256.3 244.0 256.6 250.0 259.5 252.0 262.8 256.0 266.1 261.9 266.0 264.0 262.9 266.9 262.0 266.4 258.0 267.7 255.0 267.3 252.0 271.9 247.0 272.0 242.9 276.8 240.0 277.3 237.0 279.4 234.0 279.6 230.0 283.0 227.0 283.9 223.0 287.1 223.0 289.3 211.0 293.8 208.0 295.5 203.0 297.0 201.3 300.6 200.0 303.0 196.2 306.0 196.7 307.1 195.0 308.5 189.0 310.9 184.0 310.5 180.0 308.2 176.0 308.1 172.0 312.0 167.0 313.2 161.0 310.8 159.0 315.9 154.0 315.4 151.0 323.0 147.3 325.0 139.7 329.0 139.5 331.8 135.0 337.9 132.0 336.8 127.0 340.3 124.0 343.0 120.0 347.0 119.2 351.0 120.9 352.7 120.0 353.4 119.0 352.6 117.0 355.5 109.0 359.0 106.7 361.0 108.5 362.9 108.0 363.3 105.0 367.0 102.4 372.3 96.0M532.8 96.0 532.8 99.0 527.0 100.3 523.4 103.0 520.8 110.0 519.0 110.3 517.0 108.1 515.0 108.3 508.0 115.7 505.0 116.3 504.0 115.3 503.0 117.2 488.0 126.0 483.0 127.2 477.1 126.0 476.2 131.0 475.0 132.4 471.0 133.6 467.0 133.3 464.7 137.0 461.0 140.0 457.0 141.8 454.0 141.1 451.2 144.0 445.9 147.0 443.0 152.5 437.7 153.0 433.0 158.5 428.0 161.5 420.9 164.0 418.8 166.0 417.7 171.0 415.5 175.0 414.0 175.9 410.0 175.5 405.0 180.0 404.0 181.4 403.6 185.0 400.2 188.0 396.0 194.8 395.0 195.4 390.9 194.0 389.7 199.0 384.9 203.0 382.0 203.2 377.0 208.4 372.9 210.0 371.8 214.0 362.0 216.0 361.9 220.0 361.0 220.9 344.9 215.0 345.0 218.0 343.9 220.0 337.0 222.9 332.7 226.0 331.1 231.0 322.8 237.0 321.0 244.7 316.9 247.0 315.4 251.0 309.2 260.0 309.0 268.5 306.0 270.7 305.0 269.7 305.7 271.0 304.0 273.0 299.8 274.0 299.9 276.0 302.3 279.0 301.8 281.0 295.6 290.0 291.1 302.0 285.0 308.7 280.2 312.0 280.6 321.0 277.0 325.0 279.4 328.0 279.7 332.0 276.3 336.0 276.2 340.0 274.4 345.0 270.0 351.1 268.1 357.0 270.3 361.0 268.6 367.0 269.2 372.0 265.0 375.5 264.9 389.0 262.9 395.0 262.6 399.0 259.6 404.0 262.5 409.0 262.4 411.0 256.7 420.0 260.5 425.0 257.9 430.0 258.7 435.0 257.4 438.0 257.0 444.0 257.8 446.0 256.7 449.0 260.0 459.4 263.0 460.4 263.8 462.0 262.5 465.0 263.6 470.0 263.2 473.0 264.2 475.0 263.7 479.0 267.7 481.0 268.6 485.0 268.3 489.0 270.5 493.0 269.4 497.0 270.0 502.0 269.2 505.0 270.2 510.0 267.6 514.0 270.2 518.0 269.1 522.0 271.6 529.0 268.9 536.0 270.5 539.0 268.2 543.0 267.4 554.0 266.4 556.0 263.8 558.0 264.8 565.0 263.1 569.0 264.8 574.0 267.0 576.1 269.0 580.5 273.4 583.0 276.0 587.1 281.0 589.6 285.0 595.8 290.0 595.2 294.0 597.8 307.0 601.7 310.0 605.5 314.0 602.8 316.0 602.9 323.0 608.6 329.0 609.2 335.0 606.2 337.0 606.1 341.0 608.8 352.0 606.8 359.0 609.4 362.5 609.0 365.0 606.0 367.0 607.0 367.1 609.0 371.0 610.3 373.2 609.0 373.5 606.0 375.0 604.9 381.0 604.2 386.0 605.8 391.0 603.7 402.0 603.7 407.0 598.7 410.0 600.4 412.0 600.3 419.0 596.9 426.0 596.1 429.0 593.9 433.0 595.1 435.0 593.5 440.0 595.0 442.7 593.0 446.0 587.7 448.0 587.3 451.0 588.6 453.0 587.9 453.0 581.9 448.0 582.1 446.0 584.3 444.0 584.9 437.0 583.6 436.2 584.0 437.0 585.6 436.0 586.4 434.0 585.0 419.0 581.9 416.0 583.5 408.0 581.7 406.0 584.6 403.8 583.0 402.0 578.0 398.0 578.2 396.9 577.0 396.7 575.0 400.1 572.0 400.8 570.0 391.3 565.0 391.2 560.0 389.1 558.0 382.0 558.8 380.0 558.1 380.0 555.6 384.0 552.7 384.3 551.0 376.0 548.4 374.5 545.0 375.8 538.0 378.1 537.0 378.5 535.0 374.0 527.6 372.8 527.0 373.3 521.0 369.0 518.9 368.7 515.0 369.6 511.0 364.8 505.0 366.8 501.0 362.7 498.0 363.8 489.0 363.0 485.0 364.1 482.0 361.0 479.6 362.0 473.1 359.0 471.5 358.1 470.0 361.0 465.0 359.0 459.4 356.5 456.0 356.1 453.0 358.9 448.0 359.2 444.0 356.2 440.0 355.9 431.0 357.8 425.0 356.9 419.0 359.4 415.0 358.2 411.0 365.4 403.0 365.2 402.0 361.0 400.4 360.2 399.0 363.1 394.0 363.0 389.0 365.5 386.0 365.0 383.5 362.9 381.0 366.1 379.0 366.2 374.0 364.5 370.0 367.9 361.0 366.7 358.0 370.0 357.2 369.8 354.0 371.0 352.0 376.0 350.3 380.1 347.0 380.7 344.0 383.1 343.0 385.0 338.7 387.0 338.1 391.0 339.0 396.0 336.8 399.0 336.8 400.1 334.0 404.0 331.0 405.0 331.0 407.0 333.8 409.0 334.2 411.2 333.0 413.1 330.0 418.0 327.2 420.0 327.7 421.7 330.0 425.0 330.6 430.0 327.3 432.0 323.3 436.0 323.0 439.0 325.0 443.4 322.0 441.4 317.0 443.0 315.0 447.0 315.4 452.0 313.9 457.0 310.9 460.0 307.3 462.0 306.6 466.0 307.9 469.0 307.4 473.0 308.4 480.1 305.0 483.9 300.0 487.0 299.7 490.0 297.6 494.0 296.9 500.0 297.9 502.0 297.2 504.0 295.0 502.1 292.0 503.0 291.0 505.0 290.8 507.0 293.4 512.0 291.6 517.7 293.0 518.2 292.0 516.5 289.0 517.0 284.5 518.0 283.4 521.0 286.4 526.0 285.0 529.0 286.7 529.9 283.0 532.7 279.0 532.0 277.6 527.4 276.0 527.3 274.0 529.0 272.9 534.0 272.5 536.1 269.0 538.0 268.1 541.0 268.7 551.0 273.9 550.9 271.0 552.0 269.5 556.0 270.8 557.1 270.0 558.0 263.8 566.0 264.6 574.0 264.3 578.0 260.9 580.0 261.6 582.0 264.4 592.0 268.7 592.9 274.0 595.0 275.2 597.0 275.4 597.8 272.0 601.6 267.0 604.0 267.1 605.2 269.0 605.0 271.5 601.4 277.0 603.3 282.0 607.0 284.9 613.0 283.4 615.0 284.1 622.0 288.2 625.0 286.8 629.0 288.2 632.0 286.7 634.6 287.0 635.1 286.0 634.1 284.0 637.0 281.9 644.0 289.8 646.0 290.3 648.8 289.0 648.9 286.0 651.6 281.0 655.0 279.6 655.8 281.0 655.1 282.0 655.5 284.0 659.0 288.8 660.2 288.0 659.3 284.0 659.9 278.0 662.0 276.4 667.0 276.1 669.0 276.8 670.0 279.7 673.0 280.4 672.8 285.0 674.0 286.0 677.0 285.1 682.0 280.6 691.0 285.5 694.0 283.7 697.0 283.7 699.0 281.7 702.0 281.5 703.5 283.0 702.0 284.4 697.0 284.1 696.0 285.0 698.5 289.0 701.0 290.0 708.7 281.0 706.8 278.0 708.0 276.7 710.1 279.0 709.3 281.0 714.3 283.0 710.7 291.0 713.0 293.1 714.7 292.0 717.0 287.8 718.1 288.0 720.0 290.8 722.0 291.0 723.1 289.0 723.0 285.6 728.0 281.4 729.0 281.7 730.0 284.4 733.0 284.6 737.0 286.8 739.1 286.0 741.0 282.8 744.0 282.6 746.1 284.0 748.0 288.2 750.0 288.0 754.2 283.0 751.5 277.0 753.0 276.1 757.0 278.0 763.0 271.1 765.5 275.0 764.4 279.0 765.0 280.4 770.0 281.5 774.0 280.5 776.0 284.1 781.0 287.6 782.0 287.4 784.0 285.0 781.0 281.3 780.7 279.0 782.0 276.7 784.0 276.6 787.0 281.5 790.0 281.9 791.4 283.0 792.0 290.0 798.0 293.2 799.7 292.0 799.5 291.0 795.3 285.0 797.0 282.1 798.0 281.5 804.0 283.0 808.0 280.6 816.0 278.7 818.0 278.8 818.6 280.0 817.4 282.0 814.0 282.9 812.0 286.5 809.0 286.5 807.5 289.0 804.5 290.0 804.3 291.0 806.0 291.6 809.0 289.4 814.9 295.0 818.0 295.6 821.1 293.0 818.4 288.0 819.1 286.0 821.0 285.6 826.0 288.0 827.0 291.0 829.2 293.0 832.0 293.2 831.7 287.0 828.3 284.0 833.0 277.9 834.3 278.0 834.6 279.0 834.0 287.0 835.0 288.1M675.0 279.3 674.0 279.4 672.5 273.0 675.0 270.6 676.1 271.0 676.8 273.0 676.7 278.0 675.0 279.3M805.0 277.5 803.0 277.6 800.3 276.0 799.3 274.0 800.0 272.5 802.0 272.3 804.0 274.0 805.0 277.5M768.7 292.0 771.4 288.0 771.2 285.0 770.0 284.0 768.3 285.0 768.9 289.0 765.3 291.0 766.0 292.3 768.7 292.0M664.6 381.0 664.0 378.9 660.0 374.7 654.6 374.0 654.9 376.0 660.2 381.0 663.0 381.9 664.6 381.0M660.6 479.0 661.7 476.0 658.3 474.0 656.2 471.0 658.0 469.8 664.0 470.4 665.7 469.0 667.0 465.8 671.1 467.0 675.0 474.3 677.0 473.0 679.1 469.0 678.7 467.0 675.0 466.0 674.4 465.0 676.0 459.9 674.0 460.3 673.2 458.0 675.0 457.6 676.0 458.7 678.0 457.7 679.7 453.0 683.0 451.6 685.3 449.0 686.0 447.0 681.5 444.0 682.0 441.9 688.0 442.5 691.0 441.0 692.3 439.0 689.0 437.4 688.2 436.0 688.4 433.0 690.5 430.0 688.0 424.6 678.6 422.0 678.1 421.0 678.9 419.0 676.5 416.0 677.0 413.9 681.8 411.0 682.1 409.0 680.7 405.0 684.8 401.0 682.0 398.2 677.6 398.0 676.5 397.0 677.1 395.0 680.0 393.6 684.0 394.3 685.5 393.0 685.6 391.0 683.3 389.0 682.4 383.0 681.0 382.6 679.3 384.0 679.9 388.0 679.0 389.0 671.0 388.4 669.0 391.0 669.4 392.0 667.2 394.0 661.0 395.3 660.0 394.0 663.7 388.0 663.4 386.0 659.0 384.7 656.0 381.4 653.0 381.2 649.0 377.2 647.0 378.9 644.2 386.0 644.0 390.0 643.0 390.8 641.0 390.1 638.6 391.0 639.0 392.6 643.7 396.0 646.0 403.7 648.0 406.0 649.3 420.0 648.6 421.0 644.0 422.5 642.2 427.0 639.0 428.0 638.3 430.0 640.0 435.0 638.8 438.0 636.0 441.0 637.0 442.0 640.0 438.6 643.0 439.3 647.0 438.6 649.0 439.6 649.8 442.0 648.0 444.2 644.0 442.9 642.0 443.9 642.1 451.0 637.8 454.0 636.9 456.0 638.0 458.4 640.3 460.0 638.4 463.0 640.0 464.5 641.0 464.5 642.0 461.4 646.0 462.2 650.2 461.0 648.9 466.0 647.0 467.7 643.3 469.0 644.0 474.0 648.0 474.2 650.0 471.2 651.0 471.3 652.9 473.0 652.3 475.0 656.0 475.9 659.0 479.2 660.6 479.0M659.0 402.0 656.8 400.0 658.0 396.4 660.0 395.4 661.0 400.2 659.0 402.0M690.6 405.0 691.9 403.0 690.0 399.8 687.0 399.6 685.1 401.0 688.0 405.0 690.6 405.0M645.3 415.0 646.1 414.0 645.5 409.0 644.0 406.1 643.0 406.3 641.3 409.0 642.0 413.0 644.0 415.7 645.3 415.0M675.0 439.2 671.5 436.0 673.0 430.3 675.0 427.3 680.9 428.0 684.6 432.0 684.9 434.0 679.0 434.7 675.0 439.2M665.0 459.5 663.0 459.0 661.9 457.0 662.9 451.0 660.8 449.0 655.0 446.2 655.0 443.8 665.4 443.0 665.6 448.0 667.3 452.0 665.8 455.0 666.3 458.0 665.0 459.5M387.0 568.3 384.6 568.0 381.1 564.0 384.0 563.4 387.0 564.4 388.4 566.0 387.0 568.3M493.1 581.0 495.0 579.7 498.0 579.9 500.4 578.0 501.2 576.0 500.0 574.0 498.0 573.4 494.0 577.5 489.0 578.7 490.0 581.0 493.1 581.0M470.5 584.0 475.0 581.5 474.5 579.0 473.0 578.2 468.9 579.0 464.8 581.0 463.4 583.0 465.0 584.0 470.5 584.0M774.1 736.0 775.9 733.0 776.4 729.0 779.0 727.7 781.2 729.0 783.0 735.1 785.0 735.9 786.7 735.0 785.0 730.1 782.2 728.0 779.4 722.0 779.5 721.0 783.6 717.0 782.3 712.0 782.9 710.0 775.3 701.0 775.5 698.0 773.5 693.0 770.4 690.0 770.8 685.0 769.3 683.0 771.2 681.0 770.5 675.0 764.0 674.7 763.0 665.6 761.0 663.4 759.0 663.0 756.0 665.0 756.0 666.0 758.7 669.0 758.5 671.0 757.0 672.5 753.3 670.0 753.5 666.0 752.0 664.6 750.0 664.5 748.0 665.6 743.6 671.0 746.4 677.0 744.9 680.0 745.3 683.0 744.0 687.4 743.0 688.7 738.0 690.7 735.8 693.0 737.0 696.0 742.0 696.1 743.0 697.0 739.0 699.3 734.0 697.8 731.7 700.0 733.9 703.0 734.4 706.0 737.5 709.0 736.1 714.0 744.0 723.0 744.8 725.0 742.9 729.0 744.0 731.9 749.0 732.2 754.0 734.4 755.6 734.0 756.7 731.0 758.0 730.2 768.0 729.9 771.3 733.0 773.0 736.1 774.1 736.0M675.0 693.4 673.6 693.0 673.1 689.0 675.6 686.0 677.0 685.8 676.6 691.0 675.0 693.4M487.0 718.3 484.4 716.0 482.2 711.0 487.0 710.3 488.3 711.0 489.5 715.0 487.0 718.3M482.0 723.6 476.0 724.0 468.1 719.0 469.0 713.3 473.9 715.0 477.0 720.5 481.0 720.0 482.7 721.0 483.0 722.9 482.0 723.6M835.0 746.0 830.0 746.4 825.0 748.5 823.1 747.0 820.2 741.0 819.0 740.4 816.9 742.0 818.1 744.0 817.0 745.8 811.0 744.7 809.0 746.0 808.0 751.1 801.0 748.3 799.0 751.1 794.0 751.0 791.7 758.0 794.6 763.0 797.2 765.0 797.6 767.0 795.0 765.4 791.8 767.0 790.4 769.0 792.0 775.5 787.0 776.0 786.6 777.0 787.8 781.0 790.8 785.0 790.5 793.0 783.0 796.8 781.8 796.0 781.0 792.6 779.0 792.2 778.5 794.0 780.0 797.0 779.9 799.0 782.1 801.0M647.1 761.0 647.1 759.0 644.0 753.8 643.3 755.0 643.8 758.0 647.1 761.0" stroke="#fde725" stroke-width="2.1" fill="none" stroke-linejoin="round"/><path d="M525.5 96.0 524.0 97.5 517.4 100.0 514.0 103.2 510.0 103.8 506.0 106.5 503.0 107.0 499.0 112.3 495.0 112.2 490.0 108.6 488.0 108.8 487.4 114.0 486.0 116.3 480.0 119.2 477.0 122.2 473.0 123.7 470.4 129.0 464.0 129.3 460.0 132.0 457.0 130.6 455.0 131.3 451.5 135.0 449.4 140.0 444.8 140.0 442.0 143.5 438.1 146.0 437.5 149.0 428.7 153.0 426.0 157.2 424.0 156.5 422.0 154.1 420.0 153.8 419.4 156.0 421.1 160.0 420.2 161.0 413.5 164.0 411.1 168.0 403.2 172.0 402.1 177.0 397.0 180.8 392.0 179.4 389.7 180.0 390.0 183.0 394.6 188.0 386.0 190.1 383.0 195.8 379.0 196.9 377.0 200.7 373.0 202.0 372.0 204.0 372.3 206.0 371.1 207.0 367.0 208.5 362.0 207.3 359.0 210.3 353.0 213.0 349.0 212.5 346.0 209.5 342.0 209.9 337.0 208.1 335.7 210.0 337.0 214.3 334.0 213.7 332.0 214.0 331.5 215.0 333.5 218.0 333.2 219.0 327.0 219.6 323.0 223.0 321.0 219.0 318.0 216.1 317.0 216.5 318.7 222.0 321.1 225.0 322.3 232.0 320.0 234.1 317.0 234.8 313.0 232.8 311.0 233.6 309.0 239.0 309.0 246.9 307.0 247.2 305.0 246.0 303.4 247.0 306.7 257.0 303.0 261.6 297.9 265.0 299.8 268.0 295.9 275.0 294.4 280.0 295.4 284.0 293.0 284.8 291.7 287.0 287.0 291.0 284.0 291.4 282.2 293.0 281.0 296.0 283.2 301.0 280.0 303.1 279.0 307.4 277.0 309.2 274.0 308.2 271.5 309.0 272.0 314.3 276.8 316.0 277.3 317.0 273.2 322.0 270.0 324.0 269.7 326.0 267.8 327.0 265.6 335.0 263.7 337.0 265.0 338.9 268.0 338.9 268.3 341.0 267.0 340.8 266.0 339.2 263.2 344.0 264.0 347.0 263.6 351.0 261.6 353.0 263.2 356.0 262.9 358.0 261.0 360.5 257.0 359.9 254.3 356.0 252.0 355.1 249.0 356.2 246.9 359.0 247.4 361.0 255.0 361.6 256.6 363.0 258.6 370.0 256.7 373.0 259.2 374.0 257.2 382.0 260.5 387.0 256.8 396.0 256.3 407.0 254.1 410.0 254.0 413.0 253.0 414.0 254.0 416.0 252.2 424.0 248.6 429.0 245.0 428.5 243.3 430.0 243.0 432.0 246.2 436.0 245.9 437.0 239.0 438.4 231.0 434.0 229.9 435.0 231.2 439.0 236.5 440.0 235.9 446.0 237.0 447.5 242.0 446.8 247.0 441.8 248.6 443.0 248.5 447.0 245.6 453.0 248.0 455.4 253.0 456.5 255.0 459.1 255.7 461.0 254.9 467.0 255.9 471.0 255.7 476.0 259.0 482.6 263.2 486.0 263.9 494.0 261.8 496.0 261.4 500.0 262.0 501.2 264.3 502.0 265.8 508.0 264.2 513.0 264.3 517.0 261.0 518.7 257.0 518.3 254.5 522.0 250.5 524.0 251.3 526.0 253.0 526.3 259.0 523.7 261.0 527.7 262.0 527.9 265.0 525.5 266.8 526.0 266.0 528.8 263.0 530.1 260.0 529.5 256.1 534.0 256.8 536.0 263.5 540.0 263.6 543.0 265.1 546.0 260.2 551.0 261.1 553.0 260.0 562.0 257.6 566.0 260.0 572.0 257.7 578.0 263.4 579.0 263.6 583.0 275.0 590.3 276.1 592.0 275.3 595.0 280.0 596.3 285.2 601.0 288.0 604.9 291.0 603.3 299.0 602.8 304.8 607.0 307.0 609.8 310.0 610.0 314.0 608.3 317.0 612.0 318.0 617.4 329.0 620.2 330.0 620.3 330.8 619.0 330.0 615.3 341.0 618.5 345.0 617.3 358.0 616.5 362.0 622.2 365.0 623.9 369.2 619.0 369.6 616.0 371.0 614.0 373.0 613.8 375.6 615.0 374.5 614.0 376.0 612.3 380.7 612.0 385.0 608.7 387.5 609.0 388.3 613.0 391.0 614.6 393.0 614.5 400.0 609.0 402.0 611.3 409.5 612.0 412.0 608.9 416.0 608.0 415.9 604.0 422.0 601.0 427.0 601.5 432.0 603.4 435.0 601.8 437.0 601.9 436.2 605.0 433.7 608.0 436.0 609.6 440.9 609.0 442.6 603.0 442.4 599.0 444.0 596.5 446.0 595.6 450.0 598.7 455.0 599.7 459.2 604.0 457.0 607.4 452.8 608.0 451.6 609.0 452.0 615.8 457.0 617.7 461.0 612.0 460.1 609.0 461.1 598.0 460.4 596.0 461.2 594.0 467.0 591.1 469.0 591.1 475.3 595.0 475.1 601.0 479.0 602.9 481.0 602.8 482.5 601.0 480.2 596.0 484.5 592.0 486.5 587.0 490.6 585.0 495.0 584.4 498.0 586.5 507.0 589.1 509.5 588.0 511.0 584.8 516.0 585.0 520.0 588.3 523.0 587.2 525.5 591.0 525.1 595.0 526.0 596.0 529.0 592.5 533.0 594.9 534.0 599.0 533.3 604.0 528.7 607.0 527.0 611.6 523.5 614.0 521.0 617.4 518.0 617.2 516.4 612.0 515.0 611.3 507.0 614.5 501.0 614.4 497.0 617.7 486.0 620.5 483.2 620.0 480.0 616.7 477.0 616.9 473.9 618.0 474.4 622.0 473.0 623.5 471.0 624.0 469.0 623.2 467.8 621.0 465.0 619.4 463.5 621.0 464.5 624.0 463.8 625.0 460.0 627.4 452.0 628.7 449.7 623.0 450.0 618.2 446.0 617.9 446.6 622.0 442.5 628.0 435.0 633.2 433.6 633.0 434.0 631.8 424.0 633.0 419.0 632.5 415.0 635.1 413.0 635.1 410.0 633.5 408.0 633.8 406.0 635.7 404.9 639.0 397.7 643.0 396.0 642.8 393.3 640.0 392.8 639.0 394.1 636.0 392.0 634.1 389.6 636.0 390.0 638.1 386.0 639.4 383.0 642.5 378.0 642.2 376.0 640.1 373.0 640.0 374.0 638.7 376.0 639.0 379.8 635.0 379.9 634.0 377.0 632.0 374.6 633.0 373.0 636.2 369.0 634.9 367.6 636.0 369.0 639.8 373.0 640.0 373.5 641.0 371.0 643.7 362.0 641.4 360.0 636.7 359.0 636.3 357.0 639.6 354.4 641.0 354.0 644.3 349.0 645.0 348.3 643.0 351.5 638.0 351.0 636.7 344.0 642.7 337.0 638.6 334.0 639.9 331.0 639.2 325.0 643.9 320.8 643.0 319.0 640.0 316.0 638.2 314.0 638.4 312.0 639.9 310.1 639.0 307.4 635.0 307.5 630.0 305.4 625.0 303.0 623.1 301.0 623.1 299.3 626.0 299.5 629.0 304.1 635.0 303.0 637.7 301.0 637.9 298.5 637.0 297.8 633.0 295.0 629.6 292.0 632.7 290.0 633.2 287.0 629.3 283.0 630.5 276.0 627.3 274.0 625.5 269.0 627.1 265.0 623.2 260.7 623.0 259.0 621.2 258.1 618.0 260.2 614.0 258.0 613.2 256.0 615.2 253.0 615.7 249.3 613.0 246.1 607.0 242.8 605.0 241.6 599.0 238.0 597.4 235.9 595.0 235.7 593.0 237.6 592.0 237.9 590.0 236.0 588.9 234.0 584.8 231.0 585.1 229.8 584.0 230.4 579.0 228.0 576.0 227.5 571.0 225.0 567.1 225.6 563.0 229.5 560.0 230.3 555.0 228.3 552.0 228.4 550.0 229.4 548.0 234.2 544.0 234.8 539.0 233.8 536.0 238.0 535.3 239.5 534.0 239.8 532.0 238.2 529.0 238.8 525.0 240.7 522.0 240.3 520.0 238.0 518.2 234.7 513.0 234.3 508.0 235.0 507.3 236.0 508.4 244.0 505.4 249.0 505.3 250.3 503.0 249.0 500.9 242.0 502.1 235.0 501.9 234.0 501.0 233.1 494.0 234.5 492.0 239.0 491.0 239.0 490.0 237.0 488.0 232.6 486.0 232.4 481.0 229.3 479.0 228.8 473.0 224.3 463.0 226.0 458.0 222.0 458.1 220.8 457.0 222.7 450.0 220.8 443.0 224.7 435.0 222.0 431.0 221.8 429.0 227.7 415.0 224.3 409.0 228.5 406.0 229.4 401.0 229.0 399.6 226.0 399.0 225.3 398.0 225.2 393.0 223.6 389.0 230.0 380.1 238.0 382.0 237.7 377.0 234.0 372.8 231.0 373.6 229.7 372.0 229.6 370.0 231.0 367.2 234.0 367.7 235.0 367.0 233.0 365.0 233.3 362.0 235.3 358.0 233.8 355.0 235.3 352.0 233.6 348.0 236.0 340.8 239.7 339.0 238.2 333.0 239.7 327.0 245.7 322.0 245.2 314.0 248.4 311.0 252.6 310.0 256.4 304.0 255.0 301.0 250.9 298.0 249.9 292.0 254.0 292.0 256.6 291.0 261.6 284.0 261.1 282.0 265.0 275.0 265.2 272.0 269.3 268.0 268.8 265.0 272.6 262.0 273.6 259.0 273.5 253.0 277.0 251.0 277.0 246.0 282.0 238.7 285.0 239.1 285.7 238.0 284.2 231.0 286.0 229.4 290.0 229.2 292.3 226.0 291.6 222.0 295.4 216.0 297.2 210.0 300.1 207.0 301.2 204.0 306.0 201.5 310.0 197.8 312.8 199.0 313.0 202.4 315.0 203.9 317.3 204.0 320.0 202.0 317.0 198.2 316.5 195.0 312.6 191.0 313.1 187.0 317.2 181.0 317.5 176.0 319.2 173.0 315.8 167.0 315.9 165.0 323.0 161.7 325.4 156.0 324.2 152.0 326.7 150.0 327.8 147.0 332.7 142.0 340.3 140.0 344.0 135.2 348.3 132.0 350.8 126.0 354.8 124.0 358.6 117.0 363.7 117.0 364.9 114.0 369.0 112.3 369.3 107.0 371.0 103.3 372.0 102.9 376.0 104.4 377.6 103.0 377.0 98.1 378.6 96.0M303.4 241.0 299.0 232.4 296.0 230.7 292.0 230.5 294.4 236.0 294.2 239.0 295.0 240.3 302.0 241.9 303.4 241.0M835.0 736.4 831.0 735.5 825.0 739.7 820.0 736.4 815.0 736.4 809.0 732.2 805.0 732.4 805.7 728.0 804.0 726.3 799.7 725.0 800.0 721.0 798.4 714.0 793.2 712.0 793.0 706.9 789.0 699.5 785.9 697.0 786.3 694.0 784.4 694.0 784.1 696.0 783.0 696.3 779.7 694.0 783.0 688.8 785.0 687.7 789.0 689.3 790.9 688.0 790.0 684.7 786.0 686.7 784.0 684.9 779.0 683.5 786.2 679.0 785.2 673.0 784.0 671.8 779.0 673.1 777.0 672.6 775.0 667.8 773.0 667.0 768.9 663.0 768.1 661.0 771.3 657.0 771.1 654.0 769.0 650.7 765.0 652.7 763.0 652.3 763.8 649.0 763.2 640.0 758.0 641.2 754.8 639.0 753.0 636.3 749.0 638.8 747.8 638.0 746.7 635.0 748.3 633.0 748.0 632.2 746.5 634.0 744.0 634.6 742.0 631.9 740.0 632.0 739.6 638.0 734.2 641.0 734.6 648.0 732.0 651.5 728.0 650.5 725.0 648.2 721.0 648.6 718.0 650.0 719.0 652.0 724.0 652.8 727.0 652.0 728.2 654.0 722.4 658.0 723.0 659.4 724.0 658.5 726.4 662.0 724.2 664.0 723.8 675.0 726.3 675.0 729.0 672.4 730.0 669.2 731.5 670.0 731.2 672.0 733.0 674.2 733.6 677.0 729.6 680.0 727.0 680.6 725.0 679.8 723.0 677.4 721.0 677.5 720.1 679.0 720.3 683.0 718.0 684.7 717.1 687.0 711.0 689.8 709.5 688.0 709.9 687.0 712.0 685.9 715.0 682.0 718.8 680.0 710.3 678.0 708.8 674.0 711.1 670.0 712.1 661.0 714.6 659.0 714.4 658.0 712.0 654.6 709.6 653.0 708.2 655.0 707.8 660.0 706.0 663.0 704.0 664.7 701.0 664.7 700.7 669.0 699.0 669.9 694.2 666.0 693.4 663.0 694.0 658.0 691.7 652.0 694.0 651.4 698.0 655.0 697.3 659.0 698.0 660.9 699.0 661.1 700.4 659.0 705.5 657.0 706.3 655.0 705.5 654.0 701.0 653.0 699.5 651.0 699.3 649.0 700.0 647.2 702.7 646.0 702.9 644.0 704.4 642.0 703.5 637.0 708.0 634.1 707.0 632.5 703.1 632.0 701.0 635.0 698.0 634.6 696.9 636.0 697.9 639.0 697.0 642.6 689.0 644.5 685.4 638.0 685.0 634.2 676.0 633.1 673.0 629.8 670.0 629.1 668.0 629.7 666.0 633.6 662.0 631.9 660.8 629.0 662.0 626.5 664.0 625.5 666.0 625.8 668.2 624.0 667.0 621.8 663.0 621.7 662.5 619.0 661.0 618.1 658.4 620.0 660.3 623.0 659.8 624.0 657.0 625.1 654.0 624.8 650.0 627.5 637.0 627.1 635.4 625.0 636.7 622.0 636.0 621.0 631.0 621.0 629.2 624.0 628.0 624.3 627.6 620.0 626.0 618.8 624.0 619.0 622.7 622.0 624.4 626.0 624.0 627.0 620.0 625.8 614.0 627.6 612.3 633.0 611.0 633.1 610.6 631.0 609.0 630.2 607.0 634.1 605.0 633.6 603.0 631.3 601.0 630.9 598.0 630.8 595.4 633.0 594.2 638.0 596.8 642.0 591.8 645.0 586.4 650.0 587.6 659.0 585.2 661.0 585.1 672.0 580.0 684.9 578.0 686.4 575.0 686.8 571.0 690.3 567.0 687.3 564.0 687.2 561.7 685.0 564.0 684.4 567.0 685.8 569.0 685.6 570.2 683.0 569.0 681.3 559.0 678.4 558.0 682.8 552.0 684.2 551.0 683.7 550.0 687.6 548.4 688.0 548.0 684.7 549.0 683.1 551.0 682.8 551.1 679.0 548.0 680.3 547.0 678.9 540.0 677.6 537.2 672.0 536.4 668.0 533.1 665.0 531.4 659.0 532.0 655.2 535.3 654.0 536.8 650.0 534.0 646.6 533.4 644.0 534.0 642.5 538.1 641.0 539.1 637.0 537.1 632.0 537.6 631.0 540.0 630.2 541.7 631.0 542.8 637.0 545.0 638.6 547.5 633.0 546.0 628.8 548.0 626.4 551.0 626.9 553.0 626.0 550.9 624.0 552.0 620.2 554.0 619.0 556.2 622.0 553.0 626.0 554.0 626.7 558.0 626.2 561.0 629.3 563.6 629.0 564.1 628.0 560.0 625.4 559.6 624.0 567.0 621.2 569.8 614.0 572.0 611.6 574.0 611.1 578.0 613.4 579.3 613.0 580.7 611.0 579.0 606.6 577.0 607.2 568.0 606.1 567.8 605.0 569.1 604.0 567.9 602.0 564.0 601.1 560.0 601.7 558.0 600.7 556.8 598.0 559.4 594.0 554.0 591.0 552.2 584.0 549.0 582.8 546.0 579.7 542.0 578.1 542.0 574.0 541.0 573.0 536.0 575.3 530.0 571.5 525.0 570.6 521.0 568.6 517.0 569.8 514.0 568.5 511.0 568.5 509.7 571.0 508.0 572.1 498.0 570.5 492.0 573.7 487.0 572.4 480.0 575.9 473.0 575.0 469.0 576.1 464.0 576.0 455.0 578.6 449.0 577.3 446.0 577.8 445.2 577.0 446.0 576.0 445.0 575.1 442.0 576.5 439.0 579.3 434.0 580.8 430.8 580.0 431.0 575.8 425.0 572.5 424.0 573.2 420.0 569.8 419.0 565.3 418.0 564.6 416.7 565.0 415.7 567.0 416.4 573.0 414.6 573.0 412.0 568.6 405.0 564.1 403.2 564.0 404.0 562.9 405.0 563.8 409.5 560.0 409.3 558.0 407.0 554.7 403.0 558.9 399.0 558.8 398.2 558.0 398.2 556.0 400.4 553.0 399.0 549.3 388.6 538.0 385.0 526.0 377.2 519.0 373.4 514.0 374.4 507.0 371.5 500.0 368.6 496.0 367.7 490.0 370.4 486.0 370.0 480.0 364.1 469.0 366.1 461.0 363.1 455.0 366.3 452.0 363.4 446.0 367.7 433.0 364.3 430.0 364.1 428.0 366.0 423.9 368.2 422.0 367.3 419.0 367.8 416.0 370.3 412.0 370.4 408.0 374.2 403.0 371.4 399.0 374.0 395.0 373.4 389.0 376.1 384.0 374.0 379.0 374.9 376.0 372.4 372.0 375.7 368.0 379.5 360.0 379.9 357.0 379.0 354.0 380.2 351.0 386.0 347.4 387.0 345.8 395.0 342.9 397.0 342.7 399.0 345.7 401.0 346.1 405.3 343.0 408.0 338.1 411.0 337.7 416.0 342.3 422.0 335.9 426.0 336.6 427.5 339.0 430.0 338.8 431.5 337.0 431.0 333.0 432.0 332.3 441.0 334.0 447.0 332.2 447.4 330.0 449.0 328.6 453.0 328.8 456.0 327.5 459.0 328.1 463.0 324.6 468.0 324.9 469.9 324.0 470.9 322.0 470.4 318.0 474.0 315.5 477.0 315.6 479.0 313.6 482.0 312.9 484.0 313.8 483.4 315.0 484.9 317.0 486.5 317.0 487.3 315.0 484.6 313.0 486.1 312.0 490.0 311.7 492.6 310.0 494.0 305.0 495.0 304.7 499.0 308.2 503.0 306.4 506.0 308.4 509.3 309.0 511.0 306.9 518.9 304.0 517.3 298.0 522.0 295.6 526.0 298.2 527.0 297.7 529.4 294.0 533.6 292.0 535.0 289.3 537.0 290.9 540.0 288.9 544.0 282.3 548.0 282.9 552.0 280.6 558.0 278.9 565.0 278.8 569.0 274.0 570.8 269.0 572.0 268.4 574.0 269.6 577.0 274.3 581.0 277.6 583.0 280.6 590.1 281.0 590.8 283.0 587.3 287.0 588.4 292.0 585.7 294.0 587.2 296.0 590.7 297.0 591.2 299.0 590.0 301.4 596.0 304.0 600.0 302.8 605.3 304.0 608.0 310.4 609.0 310.4 609.4 309.0 607.7 308.0 608.0 302.9 611.2 300.0 610.0 296.8 612.0 296.4 614.8 298.0 614.1 305.0 616.0 306.7 620.0 306.0 619.1 301.0 620.0 300.1 628.0 301.6 631.0 298.6 634.0 299.3 641.0 295.0 643.1 296.0 645.0 299.3 650.0 299.5 652.2 303.0 657.0 304.7 669.0 304.5 676.5 300.0 682.0 299.4 683.4 301.0 683.0 303.0 677.0 301.7 676.2 303.0 678.0 308.0 679.0 308.2 681.4 307.0 684.0 303.4 691.0 303.0 694.0 300.2 696.5 303.0 695.0 305.8 695.0 308.4 701.0 310.9 705.5 310.0 708.0 317.7 710.4 317.0 713.9 314.0 707.0 306.0 707.0 304.5 715.0 304.8 718.0 307.8 723.0 305.4 725.4 308.0 729.0 308.6 729.8 312.0 727.3 317.0 730.0 319.4 732.0 318.8 735.0 314.7 739.0 317.4 749.0 314.1 751.0 312.5 754.0 312.3 755.0 313.0 754.2 315.0 751.0 315.7 750.0 317.0 749.6 321.0 750.5 323.0 752.0 323.4 754.0 322.4 757.0 323.1 763.0 321.5 763.6 320.0 761.8 318.0 762.7 310.0 767.0 308.8 769.0 306.7 771.0 313.8 773.0 313.8 776.0 309.8 777.0 309.6 779.6 312.0 780.8 315.0 779.6 319.0 783.0 323.3 784.2 323.0 784.2 315.0 787.0 314.8 791.6 319.0 791.7 322.0 790.1 325.0 786.6 326.0 787.7 330.0 789.0 330.9 796.2 324.0 792.9 321.0 792.0 319.0 793.1 312.0 795.0 310.3 801.0 308.0 802.6 310.0 801.0 315.4 803.0 316.5 807.0 315.9 809.3 317.0 809.2 319.0 806.1 323.0 808.0 324.7 818.0 326.8 819.0 326.4 818.6 325.0 816.0 323.8 813.7 321.0 815.0 319.3 819.0 318.9 827.0 325.7 826.4 323.0 828.0 321.8 831.7 324.0 831.8 328.0 835.0 328.3M281.2 276.0 285.0 274.1 289.0 274.7 290.0 273.0 289.6 270.0 287.0 269.3 282.3 272.0 278.8 276.0 281.2 276.0M566.4 292.0 568.0 288.9 566.0 287.8 564.0 288.1 562.0 285.8 557.0 287.7 556.1 289.0 557.2 291.0 559.0 291.9 564.0 291.2 566.4 292.0M273.2 302.0 274.0 300.0 273.6 294.0 277.1 291.0 275.0 289.0 270.8 290.0 270.0 291.0 272.8 294.0 268.8 297.0 271.7 302.0 273.2 302.0M503.0 303.4 502.6 301.0 508.0 297.5 510.0 298.0 510.5 300.0 509.8 301.0 503.0 303.4M747.0 312.2 736.4 312.0 735.9 311.0 738.7 304.0 742.0 304.3 745.0 302.4 747.0 302.6 745.4 306.0 748.0 310.0 747.0 312.2M834.0 318.9 830.0 318.7 828.0 314.6 823.0 313.6 823.8 309.0 834.5 313.0 834.8 316.0 834.0 318.9M258.5 318.0 259.5 317.0 259.8 313.0 257.0 311.5 253.7 312.0 253.1 314.0 254.0 315.5 257.0 318.5 258.5 318.0M260.4 348.0 261.0 345.0 258.0 341.0 256.0 340.5 255.7 342.0 257.3 345.0 257.0 348.0 259.0 349.0 260.4 348.0M647.3 527.0 651.9 524.0 651.5 519.0 653.7 517.0 654.5 515.0 653.3 510.0 650.1 506.0 656.0 503.3 658.6 498.0 659.1 494.0 661.0 493.2 663.0 494.9 667.0 495.4 670.0 497.8 671.0 496.2 670.8 493.0 668.0 490.2 664.0 491.5 660.0 491.5 657.0 493.5 655.6 493.0 654.4 491.0 656.0 488.4 659.0 490.8 659.6 490.0 659.8 487.0 658.4 485.0 659.0 484.2 661.0 485.5 663.0 485.1 667.0 486.6 672.0 485.6 674.7 482.0 677.0 480.9 681.0 483.8 683.0 482.2 685.0 478.2 691.0 478.8 694.0 474.1 698.0 475.0 698.8 474.0 698.0 471.9 693.7 469.0 696.1 467.0 696.8 465.0 695.6 462.0 695.3 455.0 695.8 451.0 698.4 448.0 697.3 444.0 699.0 442.5 701.1 443.0 700.4 441.0 702.5 435.0 701.4 433.0 698.5 431.0 697.2 426.0 692.4 423.0 691.9 418.0 694.0 417.8 700.0 423.3 703.3 422.0 702.0 413.9 699.2 411.0 702.1 407.0 702.2 403.0 705.5 399.0 703.5 394.0 708.0 394.6 709.4 393.0 705.2 382.0 701.8 381.0 702.1 377.0 697.7 375.0 696.0 371.1 691.0 376.1 686.0 374.4 685.0 375.8 683.0 375.6 680.0 373.2 678.4 379.0 676.0 381.2 675.0 380.0 676.2 376.0 675.0 374.8 670.1 374.0 667.0 370.3 664.0 368.5 661.0 369.7 657.2 369.0 658.1 367.0 657.0 361.2 654.4 363.0 653.9 367.0 655.0 369.0 652.0 370.0 648.0 368.6 644.0 369.9 640.6 368.0 638.0 364.8 636.8 367.0 637.8 370.0 633.0 373.2 631.0 377.9 628.0 378.4 626.0 377.3 625.9 381.0 627.7 385.0 634.0 389.0 631.5 393.0 628.0 393.9 626.4 396.0 626.2 401.0 627.8 405.0 627.6 410.0 624.0 414.5 623.1 417.0 624.0 419.5 625.2 419.0 625.5 420.0 623.9 421.0 627.6 430.0 627.0 436.4 631.0 438.5 631.8 440.0 629.0 443.8 626.0 442.1 624.0 442.8 622.4 445.0 624.0 449.4 626.7 449.0 629.0 446.2 631.5 449.0 628.4 453.0 627.2 458.0 628.6 460.0 622.6 467.0 624.0 468.2 629.4 468.0 628.6 473.0 631.0 480.2 633.5 483.0 633.6 485.0 633.0 487.0 629.7 487.0 629.1 489.0 631.0 491.4 635.0 489.4 639.0 490.7 641.0 490.4 645.0 487.9 647.4 490.0 645.9 492.0 645.0 496.5 643.0 497.9 637.5 499.0 640.3 503.0 636.0 510.0 635.0 511.0 632.0 509.5 629.2 510.0 628.8 515.0 631.0 517.4 636.0 516.8 637.6 514.0 641.0 512.5 644.0 507.8 645.1 511.0 643.0 515.0 642.7 521.0 644.1 525.0 647.3 527.0M252.5 375.0 253.8 373.0 253.0 371.0 247.0 370.2 244.7 368.0 248.0 375.9 252.5 375.0M246.6 423.0 248.5 422.0 249.4 420.0 243.0 417.6 241.3 423.0 244.0 423.7 246.6 423.0M253.0 438.8 249.2 433.0 249.4 430.0 253.0 430.7 254.3 432.0 254.3 436.0 253.0 438.8M670.0 526.0 673.3 524.0 672.9 522.0 671.0 520.5 669.6 521.0 666.8 525.0 668.0 526.3 670.0 526.0M652.6 583.0 653.5 582.0 652.0 578.9 646.0 576.2 644.0 572.4 641.5 570.0 639.7 565.0 642.2 559.0 640.5 556.0 643.3 553.0 643.3 548.0 645.0 546.5 648.0 546.9 649.8 545.0 652.0 544.4 654.0 546.4 657.0 547.2 661.0 546.6 661.0 545.5 657.7 543.0 661.6 541.0 659.0 534.0 660.0 533.0 664.0 533.2 665.0 532.0 664.3 530.0 661.0 527.4 659.5 528.0 658.0 531.8 651.0 527.0 649.0 527.4 643.8 532.0 640.8 538.0 638.0 539.8 636.0 539.0 634.0 535.4 633.1 536.0 630.5 542.0 630.7 544.0 632.0 545.8 634.0 546.6 639.2 547.0 640.1 549.0 638.0 551.5 633.0 551.4 629.0 547.1 627.1 548.0 629.0 551.3 630.5 552.0 633.0 556.7 636.0 556.1 637.3 557.0 637.0 565.0 634.9 568.0 635.1 570.0 636.0 571.9 639.6 574.0 641.9 577.0 643.0 581.8 652.6 583.0M670.7 541.0 672.4 539.0 673.1 536.0 671.0 533.2 667.9 534.0 666.7 536.0 668.0 540.1 669.0 541.2 670.7 541.0M238.6 557.0 243.4 549.0 243.0 542.3 240.0 546.1 238.9 551.0 235.1 554.0 236.0 556.4 238.6 557.0M394.0 549.6 389.0 547.3 386.6 543.0 387.0 542.2 391.0 543.8 394.5 549.0 394.0 549.6M249.1 554.0 251.0 552.6 257.0 552.3 258.4 551.0 255.0 545.0 253.0 543.4 251.3 544.0 252.5 548.0 252.0 549.4 246.9 553.0 247.0 554.0 249.1 554.0M656.8 565.0 657.5 563.0 656.0 559.0 658.4 555.0 658.0 554.0 654.0 552.6 648.0 555.4 646.7 558.0 649.3 563.0 653.0 565.8 656.8 565.0M630.8 573.0 632.8 571.0 632.6 569.0 631.0 568.1 627.0 568.3 624.0 566.3 623.2 567.0 622.0 570.1 628.0 573.6 630.8 573.0M659.4 575.0 656.0 570.8 654.0 570.0 652.6 571.0 652.9 573.0 654.0 573.8 657.0 575.2 659.4 575.0M249.5 587.0 250.8 586.0 251.0 584.0 246.2 578.0 246.0 575.0 244.0 573.8 242.0 574.0 240.9 578.0 242.8 580.0 244.7 585.0 247.0 586.9 249.5 587.0M519.9 599.0 523.3 596.0 521.0 593.3 519.0 592.4 517.0 594.0 516.9 597.0 517.5 599.0 519.9 599.0M506.0 608.0 507.4 603.0 513.0 601.6 513.9 600.0 510.0 596.7 504.0 595.8 503.3 596.0 505.0 597.4 506.3 602.0 502.7 604.0 502.2 606.0 504.0 608.6 506.0 608.0M252.7 606.0 254.2 605.0 255.6 601.0 253.0 597.7 250.5 599.0 248.5 605.0 250.0 606.3 252.7 606.0M560.0 608.2 557.0 608.2 553.8 605.0 555.0 603.8 559.0 603.0 560.6 605.0 560.0 608.2M489.4 612.0 488.0 607.5 485.7 606.0 484.8 607.0 486.0 610.5 488.0 612.3 489.4 612.0M285.4 621.0 287.6 616.0 286.0 615.2 282.0 616.7 279.0 609.5 271.5 610.0 272.0 614.7 283.6 621.0 285.4 621.0M590.1 632.0 591.5 630.0 589.6 627.0 585.1 625.0 583.7 618.0 582.0 617.0 578.9 618.0 583.7 627.0 584.0 630.2 588.0 632.5 590.1 632.0M397.7 629.0 398.3 625.0 397.4 623.0 396.0 622.7 392.4 625.0 391.8 627.0 393.0 629.2 396.0 629.9 397.7 629.0M567.7 633.0 567.6 631.0 570.7 626.0 567.0 622.7 566.1 632.0 567.0 633.4 567.7 633.0M710.0 651.0 711.7 647.0 709.0 645.5 705.8 646.0 705.3 647.0 706.7 650.0 709.0 652.0 710.0 651.0M544.7 670.0 546.0 667.1 550.6 665.0 551.0 660.5 542.0 662.6 539.4 665.0 539.5 667.0 543.5 670.0 544.7 670.0M572.2 680.0 572.5 677.0 570.0 673.1 569.0 672.8 568.2 674.0 568.6 676.0 572.2 680.0M722.0 694.2 719.0 693.3 718.5 691.0 719.9 687.0 722.0 685.8 723.8 687.0 724.3 689.0 723.6 693.0 722.0 694.2M632.5 801.0 633.8 798.0 633.1 792.0 637.0 788.5 639.0 783.9 638.1 779.0 640.2 774.0 641.0 772.9 648.0 771.6 650.2 770.0 651.9 764.0 650.6 759.0 651.0 756.6 655.0 754.0 660.0 752.3 661.0 750.4 661.3 752.0 664.0 754.1 666.4 753.0 664.0 743.0 664.9 741.0 668.0 738.5 677.0 738.7 680.5 741.0 681.0 743.4 682.1 742.0 680.9 740.0 681.7 737.0 685.0 734.3 689.0 734.7 693.0 733.6 698.0 735.1 700.1 734.0 701.0 732.0 701.3 725.0 710.6 719.0 712.3 715.0 716.0 709.9 717.0 703.5 725.0 700.9 725.4 702.0 723.7 703.0 721.2 710.0 719.4 712.0 718.3 717.0 713.1 721.0 714.0 721.6 721.0 719.4 726.0 729.0 728.0 728.7 731.0 726.3 736.2 728.0 732.8 730.0 733.0 733.4 738.0 735.6 742.7 736.0 746.0 738.8 751.8 740.0 753.0 741.1 757.0 740.3 763.0 744.6 767.0 745.0 769.0 743.7 770.1 744.0 771.5 745.0 769.0 747.0 769.0 748.0 774.5 752.0 775.5 755.0 779.0 757.4 783.0 755.1 784.9 756.0 784.0 759.9 782.0 760.3 780.0 758.8 776.0 763.6 773.0 764.7 772.9 768.0 769.8 773.0 770.9 777.0 774.8 781.0 774.4 786.0 775.4 790.0 774.7 793.0 771.6 795.0 771.3 801.0" stroke="#7ad151" stroke-width="2.1" fill="none" stroke-linejoin="round"/><path d="M463.0 105.4 460.8 105.0 459.8 103.0 463.0 99.6 465.1 101.0 463.0 105.4M446.0 110.9 438.0 108.3 437.1 106.0 438.0 103.6 440.0 103.8 443.0 107.0 446.0 108.3 446.7 110.0 446.0 110.9M480.0 112.2 478.8 110.0 479.5 108.0 481.0 106.2 483.0 106.3 484.0 109.0 480.0 112.2M337.0 153.1 336.0 153.8 335.4 153.0 335.4 150.0 336.5 148.0 338.0 147.4 340.0 148.5 341.6 151.0 341.5 152.0 337.0 153.1M345.0 161.0 344.0 160.0 345.0 155.6 348.8 156.0 349.7 157.0 349.0 159.0 345.0 161.0M372.0 173.0 371.0 173.7 369.1 173.0 367.6 170.0 370.0 165.1 373.0 164.7 375.7 166.0 376.6 168.0 376.0 169.8 373.0 170.0 372.0 173.0M329.0 183.4 326.2 182.0 325.0 178.0 327.0 177.7 330.7 180.0 330.5 182.0 329.0 183.4M351.0 207.1 346.9 206.0 345.5 203.0 346.5 200.0 348.0 200.0 352.4 204.0 352.9 205.0 351.0 207.1M574.0 586.0 572.0 586.0 571.7 583.0 570.0 579.6 563.0 579.9 561.4 579.0 561.1 576.0 565.7 573.0 566.2 571.0 558.0 568.8 556.5 567.0 556.8 564.0 556.0 562.8 554.2 565.0 556.0 568.0 555.4 570.0 556.2 571.0 555.0 571.1 553.0 568.7 546.8 566.0 545.0 560.9 544.0 561.3 543.7 564.0 538.0 569.1 536.9 569.0 533.9 565.0 531.0 563.1 528.0 564.0 525.0 566.7 521.0 564.2 517.0 565.4 512.0 564.0 510.0 560.5 509.0 560.4 500.8 563.0 495.0 567.4 493.0 570.1 491.0 569.9 487.0 565.8 483.0 565.2 480.0 567.9 474.0 567.1 472.0 568.2 472.4 570.0 471.2 572.0 469.0 572.5 466.0 571.5 464.8 568.0 460.0 562.9 458.0 562.4 454.0 563.7 454.0 565.2 456.0 566.2 460.0 564.3 460.8 565.0 460.2 567.0 456.0 569.0 456.3 570.0 454.9 571.0 449.0 571.2 446.0 570.0 440.0 562.7 437.0 562.3 434.0 563.7 431.0 559.0 426.3 558.0 421.0 554.2 417.0 555.6 416.0 554.0 413.0 553.0 409.0 550.1 404.8 549.0 405.0 546.6 408.0 545.8 409.2 544.0 408.0 541.1 404.0 543.5 402.0 542.3 402.3 539.0 404.8 535.0 404.2 533.0 400.0 531.3 394.0 533.4 391.7 532.0 392.0 528.6 393.0 527.7 395.0 527.8 396.4 526.0 394.6 524.0 394.3 521.0 390.0 520.5 387.0 516.9 379.4 511.0 378.7 507.0 379.2 503.0 376.7 498.0 378.9 495.0 379.0 493.4 376.2 490.0 376.5 484.0 373.8 481.0 372.7 475.0 372.2 460.0 371.3 456.0 373.4 451.0 373.2 449.0 370.0 444.8 369.5 442.0 373.7 432.0 374.6 423.0 373.9 420.0 377.5 415.0 378.0 408.0 381.0 403.8 383.9 402.0 382.6 396.0 386.2 392.0 383.5 386.0 383.8 380.0 389.0 373.9 393.0 372.5 395.5 370.0 388.0 370.3 386.2 371.0 385.0 372.8 383.9 372.0 382.9 369.0 384.6 367.0 388.0 366.5 391.0 363.7 399.1 361.0 399.8 359.0 399.1 358.0 394.1 358.0 397.1 355.0 405.8 356.0 409.0 359.0 409.8 357.0 409.0 351.2 404.6 349.0 405.6 347.0 408.0 347.5 411.0 346.0 418.0 349.6 421.0 348.9 424.0 350.0 427.0 347.6 429.0 343.9 437.0 338.8 438.5 340.0 439.0 342.0 435.6 347.0 436.3 349.0 438.0 349.5 440.0 348.6 442.1 345.0 449.0 343.2 450.4 340.0 452.0 339.0 454.0 339.1 457.0 342.5 459.0 342.8 461.0 342.7 464.0 338.4 471.0 338.4 473.3 334.0 476.0 331.4 478.0 331.9 480.0 334.2 486.0 336.3 488.7 334.0 485.2 332.0 484.3 330.0 489.0 326.4 491.3 327.0 494.0 329.8 505.0 330.9 507.0 329.5 506.0 325.0 507.0 323.8 515.0 327.9 517.0 327.8 521.0 324.6 523.8 325.0 526.0 326.9 530.5 319.0 528.5 313.0 532.0 310.7 533.5 312.0 532.7 314.0 533.4 316.0 536.0 316.1 539.0 322.3 542.0 322.5 544.9 320.0 544.5 318.0 540.4 314.0 541.0 312.2 544.4 310.0 544.4 307.0 541.2 300.0 542.0 298.2 544.0 298.0 545.9 299.0 549.2 304.0 549.4 305.0 548.0 307.0 551.0 309.0 557.0 308.5 560.8 306.0 558.4 302.0 560.0 299.9 561.0 300.1 562.7 304.0 562.1 309.0 564.3 312.0 565.9 317.0 568.0 318.6 570.0 318.5 573.5 316.0 572.9 314.0 573.4 311.0 575.0 309.9 575.1 314.0 579.1 316.0 579.3 318.0 576.8 320.0 578.0 320.8 585.0 320.3 589.0 316.7 592.6 322.0 591.9 324.0 589.8 326.0 591.1 332.0 596.0 334.6 600.0 333.8 604.3 336.0 605.7 341.0 603.9 346.0 608.1 349.0 607.0 352.7 609.0 353.7 614.0 353.8 615.5 356.0 614.0 357.6 610.0 358.0 608.6 359.0 609.0 360.7 611.0 360.9 613.0 363.0 613.0 366.1 606.0 367.7 604.0 368.7 603.7 370.0 604.0 370.7 608.0 368.6 609.6 371.0 609.5 374.0 611.0 375.0 615.0 374.7 616.1 377.0 614.9 381.0 610.2 385.0 615.5 390.0 611.0 393.8 609.8 398.0 610.0 400.0 613.1 402.0 613.1 403.0 610.4 404.0 607.0 407.6 603.0 407.3 601.3 409.0 603.0 411.0 608.0 409.7 611.0 412.0 610.0 413.8 605.6 416.0 607.4 420.0 606.1 425.0 608.7 427.0 606.3 434.0 608.4 439.0 612.8 440.0 614.4 443.0 613.0 444.1 610.0 443.4 608.4 445.0 611.2 450.0 608.2 456.0 611.8 459.0 607.1 466.0 609.0 467.9 616.0 470.1 617.8 474.0 618.0 484.3 613.0 485.3 610.9 487.0 609.6 491.0 611.0 493.6 614.1 494.0 613.0 495.1 611.0 495.2 608.7 498.0 610.0 499.5 615.0 500.4 622.0 498.2 623.3 500.0 622.0 502.2 617.0 504.6 613.4 504.0 611.0 502.1 609.0 502.3 606.0 504.6 604.5 510.0 606.5 511.0 607.7 510.0 608.3 507.0 612.0 506.2 613.8 508.0 615.0 511.2 618.0 513.7 622.0 515.2 622.6 517.0 619.0 520.6 616.3 522.0 615.9 524.0 617.7 529.0 617.1 530.0 616.0 530.2 612.0 527.9 609.8 529.0 612.2 533.0 611.3 535.0 608.0 537.6 606.5 542.0 610.1 546.0 609.0 548.9 607.0 548.6 606.0 547.1 605.0 542.0 600.0 540.4 597.8 542.0 597.0 544.0 603.2 554.0 603.0 555.6 601.0 556.7 599.0 556.1 595.0 550.3 594.0 550.2 593.1 552.0 594.4 557.0 592.0 559.0 587.0 554.4 584.4 554.0 584.1 557.0 586.6 561.0 585.5 565.0 588.0 566.3 591.0 565.1 594.0 565.7 596.9 561.0 599.0 560.8 601.7 566.0 601.0 567.9 599.0 568.5 594.0 567.3 591.0 569.7 588.0 570.8 582.0 569.7 575.0 570.9 575.4 568.0 574.0 567.0 569.4 569.0 570.4 572.0 569.6 576.0 570.0 577.1 573.0 578.7 572.3 583.0 574.0 586.0M570.0 310.3 566.0 310.0 564.1 305.0 568.0 303.2 571.0 304.0 572.0 307.0 571.7 309.0 570.0 310.3M564.4 322.0 560.2 317.0 557.6 317.0 557.1 320.0 562.0 322.8 564.4 322.0M695.0 357.2 691.0 353.7 687.2 352.0 686.0 349.6 682.8 349.0 679.5 346.0 681.5 343.0 681.0 341.2 674.0 341.4 669.0 339.3 669.0 337.8 670.0 337.0 676.0 337.4 683.0 335.9 685.0 334.5 686.0 332.2 689.0 334.8 693.0 334.7 694.1 336.0 694.0 338.0 693.0 338.6 689.0 337.7 688.0 338.6 687.6 348.0 692.0 350.5 695.0 350.3 700.0 347.2 702.0 347.0 703.8 348.0 704.6 350.0 697.9 352.0 697.3 356.0 695.0 357.2M643.0 339.3 637.0 339.0 636.9 338.0 639.0 334.9 642.0 333.7 643.8 338.0 643.0 339.3M613.0 345.6 610.0 344.0 607.1 339.0 607.7 337.0 610.0 335.7 612.9 336.0 612.9 339.0 615.0 340.6 618.0 339.3 618.6 340.0 618.0 342.4 613.0 345.6M653.0 344.1 650.0 343.3 648.0 341.0 651.0 340.0 655.0 340.6 655.5 343.0 653.0 344.1M835.0 730.9 832.0 731.2 826.0 727.7 821.0 729.3 818.0 725.5 816.0 724.5 813.0 724.1 811.0 725.2 809.0 725.0 809.0 723.9 812.6 722.0 812.7 719.0 815.5 716.0 815.8 714.0 811.2 712.0 810.0 705.2 807.9 703.0 806.4 699.0 801.8 696.0 801.8 694.0 799.4 690.0 799.4 685.0 797.4 682.0 797.5 680.0 798.2 678.0 801.1 676.0 801.0 674.9 799.0 674.3 797.0 676.1 794.5 676.0 793.7 672.0 790.0 670.7 786.3 666.0 786.0 663.0 788.6 658.0 787.0 656.8 783.0 657.7 782.1 657.0 781.8 655.0 784.8 652.0 785.3 650.0 779.0 648.2 778.2 646.0 782.0 642.1 786.0 641.7 787.9 640.0 786.0 638.8 783.0 640.8 778.0 639.6 776.0 640.7 774.2 640.0 775.0 627.2 771.0 628.3 763.0 627.2 757.0 624.1 756.0 620.9 751.0 620.2 749.8 621.0 748.0 625.7 745.0 626.7 743.3 626.0 742.0 623.8 739.0 624.7 736.0 623.5 734.8 620.0 729.1 618.0 728.3 615.0 725.0 612.2 717.0 612.0 712.0 609.8 710.0 613.2 706.0 612.8 704.5 610.0 707.6 607.0 707.6 606.0 702.0 601.9 700.9 602.0 701.2 605.0 700.0 607.3 698.0 606.5 694.6 600.0 694.4 599.0 696.0 597.5 699.0 597.8 700.0 596.8 701.3 594.0 700.0 592.0 690.0 591.5 683.1 587.0 682.4 585.0 684.0 582.5 687.0 583.5 689.1 583.0 688.0 576.9 691.4 577.0 693.6 581.0 693.3 584.0 696.0 585.0 698.3 578.0 698.0 577.0 693.0 576.8 692.2 576.0 692.1 573.0 694.1 569.0 694.2 562.0 688.0 559.5 688.0 553.0 680.4 545.0 683.8 542.0 687.0 536.9 689.0 536.0 689.5 537.0 686.8 541.0 687.2 543.0 690.0 545.6 692.4 545.0 693.2 540.0 690.1 536.0 692.0 534.2 694.5 534.0 698.0 538.3 702.7 538.0 703.3 537.0 696.2 531.0 696.5 527.0 693.0 522.9 690.0 520.8 688.3 521.0 687.0 523.0 685.0 522.1 682.8 518.0 685.5 513.0 685.0 511.0 681.0 512.6 678.4 512.0 677.3 510.0 679.9 506.0 676.6 503.0 677.0 501.8 681.6 499.0 684.0 493.6 686.0 493.2 690.0 494.7 697.0 489.0 698.6 489.0 697.9 486.0 699.7 483.0 700.0 480.0 705.2 476.0 702.3 469.0 703.0 467.7 706.0 466.3 707.6 461.0 710.0 459.9 711.2 455.0 713.9 452.0 712.5 447.0 713.0 445.1 717.0 444.0 717.1 440.0 719.6 437.0 716.0 432.5 712.0 431.4 710.1 429.0 715.0 427.0 714.9 422.0 716.0 417.7 717.0 416.9 720.0 420.3 722.0 420.5 723.7 418.0 723.0 415.8 726.8 414.0 725.8 409.0 727.0 407.9 731.4 409.0 734.0 402.0 738.0 400.7 739.1 399.0 738.0 396.7 737.0 396.5 733.0 398.6 732.0 398.1 731.6 396.0 729.0 393.1 726.0 391.1 722.7 391.0 725.0 389.2 730.0 389.9 732.0 391.7 733.8 391.0 734.4 389.0 732.0 386.0 731.8 382.0 733.0 380.2 736.2 379.0 738.1 376.0 737.6 371.0 735.0 368.6 730.0 368.1 726.2 369.0 726.3 366.0 724.2 362.0 725.2 359.0 733.3 351.0 732.7 350.0 729.0 347.5 725.0 352.5 723.0 353.2 720.0 351.4 719.0 348.6 717.0 347.8 713.4 350.0 714.4 354.0 712.5 357.0 709.0 358.9 707.0 358.5 705.9 356.0 707.9 354.0 708.2 352.0 705.4 350.0 705.8 347.0 703.7 343.0 705.0 341.4 708.0 339.8 711.8 340.0 715.0 343.1 719.0 343.7 721.0 346.9 727.0 346.3 729.0 343.8 731.0 343.2 734.8 346.0 734.0 349.7 738.0 348.7 742.0 350.1 742.4 351.0 738.0 355.9 732.0 356.7 732.0 359.0 734.0 360.8 738.0 360.3 740.3 362.0 740.7 364.0 739.3 370.0 740.0 370.8 742.0 371.5 746.0 369.9 750.0 373.0 753.0 371.0 753.4 368.0 750.0 365.0 746.0 366.6 745.0 366.2 742.8 362.0 744.0 360.0 748.0 357.6 750.0 352.1 755.0 351.6 758.0 348.9 760.0 349.7 764.0 349.4 764.7 352.0 763.0 355.5 760.0 353.8 759.0 354.2 754.0 360.0 754.4 362.0 756.0 363.2 757.0 363.3 761.0 358.0 766.0 355.5 768.0 351.5 774.0 348.6 775.8 349.0 779.0 353.3 781.0 354.1 784.0 349.5 788.0 349.5 792.0 346.7 793.0 347.0 794.0 349.7 797.1 352.0 795.1 355.0 798.0 355.2 802.0 351.2 802.7 348.0 804.0 346.9 809.0 346.1 814.0 350.5 819.0 349.2 819.5 347.0 816.4 344.0 823.0 339.5 826.0 341.2 829.0 340.4 830.0 345.1 835.0 348.1M786.0 346.0 784.0 346.8 779.0 345.6 776.7 343.0 776.8 341.0 779.0 339.6 781.0 340.2 786.4 344.0 786.0 346.0M751.0 349.2 749.3 349.0 749.9 347.0 755.0 341.5 759.4 342.0 759.8 344.0 758.0 347.5 757.0 348.3 753.0 348.0 751.0 349.2M719.0 369.3 717.4 369.0 714.7 364.0 714.3 361.0 716.0 359.1 719.1 359.0 722.6 363.0 722.5 367.0 719.0 369.3M707.0 372.3 705.0 372.0 701.6 369.0 701.8 367.0 705.0 363.8 707.5 366.0 707.0 372.3M607.8 385.0 609.3 384.0 608.5 382.0 607.0 380.2 605.0 380.0 603.9 381.0 604.5 384.0 607.8 385.0M756.1 391.0 759.0 390.1 762.0 391.0 764.0 390.5 765.7 389.0 766.0 386.9 765.0 385.5 760.0 385.0 756.0 382.6 749.2 383.0 754.0 390.7 756.1 391.0M605.8 398.0 606.0 394.0 603.0 390.3 597.0 392.0 598.0 394.5 601.0 394.4 605.0 398.4 605.8 398.0M727.4 432.0 729.0 430.9 730.4 427.0 729.0 424.5 727.0 423.6 724.2 426.0 725.1 430.0 727.4 432.0M608.2 523.0 613.0 518.8 615.0 519.7 617.0 516.5 615.0 515.6 613.0 516.6 608.0 515.4 605.6 518.0 604.4 521.0 606.0 523.2 608.2 523.0M612.0 562.7 610.3 562.0 610.6 557.0 608.2 553.0 610.0 549.2 613.0 551.7 615.4 559.0 612.0 562.7M680.0 563.4 678.0 563.2 677.7 561.0 675.2 558.0 675.3 556.0 678.0 553.9 679.0 554.2 680.0 556.4 680.0 563.4M689.0 570.2 683.4 569.0 682.0 567.4 682.0 565.8 686.0 563.9 690.0 564.8 691.6 567.0 689.0 570.2M706.1 582.0 703.8 579.0 703.7 574.0 703.0 572.9 701.5 573.0 700.0 574.0 699.9 577.0 702.5 579.0 703.7 582.0 705.0 582.6 706.1 582.0M608.0 585.7 602.0 585.7 600.0 584.6 599.2 583.0 602.0 581.1 606.0 582.5 608.0 582.3 608.0 585.7M667.0 603.3 666.0 603.5 664.7 602.0 667.6 598.0 666.7 593.0 669.0 590.5 673.0 591.0 668.9 596.0 667.0 603.3M715.0 606.0 716.1 604.0 714.3 601.0 715.0 598.3 717.0 597.4 719.0 598.5 721.0 598.4 722.3 597.0 722.0 593.8 721.0 593.6 717.0 596.9 709.0 595.5 710.4 598.0 711.2 606.0 712.0 606.9 715.0 606.0M609.0 614.4 606.0 613.3 605.4 612.0 609.4 607.0 608.5 605.0 604.0 603.8 601.0 599.9 596.6 601.0 596.6 599.0 599.7 595.0 608.0 595.6 609.7 599.0 613.0 600.7 615.0 603.9 618.0 603.4 624.4 606.0 624.0 607.5 619.0 607.8 615.0 604.1 612.0 607.0 611.6 611.0 609.0 614.4M689.0 613.0 686.5 612.0 683.6 606.0 682.6 600.0 684.0 598.7 688.8 599.0 689.3 608.0 690.8 611.0 689.0 613.0M640.0 612.6 628.0 609.0 627.5 608.0 637.0 607.5 642.0 603.4 648.0 602.6 650.0 600.9 652.3 601.0 650.0 606.1 645.0 606.2 640.0 612.6M682.0 618.0 680.0 617.3 678.7 614.0 679.0 610.2 680.0 610.3 684.2 615.0 682.0 618.0M600.0 618.1 597.0 617.8 595.7 616.0 597.0 613.1 600.0 611.6 602.0 612.4 602.6 614.0 602.0 617.0 600.0 618.1M723.0 626.2 722.0 626.5 718.5 624.0 717.0 621.7 718.0 620.8 721.0 621.4 726.0 619.0 727.1 620.0 726.8 622.0 723.0 626.2M571.0 654.8 567.3 654.0 566.3 652.0 568.0 648.8 570.3 647.0 571.0 643.1 572.0 643.0 571.8 653.0 571.0 654.8M646.4 801.0 645.8 800.0 646.6 798.0 652.1 795.0 657.0 793.2 660.9 795.0 663.0 792.7 663.0 791.5 659.0 792.0 653.0 787.5 649.0 788.2 648.1 787.0 650.0 784.3 660.0 778.9 663.3 774.0 667.0 772.7 673.9 768.0 674.5 767.0 671.6 763.0 674.8 758.0 674.2 751.0 677.0 749.9 686.0 750.5 692.0 749.4 698.0 743.8 702.0 741.9 704.8 738.0 708.0 735.5 710.0 732.0 713.0 730.7 714.0 739.5 723.0 740.8 725.4 737.0 729.0 735.9 730.7 738.0 727.6 744.0 730.0 746.2 733.0 745.5 734.7 742.0 741.0 742.7 741.3 747.0 744.0 749.8 752.0 749.7 755.5 751.0 756.5 753.0 754.6 757.0 756.0 759.7 759.0 758.4 762.2 759.0 762.9 761.0 759.8 765.0 759.9 767.0 763.0 770.0 766.4 770.0 766.5 776.0 770.2 782.0 770.0 783.1 767.0 782.8 764.5 786.0 764.6 787.0 767.4 789.0 768.0 791.0 765.1 796.0 762.1 799.0 763.2 801.0M757.2 776.0 758.3 775.0 758.2 772.0 756.0 770.4 752.8 773.0 752.4 775.0 754.0 776.6 757.2 776.0M760.9 788.0 761.0 780.1 758.0 781.6 757.2 784.0 759.0 788.3 760.9 788.0" stroke="#22a884" stroke-width="2.1" fill="none" stroke-linejoin="round"/><path d="M572.0 564.1 570.0 564.4 568.0 561.6 565.0 562.0 564.1 561.0 565.0 559.7 568.0 559.7 568.7 558.0 568.1 549.0 567.0 547.0 564.0 545.7 560.0 546.5 559.8 548.0 562.0 549.5 562.4 551.0 558.0 556.7 557.0 551.2 555.1 549.0 554.6 544.0 553.0 542.6 549.2 545.0 549.7 549.0 548.0 550.7 546.3 547.0 545.0 546.7 535.0 549.2 530.0 553.5 524.0 547.0 518.0 550.5 511.0 549.7 508.5 552.0 505.0 553.0 504.0 555.9 500.0 555.8 496.0 558.3 493.0 556.9 489.0 557.9 484.0 556.8 481.0 559.9 474.0 558.2 473.0 557.1 471.0 558.5 470.0 557.8 469.0 560.0 471.0 560.0 471.8 562.0 470.0 563.3 467.3 562.0 462.0 555.9 457.0 553.5 455.0 553.6 454.0 555.5 451.0 557.1 448.0 555.7 440.0 555.0 435.0 550.2 431.0 549.7 426.0 551.2 424.0 548.0 417.0 543.3 413.0 543.9 412.4 541.0 412.7 539.0 415.0 537.0 414.5 534.0 408.0 533.4 402.6 527.0 401.1 520.0 400.0 518.5 389.0 514.2 388.3 513.0 389.4 509.0 388.0 505.4 386.0 508.0 384.0 508.3 383.2 507.0 384.8 504.0 384.0 502.0 385.0 501.2 385.0 499.0 383.8 495.0 384.7 491.0 379.6 484.0 378.2 480.0 378.7 478.0 376.8 476.0 378.0 464.0 374.8 457.0 378.9 452.0 377.1 449.0 375.9 444.0 378.1 439.0 377.5 436.0 378.5 432.0 375.9 428.0 377.3 426.0 381.0 425.0 380.0 419.7 384.0 416.0 382.3 413.0 382.8 408.0 389.2 403.0 389.5 401.0 387.2 398.0 389.0 394.0 396.8 388.0 396.4 384.0 398.0 382.0 398.0 378.0 399.0 376.0 401.0 375.6 406.0 378.2 409.0 377.7 411.0 375.0 411.0 372.0 407.1 370.0 406.2 368.0 408.0 366.2 412.0 365.6 413.1 367.0 412.3 371.0 414.0 372.3 417.0 372.4 418.0 370.0 416.9 363.0 418.2 361.0 422.0 357.2 427.0 356.6 431.0 359.0 432.0 352.9 435.0 352.1 438.0 352.7 442.0 350.7 445.0 353.8 448.0 354.2 454.0 347.0 462.0 346.1 466.0 344.2 468.0 344.9 472.0 349.1 475.0 346.5 478.0 347.9 482.0 348.0 487.8 345.0 491.0 340.5 495.0 344.0 497.0 343.5 499.0 340.4 500.0 340.2 504.0 342.1 506.9 342.0 507.4 343.0 505.8 348.0 507.0 348.8 509.9 347.0 510.0 345.0 514.0 339.4 515.0 339.5 518.0 340.5 519.2 343.0 521.0 344.2 526.8 343.0 526.9 344.0 523.1 348.0 523.0 350.0 518.6 352.0 519.0 354.8 522.0 354.6 524.0 351.1 530.8 351.0 531.0 350.0 535.0 347.5 540.5 349.0 540.4 352.0 542.0 354.3 545.0 352.0 544.7 350.0 542.5 348.0 543.7 345.0 546.0 343.0 551.0 344.6 553.6 343.0 553.7 341.0 551.4 337.0 552.0 335.4 554.0 334.9 555.1 336.0 555.5 344.0 557.9 348.0 557.7 354.0 561.0 355.2 562.4 359.0 561.2 361.0 559.0 361.2 553.0 358.4 549.1 358.0 548.0 354.7 543.1 357.0 543.9 359.0 548.0 360.0 551.0 366.9 556.0 368.5 558.0 365.5 560.0 364.5 567.0 368.5 574.0 364.7 579.0 371.2 581.0 370.8 584.0 366.6 585.8 367.0 582.6 376.0 579.0 378.3 578.1 380.0 581.0 383.0 584.0 381.6 583.7 383.0 581.2 385.0 581.3 393.0 585.0 394.8 590.0 393.2 594.0 394.8 594.9 397.0 593.6 400.0 595.3 403.0 594.0 404.2 588.0 403.3 585.9 404.0 589.2 407.0 591.3 413.0 595.0 414.7 595.5 416.0 594.9 418.0 592.0 420.2 590.8 420.0 590.0 417.9 586.0 419.2 584.1 425.0 585.0 429.1 591.8 433.0 591.8 437.0 593.4 442.0 593.8 448.0 592.0 451.0 591.6 454.0 592.7 459.0 588.0 468.0 589.0 470.3 591.0 471.6 593.0 470.0 593.9 467.0 595.0 466.3 597.0 466.7 597.6 468.0 596.0 471.9 592.0 475.0 589.5 483.0 591.0 486.1 595.8 488.0 593.7 495.0 598.7 493.0 599.0 490.0 600.0 489.6 601.2 491.0 597.6 500.0 598.1 505.0 597.4 507.0 594.0 509.0 589.0 506.5 587.3 508.0 585.1 513.0 585.2 515.0 588.8 519.0 588.7 522.0 581.8 525.0 579.9 532.0 582.0 534.1 588.0 530.9 588.8 533.0 584.5 539.0 584.0 543.0 580.0 542.6 576.0 540.2 575.2 541.0 575.1 542.0 577.4 544.0 579.3 549.0 577.0 553.3 576.3 551.0 573.4 548.0 573.0 543.5 570.9 544.0 570.4 547.0 571.9 552.0 573.3 554.0 576.3 555.0 576.2 557.0 572.5 561.0 573.0 563.0 572.0 564.1M563.0 348.9 559.6 348.0 558.2 346.0 558.8 345.0 562.0 342.9 566.0 344.6 569.0 343.1 569.3 345.0 565.0 345.6 563.0 348.9M568.0 357.3 566.0 356.8 562.9 352.0 563.0 349.1 565.8 350.0 567.0 351.7 569.0 355.0 568.0 357.3M502.6 358.0 503.0 354.9 499.0 354.3 495.0 350.2 494.0 350.6 494.6 355.0 502.6 358.0M833.0 365.2 825.2 363.0 824.4 359.0 821.3 357.0 822.0 355.5 823.0 355.2 825.3 357.0 828.0 362.4 834.0 362.9 833.0 365.2M806.0 360.2 801.9 360.0 801.0 359.0 807.0 356.9 808.9 359.0 806.0 360.2M814.0 366.3 812.0 366.4 809.2 361.0 809.5 359.0 812.0 359.2 813.1 363.0 815.7 365.0 814.0 366.3M773.0 369.3 770.0 369.8 768.4 368.0 768.3 365.0 769.7 363.0 769.0 359.9 770.0 360.0 770.3 362.0 774.3 366.0 773.0 369.3M835.0 723.8 829.4 725.0 828.7 723.0 831.0 722.5 831.9 721.0 832.0 717.5 831.0 716.9 828.0 720.6 824.9 719.0 826.1 715.0 824.7 712.0 824.5 708.0 820.4 704.0 819.0 700.8 812.0 698.3 809.3 696.0 810.0 693.2 815.0 695.0 818.5 692.0 818.3 690.0 815.6 689.0 813.6 687.0 815.4 683.0 812.0 679.3 810.0 678.9 809.2 675.0 808.0 674.0 808.0 672.8 811.3 669.0 813.1 662.0 810.0 660.1 807.0 655.7 804.0 653.6 802.0 653.8 800.2 652.0 799.6 648.0 797.6 645.0 799.6 644.0 800.2 642.0 795.9 635.0 796.0 630.6 792.0 628.9 789.0 625.3 782.0 628.6 780.3 627.0 779.1 623.0 775.0 621.3 773.6 618.0 769.5 613.0 769.4 610.0 775.3 608.0 775.2 607.0 773.0 605.6 771.2 606.0 764.0 613.4 762.0 609.1 759.7 610.0 758.6 605.0 760.1 601.0 756.0 597.1 749.4 600.0 746.0 603.5 742.9 603.0 742.7 601.0 745.8 598.0 744.7 592.0 745.3 591.0 749.0 591.2 755.0 595.2 757.0 591.6 760.7 589.0 760.4 588.0 759.0 587.1 756.0 588.8 753.7 588.0 755.8 583.0 751.0 578.2 748.0 579.7 744.0 579.1 743.1 581.0 746.3 583.0 746.3 584.0 742.7 588.0 743.9 591.0 737.9 593.0 737.3 592.0 738.8 584.0 737.0 582.6 733.0 583.9 730.5 580.0 733.0 575.8 739.0 576.4 741.0 575.4 741.5 572.0 737.0 568.5 729.0 573.5 726.1 572.0 725.8 571.0 727.0 569.2 729.0 568.3 735.9 567.0 736.5 559.0 735.0 558.6 733.0 561.6 731.0 561.9 730.0 559.7 725.0 559.7 723.4 561.0 724.0 564.0 722.0 564.7 721.0 563.4 721.0 560.4 723.0 559.7 724.0 557.3 730.0 550.9 731.9 547.0 731.8 546.0 727.4 542.0 729.0 534.8 736.0 538.0 737.2 541.0 741.0 542.8 744.0 539.0 743.7 538.0 739.0 535.6 736.0 535.3 734.0 533.2 729.0 532.5 723.5 530.0 723.4 529.0 726.0 528.3 727.5 526.0 727.3 523.0 728.2 521.0 726.4 518.0 728.3 515.0 728.3 513.0 725.0 510.2 719.0 510.3 715.0 505.6 712.2 504.0 711.9 502.0 717.0 501.4 718.0 498.1 725.0 499.6 727.2 498.0 727.0 497.0 725.0 494.8 722.0 493.9 718.0 489.0 716.0 491.9 712.3 491.0 712.2 488.0 710.3 485.0 712.0 479.1 717.0 477.3 719.1 475.0 718.2 473.0 714.0 472.2 713.6 471.0 714.0 468.8 716.0 467.1 717.0 463.1 719.0 462.7 722.9 464.0 721.1 473.0 724.0 474.8 725.0 474.9 726.2 473.0 726.2 469.0 731.0 467.0 731.0 463.8 726.0 462.5 726.2 459.0 725.0 455.0 729.7 451.0 730.0 446.4 735.0 446.0 743.0 440.4 745.0 440.1 745.9 441.0 745.7 443.0 744.0 444.7 741.0 445.2 738.0 447.0 737.2 451.0 738.0 452.3 742.0 451.2 744.0 451.5 747.0 453.6 750.0 453.3 751.5 452.0 754.4 440.0 752.0 440.5 751.3 439.0 756.3 432.0 756.1 428.0 754.3 426.0 756.5 420.0 759.0 419.1 760.4 420.0 761.3 423.0 765.4 427.0 767.0 433.2 769.5 431.0 770.9 424.0 769.0 422.3 766.0 422.9 764.0 421.9 762.9 420.0 764.0 417.2 766.0 416.5 769.0 417.4 774.0 417.3 777.0 418.5 784.0 416.1 784.7 414.0 784.0 412.6 783.0 412.3 781.0 413.6 775.0 410.8 770.0 412.1 768.7 411.0 768.8 409.0 770.0 407.5 772.4 407.0 774.0 402.1 783.0 401.8 784.0 400.3 785.6 400.0 784.9 397.0 785.5 394.0 787.0 392.5 789.0 392.8 790.3 391.0 787.0 386.0 788.4 384.0 791.0 382.6 793.0 383.5 796.0 392.0 800.8 387.0 800.6 385.0 796.9 382.0 796.6 377.0 797.8 375.0 795.3 371.0 797.0 369.2 800.0 368.3 801.7 370.0 802.4 374.0 801.2 376.0 801.3 380.0 804.8 382.0 807.0 385.5 808.0 385.6 810.0 382.7 811.0 382.7 814.0 386.6 820.6 386.0 820.8 387.0 814.2 392.0 817.0 396.2 823.0 399.0 826.1 397.0 827.2 395.0 825.6 393.0 825.1 390.0 826.0 388.5 827.9 391.0 828.8 395.0 834.0 395.3 835.0 397.2M775.0 396.1 773.0 396.1 772.1 395.0 773.3 390.0 770.0 386.0 770.4 385.0 775.0 382.6 777.1 384.0 776.2 391.0 777.7 394.0 777.0 395.5 775.0 396.1M804.5 401.0 806.6 396.0 811.5 394.0 813.9 392.0 811.1 389.0 807.0 388.1 805.0 388.9 803.7 393.0 801.3 395.0 800.6 397.0 801.2 400.0 803.0 401.8 804.5 401.0M749.0 428.0 746.2 425.0 743.0 423.7 741.6 420.0 742.0 418.4 744.0 418.0 746.6 419.0 747.4 424.0 749.8 426.0 749.0 428.0M599.0 461.8 597.2 461.0 596.0 458.0 596.0 454.8 598.0 454.1 600.3 456.0 600.2 460.0 599.0 461.8M737.9 483.0 741.2 477.0 741.0 475.9 737.0 476.2 734.7 479.0 734.1 481.0 734.8 483.0 736.0 483.9 737.9 483.0M702.0 509.0 699.0 506.5 698.6 503.0 704.7 498.0 709.0 497.1 709.8 498.0 707.8 501.0 707.4 504.0 702.0 509.0M719.0 524.3 717.0 524.0 715.5 522.0 714.9 516.0 716.0 513.3 718.0 512.3 719.9 514.0 720.2 517.0 720.4 521.0 719.0 524.3M754.3 537.0 753.4 533.0 751.0 530.5 746.3 536.0 748.0 537.6 754.3 537.0M790.0 636.4 782.6 636.0 784.0 631.3 790.0 631.5 791.6 635.0 790.0 636.4M794.0 655.6 792.4 655.0 793.3 652.0 792.5 651.0 793.0 648.8 794.0 648.9 795.1 651.0 795.1 654.0 794.0 655.6M822.0 713.6 821.0 713.8 815.4 710.0 814.5 707.0 816.0 706.4 822.1 709.0 823.2 712.0 822.0 713.6M672.2 801.0 670.5 800.0 672.8 796.0 672.3 794.0 668.0 794.8 667.2 794.0 670.0 789.5 672.0 790.6 672.1 788.0 671.0 787.1 670.0 788.4 668.3 787.0 672.0 786.8 674.8 781.0 678.0 780.3 678.7 779.0 678.0 777.7 672.0 775.2 671.8 773.0 674.0 771.3 679.0 771.2 683.0 774.3 687.0 769.2 690.0 771.5 692.0 771.5 698.0 769.1 699.4 767.0 699.4 765.0 697.0 763.7 696.4 762.0 700.0 756.1 706.0 753.5 711.0 753.2 715.5 755.0 722.0 760.1 729.0 759.7 732.1 758.0 734.5 758.0 735.0 762.3 731.0 762.6 729.7 766.0 725.0 769.0 724.0 770.6 722.0 770.4 719.2 774.0 719.6 775.0 723.0 774.7 725.0 770.9 726.0 772.5 729.0 773.1 731.1 769.0 734.0 768.6 736.3 767.0 737.0 764.2 739.6 765.0 738.3 767.0 739.8 768.0 737.0 773.4 734.0 776.2 731.0 776.7 729.6 778.0 731.0 781.3 733.0 781.9 735.0 780.9 735.8 783.0 735.0 785.3 733.0 783.5 731.0 783.3 728.8 785.0 730.5 789.0 730.1 801.0M713.5 770.0 715.0 768.0 714.4 765.0 708.9 763.0 710.4 765.0 711.9 770.0 713.5 770.0M700.3 785.0 702.0 781.0 702.0 777.9 699.3 779.0 698.1 781.0 700.3 785.0M735.1 801.0 736.2 798.0 733.5 793.0 734.4 791.0 737.0 790.1 739.2 791.0 740.0 800.0 750.0 799.8 752.4 801.0" stroke="#2a788e" stroke-width="2.1" fill="none" stroke-linejoin="round"/><path d="M474.0 542.1 466.9 542.0 465.5 539.0 468.0 538.3 469.7 536.0 463.0 530.9 460.0 524.7 457.0 524.1 455.1 525.0 454.9 527.0 455.8 529.0 458.7 531.0 458.0 533.0 461.2 538.0 456.0 538.6 454.6 538.0 453.3 534.0 450.5 533.0 449.0 527.9 446.0 529.2 443.0 538.0 440.0 538.7 437.6 536.0 436.9 533.0 430.2 528.0 429.0 524.3 424.4 521.0 422.0 521.1 419.0 526.4 414.5 526.0 413.0 524.8 417.0 521.8 416.6 519.0 411.0 517.9 408.0 513.6 405.0 516.3 404.0 516.0 400.4 511.0 399.8 507.0 397.0 506.3 394.0 508.6 393.0 508.2 392.2 504.0 400.5 499.0 402.2 493.0 400.0 492.5 399.0 493.2 396.0 490.3 392.0 491.0 390.7 487.0 392.0 486.1 401.0 486.0 403.6 485.0 404.3 483.0 401.8 480.0 402.7 479.0 400.2 479.0 400.5 478.0 397.0 474.7 392.0 480.9 391.1 479.0 388.5 477.0 390.1 469.0 386.8 466.0 388.0 463.1 389.0 462.7 393.0 465.0 397.0 464.1 399.0 464.6 400.1 464.0 400.2 462.0 399.0 460.2 397.0 460.9 393.0 460.4 391.6 458.0 393.0 456.4 397.0 456.2 398.1 455.0 392.4 450.0 391.5 448.0 391.7 443.0 393.3 440.0 397.0 438.0 396.9 435.0 395.0 433.7 392.0 433.9 386.0 437.6 384.1 436.0 389.0 434.7 389.9 430.0 398.0 422.5 399.0 421.8 402.0 422.7 404.8 421.0 403.9 419.0 399.0 418.0 398.3 416.0 399.1 412.0 401.9 410.0 402.9 408.0 401.4 407.0 404.3 405.0 402.0 402.2 401.8 400.0 408.0 397.1 410.0 397.6 415.0 401.1 415.6 400.0 415.3 397.0 413.0 393.4 407.2 392.0 407.0 387.9 408.0 388.3 409.0 387.4 418.9 390.0 420.5 391.0 421.3 395.0 424.0 395.2 427.0 397.7 432.0 399.2 435.0 397.7 436.1 396.0 434.4 391.0 428.0 390.2 425.9 391.0 426.3 387.0 430.0 383.4 435.0 382.4 436.6 384.0 434.9 388.0 435.3 389.0 439.0 389.6 440.2 388.0 439.7 385.0 440.7 383.0 445.0 378.0 446.0 378.0 448.1 381.0 446.2 386.0 446.6 387.0 451.0 392.3 454.0 392.2 454.9 389.0 451.8 384.0 452.0 382.0 455.6 378.0 457.0 374.2 460.0 373.7 465.0 377.6 473.0 376.5 474.5 375.0 475.6 369.0 478.9 365.0 481.0 365.0 488.6 368.0 488.6 370.0 486.0 372.2 483.0 372.4 483.2 371.0 482.0 369.8 479.0 370.6 477.5 372.0 480.0 373.3 483.0 373.3 485.0 377.4 487.0 378.1 487.0 379.4 484.0 379.5 481.8 382.0 483.0 385.7 485.0 385.6 486.4 387.0 486.6 391.0 488.0 392.2 492.8 389.0 492.6 386.0 488.8 383.0 488.1 380.0 489.0 379.6 493.0 379.9 494.8 385.0 499.9 387.0 502.0 389.5 505.0 390.3 506.0 389.5 506.1 386.0 503.6 383.0 503.4 381.0 499.5 380.0 499.5 377.0 500.0 375.8 502.0 375.6 505.0 372.9 508.0 372.4 510.9 373.0 511.5 374.0 507.1 379.0 510.0 383.0 514.2 384.0 514.8 388.0 513.7 391.0 515.0 392.4 520.0 393.0 525.0 392.2 530.9 388.0 530.8 386.0 534.0 387.6 536.1 387.0 537.0 384.0 540.9 385.0 541.6 386.0 540.8 393.0 539.0 395.7 538.0 396.3 534.0 393.7 531.2 396.0 531.3 398.0 535.6 405.0 535.1 409.0 532.0 411.0 531.8 414.0 539.6 416.0 540.6 419.0 539.7 423.0 543.0 424.7 545.4 424.0 544.4 420.0 545.0 418.7 550.0 416.1 551.0 416.8 550.0 418.3 549.0 418.1 549.4 422.0 546.9 425.0 545.3 431.0 549.0 432.5 555.0 430.5 556.6 432.0 556.1 433.0 558.0 433.3 563.3 437.0 561.0 442.2 555.5 439.0 554.9 441.0 555.8 446.0 553.0 447.0 552.5 448.0 553.0 450.0 556.6 453.0 557.0 457.7 559.1 456.0 557.4 454.0 559.3 450.0 558.1 446.0 562.0 443.6 566.3 446.0 567.1 447.0 566.8 451.0 572.8 456.0 572.0 456.6 567.5 456.0 565.0 454.8 563.0 452.2 561.8 454.0 562.0 455.2 564.6 456.0 565.9 464.0 564.0 467.0 562.0 465.5 561.2 467.0 565.0 467.7 565.9 471.0 564.6 473.0 566.0 477.0 565.0 477.6 562.0 475.3 560.0 475.6 558.4 471.0 556.0 470.4 552.0 474.0 550.0 478.1 549.0 478.5 548.0 476.0 546.0 474.5 540.9 477.0 541.0 480.0 545.8 485.0 543.0 485.8 536.0 481.7 532.5 484.0 532.1 485.0 533.0 486.0 531.8 487.0 534.0 486.1 535.7 488.0 537.8 492.0 537.0 494.1 534.0 495.1 532.0 494.7 529.4 490.0 528.0 489.5 521.9 492.0 521.3 497.0 522.0 499.4 527.0 500.8 530.0 498.5 534.0 504.0 536.0 504.8 538.0 507.5 543.0 508.0 546.9 506.0 546.5 504.0 541.9 500.0 543.5 497.0 543.1 494.0 547.0 492.8 551.0 488.0 554.8 489.0 554.2 496.0 555.4 499.0 552.9 504.0 552.5 509.0 554.7 512.0 556.0 519.1 555.0 519.7 552.6 519.0 551.0 517.4 549.8 514.0 546.0 512.2 544.6 513.0 543.9 519.0 540.0 519.1 538.0 522.7 535.7 522.0 534.0 519.7 530.0 517.7 527.0 517.6 524.0 519.0 521.0 518.0 519.0 518.9 518.1 520.0 521.9 525.0 519.0 528.7 516.1 528.0 514.0 522.4 511.0 522.0 510.3 523.0 511.6 526.0 511.3 530.0 512.9 532.0 512.0 535.3 510.0 537.9 508.0 535.0 509.5 531.0 508.0 529.6 500.0 531.0 497.0 532.6 492.0 531.2 490.8 530.0 489.4 528.0 491.7 524.0 490.0 523.4 488.0 524.5 485.7 522.0 485.7 519.0 483.1 517.0 483.9 514.0 487.0 511.5 489.0 511.5 490.9 510.0 490.0 508.3 487.0 507.5 482.0 510.3 481.2 512.0 481.8 517.0 482.7 518.0 482.4 524.0 484.0 526.0 484.1 528.0 478.0 531.4 475.9 531.0 474.1 530.0 475.3 525.0 474.0 523.2 473.7 524.0 474.3 526.0 472.8 528.0 472.7 533.0 475.2 541.0 474.0 542.1M445.0 377.8 441.8 376.0 441.2 374.0 445.0 371.8 446.0 372.2 446.1 371.0 448.0 369.8 450.0 370.0 452.1 372.0 452.0 373.0 451.0 373.9 447.0 374.3 445.0 377.8M435.0 379.3 433.3 379.0 431.0 376.1 427.1 376.0 429.0 372.0 436.0 375.9 436.4 378.0 435.0 379.3M518.0 383.1 515.0 382.7 517.0 377.8 518.0 378.0 519.3 381.0 518.0 383.1M468.1 387.0 472.0 384.9 474.0 386.2 475.3 385.0 475.0 384.0 468.0 382.2 466.7 385.0 467.0 387.2 468.1 387.0M473.3 396.0 474.0 394.0 473.0 392.3 469.0 392.0 466.7 393.0 466.9 396.0 468.0 396.7 473.3 396.0M510.6 401.0 512.1 399.0 511.5 398.0 508.0 396.2 506.0 396.5 504.8 400.0 509.0 401.9 510.6 401.0M487.1 405.0 487.8 402.0 485.7 398.0 484.0 397.2 482.0 397.9 479.9 401.0 480.0 402.5 483.0 402.7 487.1 405.0M551.0 407.4 549.0 406.3 547.0 402.0 545.6 401.0 545.9 398.0 549.0 398.7 552.0 402.5 552.4 406.0 551.0 407.4M429.4 417.0 436.8 411.0 436.7 407.0 433.0 408.8 431.0 408.6 427.1 405.0 426.9 402.0 425.4 400.0 423.0 400.4 421.8 403.0 421.8 407.0 419.7 411.0 423.0 411.5 428.0 409.6 430.0 409.8 430.3 412.0 426.0 415.0 427.0 416.9 429.4 417.0M501.2 404.0 502.6 401.0 497.0 399.3 496.0 400.0 496.2 402.0 498.3 404.0 500.0 404.6 501.2 404.0M559.0 411.1 556.1 409.0 557.0 407.6 563.0 406.4 564.4 407.0 563.3 409.0 559.0 411.1M441.6 415.0 444.5 413.0 443.8 411.0 440.0 410.7 437.4 412.0 439.0 414.3 441.6 415.0M581.0 416.4 575.0 415.6 574.7 414.0 581.0 413.0 582.5 415.0 581.0 416.4M417.7 450.0 418.0 447.0 414.7 443.0 415.4 440.0 413.5 436.0 414.2 432.0 416.4 430.0 416.0 428.7 413.7 428.0 413.6 427.0 417.0 422.0 416.3 418.0 417.5 414.0 412.0 413.7 407.9 418.0 407.2 420.0 409.0 426.4 411.8 427.0 412.1 428.0 410.0 429.3 408.0 427.2 405.5 430.0 409.0 433.0 409.2 438.0 412.1 441.0 412.9 445.0 415.2 447.0 416.2 450.0 417.0 450.6 417.7 450.0M486.2 422.0 487.4 421.0 488.1 418.0 486.0 415.1 484.0 414.7 482.7 417.0 482.8 420.0 486.2 422.0M555.5 466.0 556.6 465.0 557.0 461.4 553.0 461.3 551.0 463.3 549.0 463.1 548.8 461.0 550.6 458.0 545.8 454.0 548.4 451.0 545.4 449.0 545.2 446.0 550.2 445.0 550.3 444.0 547.7 441.0 547.9 438.0 542.0 435.5 539.7 438.0 537.0 443.6 534.0 445.4 532.5 440.0 535.4 438.0 538.3 433.0 537.0 430.1 530.0 425.6 528.2 426.0 521.0 424.0 519.7 421.0 522.3 417.0 516.0 417.1 515.0 415.7 514.0 415.9 515.0 417.0 512.8 418.0 513.0 420.7 515.1 422.0 518.0 426.7 522.3 429.0 523.7 433.0 522.0 434.5 518.0 434.6 516.0 436.5 512.2 438.0 511.8 439.0 513.2 442.0 514.0 442.9 518.0 441.4 521.0 441.8 525.0 434.9 528.1 439.0 531.7 447.0 527.6 452.0 529.0 455.7 537.0 458.4 541.0 456.9 543.1 453.0 542.0 453.3 541.6 452.0 543.0 450.2 544.3 452.0 544.5 455.0 542.6 464.0 545.0 465.3 552.0 464.9 553.0 466.4 555.5 466.0M793.0 437.1 792.0 437.6 791.5 434.0 788.2 432.0 788.0 426.0 791.9 419.0 794.0 418.3 797.8 421.0 793.5 427.0 794.0 428.4 796.2 429.0 797.0 431.0 793.3 433.0 794.3 435.0 793.0 437.1M805.0 431.2 802.0 431.0 798.7 427.0 797.2 423.0 798.2 421.0 803.0 422.2 806.0 426.5 810.3 427.0 811.5 429.0 810.0 430.7 805.0 431.2M514.5 432.0 516.8 430.0 514.0 428.9 511.0 425.4 509.0 425.4 508.5 428.0 511.0 431.8 514.5 432.0M576.0 435.1 571.0 432.1 571.0 427.2 572.2 427.0 576.0 431.0 576.7 433.0 576.0 435.1M421.8 435.0 426.6 434.0 430.0 431.0 426.0 429.9 422.0 431.9 419.0 432.1 418.3 433.0 419.0 434.9 421.8 435.0M471.1 435.0 480.0 432.5 480.9 430.0 479.0 429.2 476.0 430.8 473.0 430.8 467.1 434.0 471.1 435.0M835.0 501.4 833.0 502.4 829.0 502.1 825.0 503.9 822.0 500.6 817.0 500.4 815.8 502.0 816.8 505.0 815.5 508.0 816.2 511.0 815.0 513.3 814.0 514.1 812.0 513.7 803.0 519.2 799.6 523.0 798.5 526.0 797.0 526.7 787.4 519.0 778.8 508.0 780.0 506.4 782.2 506.0 784.0 510.0 788.0 512.6 789.1 508.0 788.5 504.0 789.0 503.0 791.0 502.4 794.0 503.0 794.8 504.0 795.3 505.0 794.0 508.0 795.0 510.4 799.0 511.3 799.5 507.0 801.0 506.0 800.8 502.0 802.0 498.2 807.0 497.9 810.1 499.0 809.0 495.7 805.5 494.0 804.0 490.4 802.0 490.2 799.4 491.0 801.1 496.0 800.0 496.8 797.0 497.1 793.0 495.7 786.8 501.0 785.0 501.5 781.6 498.0 787.0 497.0 788.0 487.0 792.0 486.2 802.0 478.2 803.5 474.0 801.6 468.0 805.0 468.2 806.8 467.0 802.3 463.0 802.3 461.0 804.7 458.0 801.0 453.1 796.7 455.0 797.5 461.0 793.5 462.0 792.3 467.0 792.3 470.0 796.3 471.0 796.9 474.0 793.4 475.0 792.0 471.0 787.0 470.4 785.3 469.0 785.4 468.0 788.7 466.0 790.7 463.0 790.4 457.0 788.6 455.0 790.0 454.7 796.0 446.2 799.7 445.0 801.0 440.0 800.0 437.0 801.0 434.6 802.0 434.4 804.0 436.3 809.0 437.8 810.2 439.0 809.5 441.0 804.0 444.8 800.1 446.0 802.0 451.4 805.0 448.7 809.0 450.0 810.1 452.0 808.9 455.0 809.1 457.0 814.0 462.4 813.6 458.0 816.1 453.0 815.2 450.0 819.7 448.0 821.0 443.0 817.2 440.0 817.3 438.0 812.7 435.0 812.2 433.0 814.0 431.6 817.0 431.2 825.0 434.3 825.4 436.0 822.4 442.0 826.4 445.0 828.4 450.0 827.0 452.3 823.0 454.5 822.6 457.0 826.0 457.0 830.0 454.7 831.0 455.2 832.7 461.0 834.9 464.0 832.0 467.0 828.0 467.3 825.0 472.3 822.0 474.6 814.0 468.5 811.0 468.1 809.7 471.0 811.7 474.0 811.8 476.0 806.6 480.0 807.5 485.0 805.6 489.0 807.4 489.0 808.8 485.0 810.0 484.1 818.0 482.7 821.0 475.9 821.7 480.0 819.2 483.0 819.7 486.0 818.6 490.0 819.0 491.7 822.0 489.4 825.0 488.8 828.4 485.0 829.0 484.0 827.8 481.0 830.0 478.1 832.0 478.7 835.0 482.6M451.4 451.0 451.8 445.0 449.0 444.4 447.0 439.2 439.0 439.1 436.0 437.4 433.0 437.6 433.0 440.0 434.0 441.3 439.0 442.6 442.0 444.7 447.5 445.0 448.3 448.0 451.4 451.0M480.1 460.0 480.6 458.0 478.1 454.0 482.0 450.0 482.2 448.0 481.4 443.0 479.0 441.9 474.5 444.0 474.1 445.0 475.0 446.8 478.8 449.0 477.0 451.9 475.0 452.3 472.0 449.4 469.0 449.2 467.0 450.0 464.9 454.0 467.0 455.3 473.0 453.5 475.8 460.0 478.0 460.7 480.1 460.0M512.8 449.0 513.4 447.0 511.3 445.0 506.0 444.8 503.0 442.0 501.1 443.0 500.8 446.0 504.0 448.8 509.0 448.1 512.8 449.0M403.5 454.0 403.9 450.0 406.4 446.0 404.0 444.1 399.0 442.8 401.6 449.0 402.0 454.0 403.5 454.0M422.3 461.0 423.7 459.0 424.5 451.0 427.0 447.4 429.3 446.0 429.0 443.8 421.4 444.0 421.0 445.0 423.2 448.0 421.6 455.0 417.0 454.8 415.2 457.0 415.6 459.0 417.0 460.0 422.3 461.0M492.3 450.0 491.0 444.6 490.0 443.6 488.0 443.9 488.1 448.0 491.0 450.3 492.3 450.0M787.0 455.1 784.5 454.0 782.0 449.1 778.0 450.5 777.0 450.4 776.7 449.0 778.0 447.5 780.0 447.3 783.0 448.5 785.0 447.6 787.0 448.6 787.8 454.0 787.0 455.1M442.7 471.0 447.3 470.0 449.1 468.0 449.0 465.0 446.9 460.0 447.4 456.0 446.0 454.0 444.2 455.0 443.0 459.0 444.2 464.0 443.2 467.0 442.0 468.3 438.0 469.0 439.0 471.6 442.7 471.0M408.4 462.0 413.1 458.0 413.2 457.0 411.0 456.1 407.1 458.0 407.6 462.0 408.4 462.0M509.7 467.0 510.6 465.0 509.0 461.4 502.0 456.5 499.2 457.0 498.8 463.0 502.0 467.3 506.0 466.4 509.7 467.0M477.5 471.0 477.7 469.0 482.0 468.7 485.9 466.0 486.3 459.0 485.0 458.8 484.0 462.0 480.0 464.7 477.0 465.9 473.8 466.0 474.0 471.1 475.0 471.7 477.5 471.0M532.6 470.0 531.0 464.0 528.0 462.7 528.3 468.0 530.0 469.9 532.6 470.0M577.0 471.4 576.0 471.0 576.9 468.0 582.0 464.9 584.3 465.0 583.7 468.0 580.0 468.7 577.0 471.4M411.2 478.0 412.0 472.0 406.2 469.0 405.0 465.8 403.0 465.2 402.5 467.0 404.8 470.0 406.3 475.0 410.0 478.1 411.2 478.0M502.2 480.0 504.0 478.0 504.7 475.0 508.3 472.0 507.0 471.0 504.3 472.0 500.9 476.0 500.3 479.0 501.0 480.3 502.2 480.0M522.2 487.0 524.0 485.2 528.0 484.0 527.9 482.0 524.4 479.0 525.8 475.0 524.0 473.9 520.0 473.9 517.0 471.8 514.0 472.3 512.7 474.0 513.4 475.0 518.0 475.7 518.8 479.0 521.0 482.0 519.0 483.0 516.0 481.6 513.8 483.0 516.0 485.3 522.2 487.0M469.9 480.0 473.0 477.6 473.0 476.0 470.0 475.9 467.3 477.0 466.8 480.0 469.9 480.0M576.0 483.2 569.2 481.0 567.3 477.0 571.0 475.9 575.0 480.5 578.0 480.8 579.0 477.9 581.0 477.0 581.0 480.6 579.0 482.4 576.0 483.2M559.0 487.3 556.5 486.0 554.8 482.0 559.0 477.1 561.7 478.0 563.6 482.0 559.0 487.3M418.5 486.0 420.8 482.0 421.0 479.5 415.0 480.6 413.6 482.0 416.0 485.8 418.5 486.0M443.0 490.0 444.1 488.0 443.6 485.0 442.0 483.6 440.0 483.7 438.3 486.0 438.0 488.0 443.0 490.0M466.5 489.0 471.0 487.3 471.6 485.0 470.0 484.5 463.8 487.0 463.8 489.0 466.5 489.0M573.0 497.0 571.0 498.0 568.3 497.0 567.0 490.7 563.5 494.0 562.9 496.0 561.0 497.2 559.9 492.0 561.0 489.1 566.0 488.9 569.0 484.7 579.0 484.6 585.0 486.6 585.7 488.0 585.0 489.3 578.0 488.8 573.8 491.0 573.0 497.0M488.0 502.0 491.0 499.1 495.2 499.0 495.8 493.0 491.0 492.5 487.0 490.5 487.9 495.0 485.0 501.0 486.0 502.6 488.0 502.0M474.1 500.0 479.8 498.0 480.2 494.0 478.0 491.6 472.0 494.2 470.3 496.0 470.0 499.2 474.1 500.0M425.3 502.0 426.0 498.0 428.0 496.9 425.0 496.8 420.9 501.0 422.0 502.8 425.3 502.0M443.6 507.0 449.0 504.3 449.8 503.0 446.0 500.0 444.0 496.8 443.0 496.7 440.1 501.0 442.1 504.0 442.8 507.0 443.6 507.0M457.2 504.0 462.2 500.0 462.0 498.0 460.0 498.2 455.6 501.0 455.6 504.0 457.2 504.0M434.5 509.0 433.2 506.0 433.5 501.0 433.0 500.1 431.0 500.1 429.0 502.0 429.6 505.0 433.0 509.4 434.5 509.0M416.0 509.0 417.4 507.0 417.0 503.0 415.0 501.3 412.6 507.0 414.0 509.0 416.0 509.0M775.0 509.7 774.0 509.9 770.8 506.0 772.0 501.6 775.0 502.0 777.0 503.7 777.3 507.0 775.0 509.7M474.9 510.0 478.6 509.0 478.3 507.0 475.0 505.4 472.3 506.0 471.2 507.0 471.2 509.0 472.5 510.0 474.9 510.0M523.4 515.0 525.0 514.0 526.4 506.0 522.0 509.5 519.0 510.0 515.8 512.0 517.0 514.0 520.0 513.5 523.4 515.0M812.3 511.0 813.9 509.0 813.4 507.0 811.0 505.5 809.0 506.0 808.0 508.0 808.5 510.0 811.0 511.9 812.3 511.0M562.0 515.4 561.0 515.9 559.6 514.0 559.8 512.0 562.5 508.0 568.0 506.8 568.9 509.0 565.8 511.0 564.2 514.0 562.0 515.4M499.7 522.0 499.0 515.0 497.1 513.0 498.0 508.9 495.6 512.0 495.2 518.0 496.3 522.0 498.0 523.0 499.7 522.0M445.1 516.0 449.0 514.9 449.5 513.0 447.0 512.6 442.0 509.8 440.9 512.0 445.1 516.0M835.0 537.1 833.0 534.1 829.0 535.6 827.0 534.7 826.9 533.0 828.6 530.0 827.3 522.0 828.0 517.0 824.3 513.0 824.2 511.0 825.0 510.5 829.0 511.7 830.5 515.0 835.0 517.3M798.4 520.0 803.0 516.5 805.4 516.0 805.5 514.0 802.0 514.6 800.0 513.9 795.0 517.5 795.5 520.0 797.0 520.6 798.4 520.0M446.1 525.0 446.8 524.0 445.0 517.7 441.0 519.8 437.8 517.0 434.0 515.3 429.9 516.0 430.7 518.0 435.0 521.1 438.6 522.0 442.0 525.6 446.1 525.0M798.0 545.5 796.0 545.8 791.0 542.7 789.0 543.9 787.5 542.0 789.0 540.5 791.0 540.8 792.0 540.0 796.8 534.0 800.0 533.2 800.9 531.0 800.9 527.0 802.0 525.5 804.0 524.9 807.0 525.9 812.0 522.1 814.0 522.3 817.0 529.2 819.0 530.6 821.0 529.8 821.0 531.7 820.0 532.2 819.0 531.4 815.0 533.1 811.0 530.2 807.0 533.3 801.0 534.5 800.0 536.0 800.6 538.0 805.1 542.0 804.7 543.0 798.0 545.5M479.0 544.1 478.6 543.0 480.7 538.0 478.9 535.0 479.7 533.0 487.0 533.1 487.3 537.0 489.1 540.0 488.4 542.0 486.0 543.7 484.0 542.6 481.0 542.5 479.0 544.1M835.0 641.4 830.0 640.7 825.0 642.0 822.5 641.0 821.8 638.0 824.0 634.9 828.0 634.5 830.0 636.0 832.6 634.0 833.4 631.0 832.0 629.0 830.0 629.8 828.0 632.1 826.6 631.0 826.2 628.0 824.1 624.0 825.0 622.3 827.0 622.6 828.0 621.7 828.3 619.0 827.4 618.0 823.0 617.4 819.0 619.3 817.1 619.0 817.0 616.1 821.0 615.2 824.4 611.0 823.0 607.3 819.4 606.0 824.8 602.0 822.2 600.0 815.0 596.7 810.0 596.4 807.0 594.7 804.9 597.0 809.5 599.0 809.8 602.0 805.0 602.7 801.0 605.4 798.6 602.0 796.0 601.7 793.3 605.0 797.5 610.0 797.7 612.0 792.0 611.5 790.7 610.0 791.0 605.0 795.0 599.2 795.0 595.0 799.0 592.7 802.0 593.1 803.7 592.0 803.0 589.0 798.6 586.0 797.0 583.1 795.0 581.9 795.0 579.5 798.0 576.2 801.0 579.8 803.0 579.8 809.3 574.0 814.0 572.3 817.0 567.2 824.8 565.0 821.9 562.0 821.2 557.0 814.0 549.2 808.0 551.1 805.0 553.3 803.3 552.0 803.0 550.0 806.1 547.0 806.9 543.0 809.5 541.0 810.0 536.0 812.0 535.1 814.0 538.9 816.0 539.3 818.2 535.0 821.0 533.2 822.7 536.0 821.3 541.0 822.0 543.4 828.0 543.6 832.0 545.0 835.0 544.6M496.0 543.3 492.6 542.0 491.7 540.0 492.3 539.0 494.0 538.3 497.0 539.4 498.2 542.0 496.0 543.3M788.0 565.5 785.9 565.0 787.3 561.0 786.2 556.0 789.0 554.0 789.7 549.0 793.8 548.0 794.7 549.0 794.1 552.0 789.7 555.0 791.6 558.0 791.7 561.0 788.0 565.5M835.0 558.7 832.1 557.0 829.0 548.8 828.0 547.8 826.2 548.0 827.4 555.0 826.2 559.0 828.0 561.6 830.4 562.0 831.2 563.0 825.1 565.0 828.0 567.9 831.0 569.3 833.8 569.0 835.0 567.1M774.0 554.3 772.0 554.1 768.2 551.0 774.9 551.0 774.0 554.3M813.0 566.2 810.2 566.0 809.0 561.9 807.0 564.3 803.4 562.0 806.0 561.0 807.7 558.0 812.0 555.6 813.3 556.0 815.5 562.0 815.0 564.2 813.0 566.2M797.0 574.3 792.0 573.2 791.0 571.0 796.0 563.0 797.7 562.0 795.6 558.0 796.0 556.1 797.0 556.0 799.0 557.4 799.7 560.0 797.6 565.0 795.1 568.0 797.3 572.0 797.0 574.3M780.0 576.4 778.0 576.4 777.0 575.4 776.0 571.6 782.0 571.7 783.6 573.0 783.1 575.0 780.0 576.4M835.0 575.5 832.0 574.8 829.0 571.9 824.0 572.5 822.0 571.5 820.1 573.0 819.6 575.0 821.0 576.3 824.0 573.9 831.3 578.0 835.0 578.3M784.0 588.2 780.0 586.0 780.0 582.0 784.9 586.0 785.0 587.3 784.0 588.2M820.4 594.0 821.9 589.0 821.0 586.3 817.0 586.1 812.1 590.0 813.0 592.5 816.0 592.8 819.0 594.9 820.4 594.0M835.0 586.1 828.0 588.9 824.9 594.0 827.0 596.7 830.0 594.8 835.0 596.7M835.0 599.8 831.0 602.3 825.1 602.0 827.1 607.0 826.7 611.0 829.0 614.2 832.0 614.8 834.0 612.9 835.0 613.2M814.0 615.2 807.8 614.0 809.6 613.0 813.0 606.6 819.0 606.4 819.5 607.0 815.5 612.0 815.0 615.0 814.0 615.2M809.0 626.5 799.2 624.0 798.9 623.0 801.3 620.0 801.4 613.0 802.9 613.0 803.0 614.0 806.0 615.5 804.3 619.0 804.4 621.0 807.0 623.7 810.7 625.0 809.0 626.5M814.0 624.1 811.6 620.0 813.0 617.7 816.5 619.0 816.3 621.0 814.0 624.1M831.0 663.8 829.1 663.0 828.2 661.0 828.9 658.0 827.0 656.0 822.0 657.0 819.1 655.0 825.0 652.1 831.0 651.9 829.7 656.0 832.0 658.3 833.1 661.0 831.0 663.8" stroke="#414487" stroke-width="2.1" fill="none" stroke-linejoin="round"/></g><g clip-path="url(#clipAxL)"><g fill="none" stroke="#fff" stroke-width="1.8" stroke-linejoin="round"><path d="M300.0 103.0 L315.5 125.0 L337.0 140.5 L350.0 139.0 L378.0 140.5 L393.0 145.0 L396.5 151.0 L403.0 157.6 L399.7 165.4 L384.0 174.8 L368.5 184.0 L357.6 196.6 L359.0 202.8 L384.0 199.7 L415.0 196.6 L449.5 192.9 L477.6 192.9 L511.8 196.6 L543.0 196.6 L549.0 190.4 L555.5 193.5 L580.0 190.4 L602.0 185.7 L614.7 181.0 L617.8 173.2 L605.0 167.0 L589.7 159.2 L571.0 146.7 L549.0 140.5 L524.0 137.4 L511.8 134.3 L501.0 139.0 L499.4 131.2 L505.6 123.4 L511.8 115.6 L499.4 109.3 L477.6 104.7 L462.0 102.0"/><path d="M650.5 102.0 L650.5 112.5 L653.6 123.4 L667.6 121.8 L689.5 115.6 L700.4 104.7 L701.0 102.0"/><path d="M823.5 202.8 L804.8 199.7 L795.0 202.8 L786.0 213.7 L761.0 212.0 L742.4 206.0 L717.5 199.7 L692.6 193.5 L677.0 196.6 L670.8 202.8 L669.0 207.5 L670.8 215.3 L689.5 221.5 L711.0 227.8 L723.7 234.0 L717.5 243.3 L720.6 255.8 L726.9 268.3 L736.2 280.7 L748.7 287.0 L750.2 296.3 L739.3 299.4 L726.9 302.5 L695.7 302.5 L664.5 297.9 L642.7 294.8 L617.8 290.0 L602.2 288.5 L596.0 299.4 L596.0 308.8 L611.6 315.0 L627.0 324.4 L636.5 333.7 L642.7 330.6 L649.0 321.3 L680.0 319.7 L711.3 322.8 L742.4 321.9 L767.4 319.7 L783.0 324.4 L795.4 336.8 L801.6 349.3 L804.8 358.6 L817.2 364.9 L825.0 370.0"/><path d="M312.4 315.0 L321.7 304.0 L343.6 299.4 L377.8 301.0 L406.0 305.7 L427.7 315.0 L449.5 324.4 L462.0 333.7 L468.2 343.0 L455.7 346.2 L430.8 343.0 L421.5 338.4 L412.0 346.2 L399.7 358.6 L390.3 352.4 L377.8 346.2 L353.0 344.6 L337.3 333.7 L315.5 321.3 L312.4 315.0Z"/><path d="M728.0 796.0 L750.0 782.0 L771.0 767.0 L781.5 756.5 L792.0 743.0 L813.5 740.5 L825.0 742.0"/><ellipse cx="697" cy="276" rx="19" ry="6" transform="rotate(28 697 276)"/><path d="M236 109L244 113M252 119L265 127M268 129L281 138M289 138L298 142M304 145L312 151M184 216L196 211M201 211L213 207" stroke-width="3.2" stroke-linecap="round"/><path d="M611.6 827.4 L629.7 821.4 L655.4 824.4 L676.5 821.4 L697.6 809.3 L720.3 794.2 L742.9 788.2 L758.0 777.6 L764.0 767.0 L763.3 758.0 L768.5 755.0 L780.6 750.4 L788.2 745.9 L800.2 741.4 L815.3 744.4 L827.4 748.9 L833.0 754.0"/><path d="M833.0 772.0 L827.4 776.1 L824.4 785.2 L815.3 794.2 L788.2 800.2 L776.0 806.3 L777.6 818.3 L783.6 830.4"/></g></g><g><circle cx="465" cy="455" r="15" fill="none" stroke="#414487" stroke-width="2"/><circle cx="465" cy="455" r="11.5" fill="#2a788e"/><circle cx="465.5" cy="455.5" r="9.5" fill="#22a884"/><circle cx="466" cy="456" r="7.5" fill="#7ad151"/><circle cx="466" cy="456" r="5" fill="#fde725"/><path d="M466 452 l4 4 l-4 4" stroke="#b0505a" stroke-width="2.5" fill="none"/></g><path d="M596.0 101.0 L540.0 165.0 L481.4 226.4 L443.6 271.6 L413.4 309.3 L393.8 340.0 L375.7 367.2 L363.7 382.3 L362.1 404.9 L368.2 424.5 L374.2 439.6 L389.3 445.6 L420.0 452.0 L470.8 453.2" stroke="#0000ff" stroke-width="2.6" stroke-dasharray="2.6 4.2" fill="none"/><path d="M486.0 452.0 L505.0 440.0 L535.0 432.0 L545.0 455.0 L560.0 475.0 L600.0 478.0 L604.0 492.0 L560.0 510.0 L520.0 505.0 L540.0 520.0 L560.0 540.0 L575.0 570.0 L585.0 590.0 L600.0 605.0 L650.0 600.0 L700.0 604.0 L760.0 602.0 L800.0 604.0" stroke="#00bfbf" stroke-width="9" stroke-opacity="0.85" fill="none" stroke-linejoin="round" stroke-dasharray="5 2"/><path d="M474.0 465.3 L485.3 466.7 L499.5 436.9 L510.9 432.6 L533.6 445.4 L562.0 475.2 L603.2 469.5 L604.6 489.4 L590.4 509.3 L471.1 566.1 L474.0 577.4 L590.0 515.0 L575.0 560.0 L578.0 600.0 L620.0 590.0 L660.0 598.0 L700.0 600.0 L760.0 600.0 L800.0 602.0" stroke="#008000" stroke-width="2.6" fill="none" stroke-linejoin="round"/><path d="M466.9 463.8 L474.0 456.7 L488.2 451.0 L505.2 436.9 L533.6 431.2 L540.7 439.7 L545.0 455.3 L560.6 475.2 L562.0 449.6 L604.6 480.9 L633.0 512.0 L604.6 492.2 L519.4 475.2 L512.3 453.9 L522.2 489.4 L533.6 510.7 L518.0 509.3 L562.0 510.7 L550.6 496.5 L562.0 524.9 L564.8 553.3 L553.5 543.4 L576.2 567.5 L583.3 563.2 L584.7 574.6 L569.1 588.8 L572.0 605.8 L590.4 603.0 L610.0 598.0 L630.0 612.0 L650.0 596.0 L665.0 612.0 L690.0 600.0 L700.0 612.0 L730.0 606.0 L770.0 604.0 L800.0 604.0" stroke="#ff0000" stroke-width="4" fill="none" stroke-linejoin="round"/><path d="M536 432 l12 38 l14 -12 z M522 468 l18 10 l-2 12 z M575 600 l40 -4 l20 10 l30 -12 l25 10 l-30 6 z" fill="#ff0000"/><path d="M825.0 621.0 L732.0 621.0 L663.0 628.0 L656.0 628.0 L593.0 607.0 L586.0 577.0 L556.0 533.0 L534.0 519.0 L513.0 497.0 L571.0 467.0 L543.0 438.0 L505.0 447.0 L477.0 462.0" stroke="#0000ff" stroke-width="2.4" fill="none"/><path d="M571 467 L595 496" stroke="#0000ff" stroke-width="2.4"/><g fill="#0000ff"><circle cx="825" cy="621" r="4.3"/><circle cx="732" cy="621" r="4.3"/><circle cx="663" cy="628" r="4.3"/><circle cx="656" cy="628" r="4.3"/><circle cx="593" cy="607" r="4.3"/><circle cx="586" cy="577" r="4.3"/><circle cx="556" cy="533" r="4.3"/><circle cx="534" cy="519" r="4.3"/><circle cx="513" cy="497" r="4.3"/><circle cx="571" cy="467" r="4.3"/><circle cx="543" cy="438" r="4.3"/><circle cx="505" cy="447" r="4.3"/><circle cx="477" cy="462" r="4.3"/><circle cx="595" cy="496" r="4.3"/></g><g fill="#bf00bf"><rect x="559.6" y="416.0" width="9" height="9"/><rect x="539.0" y="427.4" width="9" height="9"/><rect x="475.1" y="443.7" width="9" height="9"/><rect x="499.3" y="446.5" width="9" height="9"/><rect x="529.1" y="458.6" width="9" height="9"/><rect x="543.3" y="465.0" width="9" height="9"/><rect x="540.5" y="482.1" width="9" height="9"/><rect x="506.4" y="496.3" width="9" height="9"/><rect x="577.4" y="514.7" width="9" height="9"/><rect x="592.3" y="514.0" width="9" height="9"/><rect x="621.4" y="533.2" width="9" height="9"/><rect x="476.6" y="554.5" width="9" height="9"/><rect x="519.9" y="589.3" width="9" height="9"/><rect x="509.9" y="599.9" width="9" height="9"/><rect x="572.4" y="606.3" width="9" height="9"/><rect x="604.4" y="484.9" width="9" height="9"/><rect x="639.5" y="641.1" width="9" height="9"/><rect x="666.7" y="653.9" width="9" height="9"/><rect x="672.0" y="628.2" width="9" height="9"/><rect x="725.5" y="649.4" width="9" height="9"/><rect x="753.5" y="640.3" width="9" height="9"/><rect x="767.1" y="638.8" width="9" height="9"/><rect x="802.2" y="581.2" width="9" height="9"/><rect x="676.5" y="611.5" width="9" height="9"/></g><path d="M467.5 440.5 l11 11 M478.5 440.5 l-11 11" stroke="#ff0000" stroke-width="3.4"/><text x="790" y="345" font-size="17" fill="#2a788e">−64</text><text x="800" y="384" font-size="17" fill="#2a788e">−64</text><text x="503" y="432" font-size="17" fill="#414487">−76</text><text x="780" y="470" font-size="17" fill="#414487">−76</text><text x="408" y="453" font-size="17" fill="#414487">−81</text><text x="518" y="582" font-size="17" fill="#2a788e">−64</text><text x="410" y="624" font-size="17" fill="#22a884">−54</text><text x="660" y="617" font-size="17" fill="#22a884">−54</text><text x="690" y="675" font-size="17" fill="#22a884">−54</text>
<path d="M192.1 102V829M105 191.8H833M337.6 102V829M105 337.3H833M483.2 102V829M105 482.8H833M628.8 102V829M105 628.3H833M774.3 102V829M105 773.8H833" stroke="#fff" stroke-width="2.2" stroke-dasharray="2.3 3.4" fill="none"/>
<rect x="488" y="108" width="338.6" height="187.3" rx="3.5" fill="#fff" fill-opacity="0.8" stroke="#cccccc" stroke-opacity="0.8" stroke-width="1.6"/>
<text x="536.60" y="127.00" font-size="15.6" text-anchor="start" font-weight="normal" fill="#000" >AMSU Locations NONE</text>
<text x="536.60" y="150.10" font-size="15.6" text-anchor="start" font-weight="normal" fill="#000" >ARCHER Locations [0403Z]</text>
<text x="536.60" y="172.50" font-size="15.6" text-anchor="start" font-weight="normal" fill="#000" >SATCON Locations [0610Z 100 957]</text>
<text x="536.60" y="195.80" font-size="15.6" text-anchor="start" font-weight="normal" fill="#000" >ADT Tracks [0710Z 104.6 954.9]</text>
<text x="536.60" y="218.60" font-size="15.6" text-anchor="start" font-weight="normal" fill="#000" >JTWC/NHC Forecast [26/0000Z]</text>
<text x="536.60" y="241.40" font-size="15.6" text-anchor="start" font-weight="normal" fill="#000" >JTWC/NHC Tracks [26/0600Z]</text>
<text x="536.60" y="264.30" font-size="15.6" text-anchor="start" font-weight="normal" fill="#000" >MESOSCALE/TARGET Location</text>
<text x="536.60" y="286.70" font-size="15.6" text-anchor="start" font-weight="normal" fill="#000" >Floater Locater</text>
<rect x="505.1" y="117.3" width="9" height="9" fill="#bf00bf"/>
<rect x="505.1" y="140.8" width="9" height="9" fill="#bf00bf"/>
<path d="M505.4 163.1 l8 8 M513.4 163.1 l-8 8" stroke="#00bfbf" stroke-width="2.6"/>
<path d="M493 190.5 H526.5" stroke="#008000" stroke-width="2.6"/>
<path d="M493 213.2 H526.5" stroke="#0000ff" stroke-width="2.6" stroke-dasharray="2.6 4.2"/>
<path d="M493 235.8 H526.5" stroke="#0000ff" stroke-width="2.6"/><circle cx="509.7" cy="235.8" r="4.5" fill="#0000ff"/>
<path d="M504.2 254 l11 11 M515.2 254 l-11 11" stroke="#ff0000" stroke-width="3.4"/>
<path d="M493 281.9 H526.5" stroke="#ff0000" stroke-width="2.6"/>
<rect x="101.6" y="804.6" width="309" height="26.5" rx="4" fill="#000"/>
<text x="107.20" y="821.70" font-size="17.4" text-anchor="start" font-weight="bold" fill="#fff" >Copyright © 2020-2025 Dapiya</text>
<text x="192.10" y="850.60" font-size="13.2" text-anchor="middle" font-weight="normal" fill="#000" >80°W</text>
<text x="337.65" y="850.60" font-size="13.2" text-anchor="middle" font-weight="normal" fill="#000" >78°W</text>
<text x="483.20" y="850.60" font-size="13.2" text-anchor="middle" font-weight="normal" fill="#000" >76°W</text>
<text x="628.75" y="850.60" font-size="13.2" text-anchor="middle" font-weight="normal" fill="#000" >74°W</text>
<text x="774.30" y="850.60" font-size="13.2" text-anchor="middle" font-weight="normal" fill="#000" >72°W</text>
<text x="96.00" y="196.60" font-size="13.2" text-anchor="end" font-weight="normal" fill="#000" >20°N</text>
<text x="96.00" y="342.10" font-size="13.2" text-anchor="end" font-weight="normal" fill="#000" >18°N</text>
<text x="96.00" y="487.60" font-size="13.2" text-anchor="end" font-weight="normal" fill="#000" >16°N</text>
<text x="96.00" y="633.10" font-size="13.2" text-anchor="end" font-weight="normal" fill="#000" >14°N</text>
<text x="96.00" y="778.60" font-size="13.2" text-anchor="end" font-weight="normal" fill="#000" >12°N</text>
<text x="849.00" y="93.60" font-size="17.3" text-anchor="start" font-weight="normal" fill="#000" >°C</text>
<rect x="839" y="101" width="16" height="729" fill="url(#gGray)" stroke="#000" stroke-width="0.9"/>
<text x="861.00" y="161.38" font-size="17.3" text-anchor="start" font-weight="normal" fill="#000" >40</text>
<text x="861.00" y="215.46" font-size="17.3" text-anchor="start" font-weight="normal" fill="#000" >30</text>
<text x="861.00" y="269.54" font-size="17.3" text-anchor="start" font-weight="normal" fill="#000" >20</text>
<text x="861.00" y="323.62" font-size="17.3" text-anchor="start" font-weight="normal" fill="#000" >10</text>
<text x="861.00" y="377.70" font-size="17.3" text-anchor="start" font-weight="normal" fill="#000" >0</text>
<text x="861.00" y="431.78" font-size="17.3" text-anchor="start" font-weight="normal" fill="#000" >−10</text>
<text x="861.00" y="485.86" font-size="17.3" text-anchor="start" font-weight="normal" fill="#000" >−20</text>
<text x="861.00" y="539.94" font-size="17.3" text-anchor="start" font-weight="normal" fill="#000" >−30</text>
<text x="861.00" y="594.02" font-size="17.3" text-anchor="start" font-weight="normal" fill="#000" >−40</text>
<text x="861.00" y="648.10" font-size="17.3" text-anchor="start" font-weight="normal" fill="#000" >−50</text>
<text x="861.00" y="702.18" font-size="17.3" text-anchor="start" font-weight="normal" fill="#000" >−60</text>
<text x="861.00" y="756.26" font-size="17.3" text-anchor="start" font-weight="normal" fill="#000" >−70</text>
<text x="861.00" y="810.34" font-size="17.3" text-anchor="start" font-weight="normal" fill="#000" >−80</text>
<g clip-path="url(#clipR)">
<use href="#imgR"/>
</g>
<path d="M1067.1 103V829M981 191.8H1706M1212.6 103V829M981 337.3H1706M1358.2 103V829M981 482.8H1706M1503.8 103V829M981 628.3H1706M1649.3 103V829M981 773.8H1706" stroke="#fff" stroke-width="2.2" stroke-dasharray="2.3 3.4" fill="none"/>
<rect x="979.3" y="101.5" width="727.9" height="727.9" fill="none" stroke="#000" stroke-width="2.6"/>
<text x="1067.10" y="850.60" font-size="13.2" text-anchor="middle" font-weight="normal" fill="#000" >80°W</text>
<text x="1212.65" y="850.60" font-size="13.2" text-anchor="middle" font-weight="normal" fill="#000" >78°W</text>
<text x="1358.20" y="850.60" font-size="13.2" text-anchor="middle" font-weight="normal" fill="#000" >76°W</text>
<text x="1503.75" y="850.60" font-size="13.2" text-anchor="middle" font-weight="normal" fill="#000" >74°W</text>
<text x="1649.30" y="850.60" font-size="13.2" text-anchor="middle" font-weight="normal" fill="#000" >72°W</text>
<text x="971.00" y="196.60" font-size="13.2" text-anchor="end" font-weight="normal" fill="#000" >20°N</text>
<text x="971.00" y="342.10" font-size="13.2" text-anchor="end" font-weight="normal" fill="#000" >18°N</text>
<text x="971.00" y="487.60" font-size="13.2" text-anchor="end" font-weight="normal" fill="#000" >16°N</text>
<text x="971.00" y="633.10" font-size="13.2" text-anchor="end" font-weight="normal" fill="#000" >14°N</text>
<text x="971.00" y="778.60" font-size="13.2" text-anchor="end" font-weight="normal" fill="#000" >12°N</text>
<text x="1724.00" y="93.60" font-size="17.3" text-anchor="start" font-weight="normal" fill="#000" >°C</text>
<rect x="1714.3" y="101" width="15.5" height="729" fill="url(#gAWV)" stroke="#000" stroke-width="0.9"/>
<text x="1736.00" y="155.90" font-size="17.3" text-anchor="start" font-weight="normal" fill="#000" >40</text>
<text x="1736.00" y="204.50" font-size="17.3" text-anchor="start" font-weight="normal" fill="#000" >30</text>
<text x="1736.00" y="253.10" font-size="17.3" text-anchor="start" font-weight="normal" fill="#000" >20</text>
<text x="1736.00" y="301.70" font-size="17.3" text-anchor="start" font-weight="normal" fill="#000" >10</text>
<text x="1736.00" y="350.30" font-size="17.3" text-anchor="start" font-weight="normal" fill="#000" >0</text>
<text x="1736.00" y="398.90" font-size="17.3" text-anchor="start" font-weight="normal" fill="#000" >−10</text>
<text x="1736.00" y="447.50" font-size="17.3" text-anchor="start" font-weight="normal" fill="#000" >−20</text>
<text x="1736.00" y="496.10" font-size="17.3" text-anchor="start" font-weight="normal" fill="#000" >−30</text>
<text x="1736.00" y="544.70" font-size="17.3" text-anchor="start" font-weight="normal" fill="#000" >−40</text>
<text x="1736.00" y="593.30" font-size="17.3" text-anchor="start" font-weight="normal" fill="#000" >−50</text>
<text x="1736.00" y="641.90" font-size="17.3" text-anchor="start" font-weight="normal" fill="#000" >−60</text>
<text x="1736.00" y="690.50" font-size="17.3" text-anchor="start" font-weight="normal" fill="#000" >−70</text>
<text x="1736.00" y="739.10" font-size="17.3" text-anchor="start" font-weight="normal" fill="#000" >−80</text>
<text x="1736.00" y="787.70" font-size="17.3" text-anchor="start" font-weight="normal" fill="#000" >−90</text>
<g clip-path="url(#clipR)"><circle cx="1342.5" cy="457.5" r="12" fill="#ffb040"/><circle cx="1342.5" cy="457.5" r="8" fill="#ffe070"/><path d="M1341 451 q6 0 7 5 q-1 5 -6 6" fill="none" stroke="#a0f090" stroke-width="2.5"/><g fill="none" stroke="#fff" stroke-width="1.8" stroke-linejoin="round"><path d="M1175.0 103.0 L1190.5 125.0 L1212.0 140.5 L1225.0 139.0 L1253.0 140.5 L1268.0 145.0 L1271.5 151.0 L1278.0 157.6 L1274.7 165.4 L1259.0 174.8 L1243.5 184.0 L1232.6 196.6 L1234.0 202.8 L1259.0 199.7 L1290.0 196.6 L1324.5 192.9 L1352.6 192.9 L1386.8 196.6 L1418.0 196.6 L1424.0 190.4 L1430.5 193.5 L1455.0 190.4 L1477.0 185.7 L1489.7 181.0 L1492.8 173.2 L1480.0 167.0 L1464.7 159.2 L1446.0 146.7 L1424.0 140.5 L1399.0 137.4 L1386.8 134.3 L1376.0 139.0 L1374.4 131.2 L1380.6 123.4 L1386.8 115.6 L1374.4 109.3 L1352.6 104.7 L1337.0 102.0"/><path d="M1525.5 102.0 L1525.5 112.5 L1528.6 123.4 L1542.6 121.8 L1564.5 115.6 L1575.4 104.7 L1576.0 102.0"/><path d="M1698.5 202.8 L1679.8 199.7 L1670.0 202.8 L1661.0 213.7 L1636.0 212.0 L1617.4 206.0 L1592.5 199.7 L1567.6 193.5 L1552.0 196.6 L1545.8 202.8 L1544.0 207.5 L1545.8 215.3 L1564.5 221.5 L1586.0 227.8 L1598.7 234.0 L1592.5 243.3 L1595.6 255.8 L1601.9 268.3 L1611.2 280.7 L1623.7 287.0 L1625.2 296.3 L1614.3 299.4 L1601.9 302.5 L1570.7 302.5 L1539.5 297.9 L1517.7 294.8 L1492.8 290.0 L1477.2 288.5 L1471.0 299.4 L1471.0 308.8 L1486.6 315.0 L1502.0 324.4 L1511.5 333.7 L1517.7 330.6 L1524.0 321.3 L1555.0 319.7 L1586.3 322.8 L1617.4 321.9 L1642.4 319.7 L1658.0 324.4 L1670.4 336.8 L1676.6 349.3 L1679.8 358.6 L1692.2 364.9 L1700.0 370.0"/><path d="M1187.4 315.0 L1196.7 304.0 L1218.6 299.4 L1252.8 301.0 L1281.0 305.7 L1302.7 315.0 L1324.5 324.4 L1337.0 333.7 L1343.2 343.0 L1330.7 346.2 L1305.8 343.0 L1296.5 338.4 L1287.0 346.2 L1274.7 358.6 L1265.3 352.4 L1252.8 346.2 L1228.0 344.6 L1212.3 333.7 L1190.5 321.3 L1187.4 315.0Z"/><path d="M1603.0 796.0 L1625.0 782.0 L1646.0 767.0 L1656.5 756.5 L1667.0 743.0 L1688.5 740.5 L1700.0 742.0"/><ellipse cx="1572" cy="276" rx="19" ry="6" transform="rotate(28 1572 276)"/><path d="M1111 109L1119 113M1127 119L1140 127M1143 129L1156 138M1164 138L1173 142M1179 145L1187 151M1059 216L1071 211M1076 211L1088 207" stroke-width="3.2" stroke-linecap="round"/></g></g>
<path d="M135.00 1260.78 L154.57 1260.78 L174.14 1260.78 L193.71 1260.78 L213.28 1240.75 L232.85 1240.75 L252.42 1240.75 L271.99 1240.75 L291.56 1240.75 L311.13 1240.75 L330.70 1240.75 L350.27 1240.75 L369.84 1220.72 L389.41 1220.72 L408.98 1220.72 L428.55 1200.70 L448.12 1180.67 L467.69 1180.67 L487.26 1180.67 L506.83 1180.67 L526.40 1180.67 L545.97 1180.67 L565.54 1180.67 L585.11 1200.70 L604.68 1200.70 L624.25 1200.70 L643.82 1200.70 L663.39 1200.70 L682.96 1200.70 L702.53 1160.65 L722.10 1140.62 L741.67 1120.60 L761.24 1120.60 L780.81 1060.53 L800.38 1000.45 L819.95 920.35" stroke="#0000ff" stroke-width="5.2" fill="none" stroke-linejoin="round"/>
<rect x="112.3" y="911.3" width="228.2" height="37.200000000000045" rx="4" fill="#fff" fill-opacity="0.8" stroke="#cccccc" stroke-width="2"/>
<path d="M119 928.4H162" stroke="#0000ff" stroke-width="5.2"/>
<text x="175.30" y="935.40" font-size="19" text-anchor="start" font-weight="normal" fill="#000" >Wind[max=110]</text>
<path d="M135.00 919.93 L154.57 919.93 L174.14 919.93 L193.71 919.93 L213.28 919.93 L232.85 925.90 L252.42 925.90 L271.99 925.90 L291.56 931.87 L311.13 931.87 L330.70 931.87 L350.27 937.84 L369.84 937.84 L389.41 937.84 L408.98 949.78 L428.55 961.72 L448.12 967.69 L467.69 967.69 L487.26 967.69 L506.83 979.63 L526.40 979.63 L545.97 979.63 L565.54 973.66 L585.11 967.69 L604.68 967.69 L624.25 979.63 L643.82 979.63 L663.39 979.63 L682.96 979.63 L702.53 1003.51 L722.10 1027.39 L741.67 1069.18 L761.24 1093.06 L780.81 1128.88 L800.38 1158.73 L819.95 1260.22" stroke="#1f77b4" stroke-width="5.2" fill="none" stroke-linejoin="round"/>
<rect x="624.4" y="911.4" width="221.10000000000002" height="36.700000000000045" rx="4" fill="#fff" fill-opacity="0.8" stroke="#cccccc" stroke-width="2"/>
<path d="M631 928H674" stroke="#1f77b4" stroke-width="5.2"/>
<text x="687.30" y="935.40" font-size="19" text-anchor="start" font-weight="normal" fill="#000" >Pres.[min=954]</text>
<path d="M135.00 1636.30 L154.57 1636.30 L174.14 1636.30 L193.71 1636.30 L213.28 1636.30 L232.85 1636.30 L252.42 1636.30 L271.99 1636.30 L291.56 1636.30 L311.13 1636.30 L330.70 1636.30 L350.27 1636.30 L369.84 1636.30 L389.41 1636.30 L408.98 1636.30 L428.55 1627.78 L448.12 1616.99 L467.69 1606.20 L487.26 1595.41 L506.83 1584.62 L526.40 1573.83 L545.97 1563.04 L565.54 1552.25 L585.11 1543.73 L604.68 1535.20 L624.25 1526.68 L643.82 1518.15 L663.39 1509.63 L682.96 1501.10 L702.53 1487.78 L722.10 1471.66 L741.67 1452.48 L761.24 1433.30 L780.81 1403.33 L800.38 1360.18 L819.95 1295.71" stroke="#008000" stroke-width="5.2" fill="none" stroke-linejoin="round"/>
<rect x="112.4" y="1286.2" width="248.1" height="37.0" rx="4" fill="#fff" fill-opacity="0.8" stroke="#cccccc" stroke-width="2"/>
<path d="M118.8 1303.4H162" stroke="#008000" stroke-width="5.2"/>
<text x="174.30" y="1310.70" font-size="19" text-anchor="start" font-weight="normal" fill="#000" >ACE[max=6.3925]</text>
<rect x="104.4" y="903.5" width="750" height="374.8" fill="none" stroke="#000" stroke-width="2.7"/>
<rect x="104.4" y="1278.3" width="750" height="375.2" fill="none" stroke="#000" stroke-width="2.7"/>
<text x="78.80" y="1205.70" font-size="13.2" text-anchor="end" font-weight="normal" fill="#000" >40</text>
<text x="78.80" y="1125.60" font-size="13.2" text-anchor="end" font-weight="normal" fill="#000" >60</text>
<text x="78.80" y="1045.50" font-size="13.2" text-anchor="end" font-weight="normal" fill="#000" >80</text>
<text x="78.80" y="965.40" font-size="13.2" text-anchor="end" font-weight="normal" fill="#000" >100</text>
<text x="878.00" y="1229.40" font-size="13.2" text-anchor="start" font-weight="normal" fill="#000" >960</text>
<text x="878.00" y="1169.70" font-size="13.2" text-anchor="start" font-weight="normal" fill="#000" >970</text>
<text x="878.00" y="1110.00" font-size="13.2" text-anchor="start" font-weight="normal" fill="#000" >980</text>
<text x="878.00" y="1050.30" font-size="13.2" text-anchor="start" font-weight="normal" fill="#000" >990</text>
<text x="878.00" y="990.60" font-size="13.2" text-anchor="start" font-weight="normal" fill="#000" >1000</text>
<text x="878.00" y="930.90" font-size="13.2" text-anchor="start" font-weight="normal" fill="#000" >1010</text>
<text x="78.80" y="1641.30" font-size="13.2" text-anchor="end" font-weight="normal" fill="#000" >0</text>
<text x="78.80" y="1588.02" font-size="13.2" text-anchor="end" font-weight="normal" fill="#000" >1</text>
<text x="78.80" y="1534.74" font-size="13.2" text-anchor="end" font-weight="normal" fill="#000" >2</text>
<text x="78.80" y="1481.46" font-size="13.2" text-anchor="end" font-weight="normal" fill="#000" >3</text>
<text x="78.80" y="1428.18" font-size="13.2" text-anchor="end" font-weight="normal" fill="#000" >4</text>
<text x="78.80" y="1374.90" font-size="13.2" text-anchor="end" font-weight="normal" fill="#000" >5</text>
<text x="78.80" y="1321.62" font-size="13.2" text-anchor="end" font-weight="normal" fill="#000" >6</text>
<path d="M92.3 1200.70H104.4M92.3 1120.60H104.4M92.3 1040.50H104.4M92.3 960.40H104.4M854.4 1224.40H866.5M854.4 1164.70H866.5M854.4 1105.00H866.5M854.4 1045.30H866.5M854.4 985.60H866.5M854.4 925.90H866.5M92.3 1636.30H104.4M92.3 1583.02H104.4M92.3 1529.74H104.4M92.3 1476.46H104.4M92.3 1423.18H104.4M92.3 1369.90H104.4M92.3 1316.62H104.4" stroke="#000" stroke-width="2.7"/>
<text x="0.00" y="0.00" font-size="13.2" text-anchor="middle" font-weight="normal" fill="#000" transform="translate(34.9 1092.3) rotate(-90)">Wind</text>
<text x="0.00" y="0.00" font-size="13.2" text-anchor="middle" font-weight="normal" fill="#000" transform="translate(937.9 1092.5) rotate(-90)">Pressure</text>
<text x="0.00" y="0.00" font-size="13.2" text-anchor="middle" font-weight="normal" fill="#000" transform="translate(54 1466.5) rotate(-90)">ACE</text>
<text x="479.40" y="882.10" font-size="22.6" text-anchor="middle" font-weight="normal" fill="#000" >Wind / Pres. / ACE Diagnosis</text>
<g clip-path="url(#clipW)">
<use href="#imgW"/>
</g>
<rect x="979.4" y="903.4" width="751" height="750" fill="none" stroke="#000" stroke-width="2.6"/>
<rect x="991.1" y="916.7" width="179.8" height="32.3" rx="5" fill="#000"/>
<text x="996.60" y="938.40" font-size="20.7" text-anchor="start" font-weight="bold" fill="#fff" >WMG Count: 1</text>
</svg></body></html>
